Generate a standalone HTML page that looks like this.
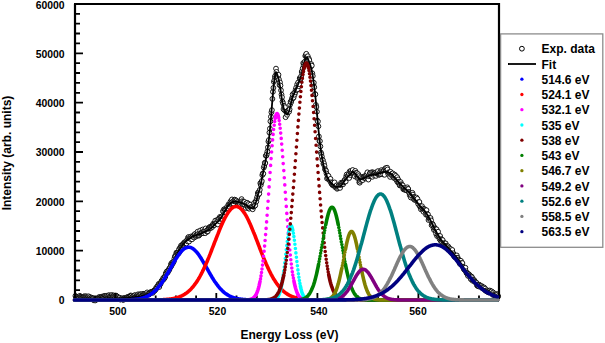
<!DOCTYPE html>
<html><head><meta charset="utf-8"><style>
html,body{margin:0;padding:0;background:#fff;}
svg{display:block;font-family:"Liberation Sans",sans-serif;font-weight:bold;}
</style></head><body>
<svg width="605" height="343" viewBox="0 0 605 343">
<rect width="605" height="343" fill="#fff"/>
<g fill="#fff" stroke="#000" stroke-width="0.9"><circle cx="75.4" cy="295.9" r="2.4"/><circle cx="75.9" cy="298.2" r="2.4"/><circle cx="76.4" cy="296.8" r="2.4"/><circle cx="76.9" cy="297.4" r="2.4"/><circle cx="77.4" cy="297.3" r="2.4"/><circle cx="77.9" cy="297.1" r="2.4"/><circle cx="78.4" cy="298.2" r="2.4"/><circle cx="78.9" cy="297.1" r="2.4"/><circle cx="79.4" cy="297.5" r="2.4"/><circle cx="79.9" cy="295.8" r="2.4"/><circle cx="80.4" cy="296.8" r="2.4"/><circle cx="80.9" cy="297.1" r="2.4"/><circle cx="81.5" cy="297.1" r="2.4"/><circle cx="82" cy="297.3" r="2.4"/><circle cx="82.5" cy="297.5" r="2.4"/><circle cx="83" cy="297.1" r="2.4"/><circle cx="83.5" cy="296.6" r="2.4"/><circle cx="84" cy="297" r="2.4"/><circle cx="84.5" cy="296.3" r="2.4"/><circle cx="85" cy="297.1" r="2.4"/><circle cx="85.5" cy="297" r="2.4"/><circle cx="86" cy="296.2" r="2.4"/><circle cx="86.5" cy="296.9" r="2.4"/><circle cx="87" cy="297.6" r="2.4"/><circle cx="87.5" cy="297.5" r="2.4"/><circle cx="88" cy="297.1" r="2.4"/><circle cx="88.5" cy="296.3" r="2.4"/><circle cx="89" cy="297.7" r="2.4"/><circle cx="89.5" cy="297.8" r="2.4"/><circle cx="90" cy="297.1" r="2.4"/><circle cx="90.5" cy="298.4" r="2.4"/><circle cx="91.1" cy="298.3" r="2.4"/><circle cx="91.6" cy="297.7" r="2.4"/><circle cx="92.1" cy="298.1" r="2.4"/><circle cx="92.6" cy="298.6" r="2.4"/><circle cx="93.1" cy="298.4" r="2.4"/><circle cx="93.6" cy="300.2" r="2.4"/><circle cx="94.1" cy="298.6" r="2.4"/><circle cx="94.6" cy="300" r="2.4"/><circle cx="95.1" cy="300.5" r="2.4"/><circle cx="95.6" cy="299.2" r="2.4"/><circle cx="96.1" cy="298.7" r="2.4"/><circle cx="96.6" cy="299.2" r="2.4"/><circle cx="97.1" cy="299.4" r="2.4"/><circle cx="97.6" cy="298.5" r="2.4"/><circle cx="98.1" cy="298.4" r="2.4"/><circle cx="98.6" cy="297.3" r="2.4"/><circle cx="99.1" cy="297.5" r="2.4"/><circle cx="99.6" cy="297.7" r="2.4"/><circle cx="100.1" cy="297" r="2.4"/><circle cx="100.6" cy="297.6" r="2.4"/><circle cx="101.2" cy="297.9" r="2.4"/><circle cx="101.7" cy="296.8" r="2.4"/><circle cx="102.2" cy="296.6" r="2.4"/><circle cx="102.7" cy="296.9" r="2.4"/><circle cx="103.2" cy="297.1" r="2.4"/><circle cx="103.7" cy="296.3" r="2.4"/><circle cx="104.2" cy="297.6" r="2.4"/><circle cx="104.7" cy="295.9" r="2.4"/><circle cx="105.2" cy="295.9" r="2.4"/><circle cx="105.7" cy="297.2" r="2.4"/><circle cx="106.2" cy="296.1" r="2.4"/><circle cx="106.7" cy="296.7" r="2.4"/><circle cx="107.2" cy="295.6" r="2.4"/><circle cx="107.7" cy="297.2" r="2.4"/><circle cx="108.2" cy="296.5" r="2.4"/><circle cx="108.7" cy="295.5" r="2.4"/><circle cx="109.2" cy="295.2" r="2.4"/><circle cx="109.7" cy="297" r="2.4"/><circle cx="110.2" cy="296.1" r="2.4"/><circle cx="110.8" cy="295.7" r="2.4"/><circle cx="111.3" cy="296.3" r="2.4"/><circle cx="111.8" cy="295" r="2.4"/><circle cx="112.3" cy="296.8" r="2.4"/><circle cx="112.8" cy="295.9" r="2.4"/><circle cx="113.3" cy="296.8" r="2.4"/><circle cx="113.8" cy="295.4" r="2.4"/><circle cx="114.3" cy="296.3" r="2.4"/><circle cx="114.8" cy="296.6" r="2.4"/><circle cx="115.3" cy="297.5" r="2.4"/><circle cx="115.8" cy="295.5" r="2.4"/><circle cx="116.3" cy="296.2" r="2.4"/><circle cx="116.8" cy="296.5" r="2.4"/><circle cx="117.3" cy="296.5" r="2.4"/><circle cx="117.8" cy="297.3" r="2.4"/><circle cx="118.3" cy="298.1" r="2.4"/><circle cx="118.8" cy="298.5" r="2.4"/><circle cx="119.3" cy="298.8" r="2.4"/><circle cx="119.8" cy="297.7" r="2.4"/><circle cx="120.4" cy="299.6" r="2.4"/><circle cx="120.9" cy="299" r="2.4"/><circle cx="121.4" cy="298.9" r="2.4"/><circle cx="121.9" cy="298.6" r="2.4"/><circle cx="122.4" cy="298.4" r="2.4"/><circle cx="122.9" cy="299.6" r="2.4"/><circle cx="123.4" cy="299.9" r="2.4"/><circle cx="123.9" cy="298.8" r="2.4"/><circle cx="124.4" cy="297.9" r="2.4"/><circle cx="124.9" cy="298" r="2.4"/><circle cx="125.4" cy="298.2" r="2.4"/><circle cx="125.9" cy="298.3" r="2.4"/><circle cx="126.4" cy="297.7" r="2.4"/><circle cx="126.9" cy="297.8" r="2.4"/><circle cx="127.4" cy="297" r="2.4"/><circle cx="127.9" cy="297.8" r="2.4"/><circle cx="128.4" cy="297.1" r="2.4"/><circle cx="128.9" cy="297.2" r="2.4"/><circle cx="129.4" cy="296.6" r="2.4"/><circle cx="130" cy="296.8" r="2.4"/><circle cx="130.5" cy="295.5" r="2.4"/><circle cx="131" cy="295.8" r="2.4"/><circle cx="131.5" cy="295.7" r="2.4"/><circle cx="132" cy="297.8" r="2.4"/><circle cx="132.5" cy="296.6" r="2.4"/><circle cx="133" cy="296.7" r="2.4"/><circle cx="133.5" cy="295.9" r="2.4"/><circle cx="134" cy="297.4" r="2.4"/><circle cx="134.5" cy="295.3" r="2.4"/><circle cx="135" cy="295.3" r="2.4"/><circle cx="135.5" cy="296.9" r="2.4"/><circle cx="136" cy="296.6" r="2.4"/><circle cx="136.5" cy="296.4" r="2.4"/><circle cx="137" cy="295.8" r="2.4"/><circle cx="137.5" cy="295.3" r="2.4"/><circle cx="138" cy="294.3" r="2.4"/><circle cx="138.5" cy="295.8" r="2.4"/><circle cx="139" cy="295" r="2.4"/><circle cx="139.5" cy="295.4" r="2.4"/><circle cx="140.1" cy="294.2" r="2.4"/><circle cx="140.6" cy="294.9" r="2.4"/><circle cx="141.1" cy="294.3" r="2.4"/><circle cx="141.6" cy="296.1" r="2.4"/><circle cx="142.1" cy="295.3" r="2.4"/><circle cx="142.6" cy="295.7" r="2.4"/><circle cx="143.1" cy="293.8" r="2.4"/><circle cx="143.6" cy="294.4" r="2.4"/><circle cx="144.1" cy="295" r="2.4"/><circle cx="144.6" cy="295" r="2.4"/><circle cx="145.1" cy="294.2" r="2.4"/><circle cx="145.6" cy="295" r="2.4"/><circle cx="146.1" cy="295" r="2.4"/><circle cx="146.6" cy="293.8" r="2.4"/><circle cx="147.1" cy="292.4" r="2.4"/><circle cx="147.6" cy="294.1" r="2.4"/><circle cx="148.1" cy="294.2" r="2.4"/><circle cx="148.6" cy="294.5" r="2.4"/><circle cx="149.1" cy="294.5" r="2.4"/><circle cx="149.7" cy="292.8" r="2.4"/><circle cx="150.2" cy="292.3" r="2.4"/><circle cx="150.7" cy="292.8" r="2.4"/><circle cx="151.2" cy="292.2" r="2.4"/><circle cx="151.7" cy="292.1" r="2.4"/><circle cx="152.2" cy="291.8" r="2.4"/><circle cx="152.7" cy="292.9" r="2.4"/><circle cx="153.2" cy="291.6" r="2.4"/><circle cx="153.7" cy="290.7" r="2.4"/><circle cx="154.2" cy="291" r="2.4"/><circle cx="154.7" cy="290.3" r="2.4"/><circle cx="155.2" cy="290.1" r="2.4"/><circle cx="155.7" cy="289.2" r="2.4"/><circle cx="156.2" cy="287.6" r="2.4"/><circle cx="156.7" cy="288.2" r="2.4"/><circle cx="157.2" cy="287.4" r="2.4"/><circle cx="157.7" cy="285.9" r="2.4"/><circle cx="158.2" cy="285.5" r="2.4"/><circle cx="158.7" cy="283.9" r="2.4"/><circle cx="159.3" cy="287" r="2.4"/><circle cx="159.8" cy="283.5" r="2.4"/><circle cx="160.3" cy="284.3" r="2.4"/><circle cx="160.8" cy="283" r="2.4"/><circle cx="161.3" cy="281.6" r="2.4"/><circle cx="161.8" cy="280.7" r="2.4"/><circle cx="162.3" cy="280" r="2.4"/><circle cx="162.8" cy="280.2" r="2.4"/><circle cx="163.3" cy="277.9" r="2.4"/><circle cx="163.8" cy="279.1" r="2.4"/><circle cx="164.3" cy="278.2" r="2.4"/><circle cx="164.8" cy="276.3" r="2.4"/><circle cx="165.3" cy="276.9" r="2.4"/><circle cx="165.8" cy="273.2" r="2.4"/><circle cx="166.3" cy="273.4" r="2.4"/><circle cx="166.8" cy="271.4" r="2.4"/><circle cx="167.3" cy="272.8" r="2.4"/><circle cx="167.8" cy="272.3" r="2.4"/><circle cx="168.3" cy="270.7" r="2.4"/><circle cx="168.9" cy="269.1" r="2.4"/><circle cx="169.4" cy="269.8" r="2.4"/><circle cx="169.9" cy="267.7" r="2.4"/><circle cx="170.4" cy="267.2" r="2.4"/><circle cx="170.9" cy="264.2" r="2.4"/><circle cx="171.4" cy="266" r="2.4"/><circle cx="171.9" cy="262.7" r="2.4"/><circle cx="172.4" cy="263.8" r="2.4"/><circle cx="172.9" cy="263.1" r="2.4"/><circle cx="173.4" cy="261.7" r="2.4"/><circle cx="173.9" cy="261.3" r="2.4"/><circle cx="174.4" cy="258.5" r="2.4"/><circle cx="174.9" cy="256.3" r="2.4"/><circle cx="175.4" cy="256.5" r="2.4"/><circle cx="175.9" cy="254.9" r="2.4"/><circle cx="176.4" cy="252.6" r="2.4"/><circle cx="176.9" cy="253.5" r="2.4"/><circle cx="177.4" cy="252.7" r="2.4"/><circle cx="177.9" cy="252.5" r="2.4"/><circle cx="178.5" cy="253.5" r="2.4"/><circle cx="179" cy="249.3" r="2.4"/><circle cx="179.5" cy="252" r="2.4"/><circle cx="180" cy="247.8" r="2.4"/><circle cx="180.5" cy="248" r="2.4"/><circle cx="181" cy="245.6" r="2.4"/><circle cx="181.5" cy="246.5" r="2.4"/><circle cx="182" cy="246.9" r="2.4"/><circle cx="182.5" cy="244.5" r="2.4"/><circle cx="183" cy="245.1" r="2.4"/><circle cx="183.5" cy="243.9" r="2.4"/><circle cx="184" cy="242.9" r="2.4"/><circle cx="184.5" cy="242.6" r="2.4"/><circle cx="185" cy="242.2" r="2.4"/><circle cx="185.5" cy="242.6" r="2.4"/><circle cx="186" cy="241.2" r="2.4"/><circle cx="186.5" cy="243.5" r="2.4"/><circle cx="187" cy="240.3" r="2.4"/><circle cx="187.5" cy="241.4" r="2.4"/><circle cx="188" cy="237.6" r="2.4"/><circle cx="188.6" cy="237" r="2.4"/><circle cx="189.1" cy="241.5" r="2.4"/><circle cx="189.6" cy="238" r="2.4"/><circle cx="190.1" cy="238" r="2.4"/><circle cx="190.6" cy="239.1" r="2.4"/><circle cx="191.1" cy="236.4" r="2.4"/><circle cx="191.6" cy="237.6" r="2.4"/><circle cx="192.1" cy="239.3" r="2.4"/><circle cx="192.6" cy="236.7" r="2.4"/><circle cx="193.1" cy="236.3" r="2.4"/><circle cx="193.6" cy="235.6" r="2.4"/><circle cx="194.1" cy="237.5" r="2.4"/><circle cx="194.6" cy="234.4" r="2.4"/><circle cx="195.1" cy="234" r="2.4"/><circle cx="195.6" cy="236.7" r="2.4"/><circle cx="196.1" cy="235.8" r="2.4"/><circle cx="196.6" cy="234.8" r="2.4"/><circle cx="197.1" cy="235.4" r="2.4"/><circle cx="197.6" cy="231.7" r="2.4"/><circle cx="198.2" cy="233.9" r="2.4"/><circle cx="198.7" cy="235.7" r="2.4"/><circle cx="199.2" cy="235.2" r="2.4"/><circle cx="199.7" cy="233.9" r="2.4"/><circle cx="200.2" cy="230.5" r="2.4"/><circle cx="200.7" cy="233.7" r="2.4"/><circle cx="201.2" cy="233" r="2.4"/><circle cx="201.7" cy="232.2" r="2.4"/><circle cx="202.2" cy="232.9" r="2.4"/><circle cx="202.7" cy="229.5" r="2.4"/><circle cx="203.2" cy="233.2" r="2.4"/><circle cx="203.7" cy="231" r="2.4"/><circle cx="204.2" cy="231.6" r="2.4"/><circle cx="204.7" cy="230.7" r="2.4"/><circle cx="205.2" cy="233.2" r="2.4"/><circle cx="205.7" cy="228.4" r="2.4"/><circle cx="206.2" cy="231.1" r="2.4"/><circle cx="206.7" cy="230.6" r="2.4"/><circle cx="207.2" cy="231.8" r="2.4"/><circle cx="207.8" cy="231.2" r="2.4"/><circle cx="208.3" cy="228.9" r="2.4"/><circle cx="208.8" cy="227.9" r="2.4"/><circle cx="209.3" cy="228" r="2.4"/><circle cx="209.8" cy="226.9" r="2.4"/><circle cx="210.3" cy="227.4" r="2.4"/><circle cx="210.8" cy="228.1" r="2.4"/><circle cx="211.3" cy="226.3" r="2.4"/><circle cx="211.8" cy="226.2" r="2.4"/><circle cx="212.3" cy="226.9" r="2.4"/><circle cx="212.8" cy="225" r="2.4"/><circle cx="213.3" cy="223.6" r="2.4"/><circle cx="213.8" cy="224.8" r="2.4"/><circle cx="214.3" cy="225.2" r="2.4"/><circle cx="214.8" cy="223" r="2.4"/><circle cx="215.3" cy="220.6" r="2.4"/><circle cx="215.8" cy="223.6" r="2.4"/><circle cx="216.3" cy="222.9" r="2.4"/><circle cx="216.8" cy="222.6" r="2.4"/><circle cx="217.4" cy="219.9" r="2.4"/><circle cx="217.9" cy="224.5" r="2.4"/><circle cx="218.4" cy="220.4" r="2.4"/><circle cx="218.9" cy="218.5" r="2.4"/><circle cx="219.4" cy="221.3" r="2.4"/><circle cx="219.9" cy="216.9" r="2.4"/><circle cx="220.4" cy="217.8" r="2.4"/><circle cx="220.9" cy="218.9" r="2.4"/><circle cx="221.4" cy="216.8" r="2.4"/><circle cx="221.9" cy="218.9" r="2.4"/><circle cx="222.4" cy="216.3" r="2.4"/><circle cx="222.9" cy="211.3" r="2.4"/><circle cx="223.4" cy="215" r="2.4"/><circle cx="223.9" cy="209.4" r="2.4"/><circle cx="224.4" cy="211.8" r="2.4"/><circle cx="224.9" cy="209.1" r="2.4"/><circle cx="225.4" cy="209.9" r="2.4"/><circle cx="225.9" cy="212.6" r="2.4"/><circle cx="226.4" cy="209.3" r="2.4"/><circle cx="226.9" cy="207.1" r="2.4"/><circle cx="227.5" cy="208.6" r="2.4"/><circle cx="228" cy="208.2" r="2.4"/><circle cx="228.5" cy="204.4" r="2.4"/><circle cx="229" cy="205.5" r="2.4"/><circle cx="229.5" cy="206.8" r="2.4"/><circle cx="230" cy="204.6" r="2.4"/><circle cx="230.5" cy="201.5" r="2.4"/><circle cx="231" cy="203.6" r="2.4"/><circle cx="231.5" cy="200.7" r="2.4"/><circle cx="232" cy="199.4" r="2.4"/><circle cx="232.5" cy="201.8" r="2.4"/><circle cx="233" cy="203.6" r="2.4"/><circle cx="233.5" cy="203.7" r="2.4"/><circle cx="234" cy="201.3" r="2.4"/><circle cx="234.5" cy="199.6" r="2.4"/><circle cx="235" cy="200.6" r="2.4"/><circle cx="235.5" cy="200.1" r="2.4"/><circle cx="236" cy="202" r="2.4"/><circle cx="236.5" cy="200.7" r="2.4"/><circle cx="237.1" cy="202.2" r="2.4"/><circle cx="237.6" cy="202.1" r="2.4"/><circle cx="238.1" cy="203.9" r="2.4"/><circle cx="238.6" cy="204.6" r="2.4"/><circle cx="239.1" cy="202.8" r="2.4"/><circle cx="239.6" cy="204.1" r="2.4"/><circle cx="240.1" cy="203.9" r="2.4"/><circle cx="240.6" cy="201.2" r="2.4"/><circle cx="241.1" cy="202.7" r="2.4"/><circle cx="241.6" cy="199.1" r="2.4"/><circle cx="242.1" cy="201.2" r="2.4"/><circle cx="242.6" cy="204.1" r="2.4"/><circle cx="243.1" cy="201.8" r="2.4"/><circle cx="243.6" cy="202.8" r="2.4"/><circle cx="244.1" cy="204.8" r="2.4"/><circle cx="244.6" cy="201.9" r="2.4"/><circle cx="245.1" cy="205.4" r="2.4"/><circle cx="245.6" cy="207.9" r="2.4"/><circle cx="246.1" cy="203.3" r="2.4"/><circle cx="246.7" cy="206.1" r="2.4"/><circle cx="247.2" cy="202.8" r="2.4"/><circle cx="247.7" cy="206.9" r="2.4"/><circle cx="248.2" cy="208.3" r="2.4"/><circle cx="248.7" cy="203.8" r="2.4"/><circle cx="249.2" cy="208.7" r="2.4"/><circle cx="249.7" cy="206.7" r="2.4"/><circle cx="250.2" cy="204.7" r="2.4"/><circle cx="250.7" cy="207.2" r="2.4"/><circle cx="251.2" cy="207.7" r="2.4"/><circle cx="251.7" cy="207.5" r="2.4"/><circle cx="252.2" cy="206.4" r="2.4"/><circle cx="252.7" cy="209.3" r="2.4"/><circle cx="253.2" cy="206.8" r="2.4"/><circle cx="253.7" cy="206.3" r="2.4"/><circle cx="254.2" cy="202.9" r="2.4"/><circle cx="254.7" cy="205.8" r="2.4"/><circle cx="255.2" cy="205.5" r="2.4"/><circle cx="255.7" cy="201.2" r="2.4"/><circle cx="256.3" cy="201.6" r="2.4"/><circle cx="256.8" cy="198.5" r="2.4"/><circle cx="257.3" cy="196.8" r="2.4"/><circle cx="257.8" cy="193" r="2.4"/><circle cx="258.3" cy="194.6" r="2.4"/><circle cx="258.8" cy="191.8" r="2.4"/><circle cx="259.3" cy="193.7" r="2.4"/><circle cx="259.8" cy="189.8" r="2.4"/><circle cx="260.3" cy="183.2" r="2.4"/><circle cx="260.8" cy="185" r="2.4"/><circle cx="261.3" cy="182.5" r="2.4"/><circle cx="261.8" cy="181" r="2.4"/><circle cx="262.3" cy="175.1" r="2.4"/><circle cx="262.8" cy="173.4" r="2.4"/><circle cx="263.3" cy="173.7" r="2.4"/><circle cx="263.8" cy="167.6" r="2.4"/><circle cx="264.3" cy="166" r="2.4"/><circle cx="264.8" cy="162.7" r="2.4"/><circle cx="265.3" cy="163.1" r="2.4"/><circle cx="265.8" cy="155.7" r="2.4"/><circle cx="266.4" cy="155.6" r="2.4"/><circle cx="266.9" cy="153.7" r="2.4"/><circle cx="267.4" cy="151.4" r="2.4"/><circle cx="267.9" cy="147.4" r="2.4"/><circle cx="268.4" cy="141.5" r="2.4"/><circle cx="268.9" cy="140" r="2.4"/><circle cx="269.4" cy="132.6" r="2.4"/><circle cx="269.9" cy="128.6" r="2.4"/><circle cx="270.4" cy="121.3" r="2.4"/><circle cx="270.9" cy="116.7" r="2.4"/><circle cx="271.4" cy="112.3" r="2.4"/><circle cx="271.9" cy="110.1" r="2.4"/><circle cx="272.4" cy="98.9" r="2.4"/><circle cx="272.9" cy="91.8" r="2.4"/><circle cx="273.4" cy="87.9" r="2.4"/><circle cx="273.9" cy="81.9" r="2.4"/><circle cx="274.4" cy="80.2" r="2.4"/><circle cx="274.9" cy="76.9" r="2.4"/><circle cx="275.4" cy="75.5" r="2.4"/><circle cx="276" cy="68.6" r="2.4"/><circle cx="276.5" cy="71.9" r="2.4"/><circle cx="277" cy="74.6" r="2.4"/><circle cx="277.5" cy="78.1" r="2.4"/><circle cx="278" cy="76.7" r="2.4"/><circle cx="278.5" cy="74.8" r="2.4"/><circle cx="279" cy="79.5" r="2.4"/><circle cx="279.5" cy="85" r="2.4"/><circle cx="280" cy="82.4" r="2.4"/><circle cx="280.5" cy="85.5" r="2.4"/><circle cx="281" cy="90.3" r="2.4"/><circle cx="281.5" cy="94.5" r="2.4"/><circle cx="282" cy="97.2" r="2.4"/><circle cx="282.5" cy="101.6" r="2.4"/><circle cx="283" cy="103.3" r="2.4"/><circle cx="283.5" cy="109.1" r="2.4"/><circle cx="284" cy="105.7" r="2.4"/><circle cx="284.5" cy="110.2" r="2.4"/><circle cx="285" cy="107.2" r="2.4"/><circle cx="285.6" cy="117.2" r="2.4"/><circle cx="286.1" cy="111.7" r="2.4"/><circle cx="286.6" cy="111.6" r="2.4"/><circle cx="287.1" cy="114.8" r="2.4"/><circle cx="287.6" cy="112.6" r="2.4"/><circle cx="288.1" cy="111.1" r="2.4"/><circle cx="288.6" cy="110.3" r="2.4"/><circle cx="289.1" cy="111.7" r="2.4"/><circle cx="289.6" cy="109.3" r="2.4"/><circle cx="290.1" cy="104.6" r="2.4"/><circle cx="290.6" cy="101.8" r="2.4"/><circle cx="291.1" cy="102.2" r="2.4"/><circle cx="291.6" cy="100.1" r="2.4"/><circle cx="292.1" cy="98" r="2.4"/><circle cx="292.6" cy="94.5" r="2.4"/><circle cx="293.1" cy="98.1" r="2.4"/><circle cx="293.6" cy="97.5" r="2.4"/><circle cx="294.1" cy="92.9" r="2.4"/><circle cx="294.6" cy="94.7" r="2.4"/><circle cx="295.2" cy="92.4" r="2.4"/><circle cx="295.7" cy="89.7" r="2.4"/><circle cx="296.2" cy="87.6" r="2.4"/><circle cx="296.7" cy="90.1" r="2.4"/><circle cx="297.2" cy="84.3" r="2.4"/><circle cx="297.7" cy="89.2" r="2.4"/><circle cx="298.2" cy="82.4" r="2.4"/><circle cx="298.7" cy="86.2" r="2.4"/><circle cx="299.2" cy="84.2" r="2.4"/><circle cx="299.7" cy="78.1" r="2.4"/><circle cx="300.2" cy="79.2" r="2.4"/><circle cx="300.7" cy="78.7" r="2.4"/><circle cx="301.2" cy="76.1" r="2.4"/><circle cx="301.7" cy="72" r="2.4"/><circle cx="302.2" cy="70.9" r="2.4"/><circle cx="302.7" cy="68.3" r="2.4"/><circle cx="303.2" cy="63.1" r="2.4"/><circle cx="303.7" cy="65.4" r="2.4"/><circle cx="304.2" cy="63.1" r="2.4"/><circle cx="304.8" cy="61.7" r="2.4"/><circle cx="305.3" cy="56" r="2.4"/><circle cx="305.8" cy="55.3" r="2.4"/><circle cx="306.3" cy="53.8" r="2.4"/><circle cx="306.8" cy="57" r="2.4"/><circle cx="307.3" cy="57.8" r="2.4"/><circle cx="307.8" cy="56.2" r="2.4"/><circle cx="308.3" cy="60.5" r="2.4"/><circle cx="308.8" cy="58.6" r="2.4"/><circle cx="309.3" cy="60.1" r="2.4"/><circle cx="309.8" cy="65" r="2.4"/><circle cx="310.3" cy="65" r="2.4"/><circle cx="310.8" cy="66.8" r="2.4"/><circle cx="311.3" cy="64.1" r="2.4"/><circle cx="311.8" cy="65.6" r="2.4"/><circle cx="312.3" cy="73.3" r="2.4"/><circle cx="312.8" cy="76" r="2.4"/><circle cx="313.3" cy="84.3" r="2.4"/><circle cx="313.8" cy="82.7" r="2.4"/><circle cx="314.3" cy="87.2" r="2.4"/><circle cx="314.9" cy="94" r="2.4"/><circle cx="315.4" cy="94.3" r="2.4"/><circle cx="315.9" cy="104.9" r="2.4"/><circle cx="316.4" cy="107" r="2.4"/><circle cx="316.9" cy="111.7" r="2.4"/><circle cx="317.4" cy="120.6" r="2.4"/><circle cx="317.9" cy="121.5" r="2.4"/><circle cx="318.4" cy="126.3" r="2.4"/><circle cx="318.9" cy="136.5" r="2.4"/><circle cx="319.4" cy="141.1" r="2.4"/><circle cx="319.9" cy="141.1" r="2.4"/><circle cx="320.4" cy="146.4" r="2.4"/><circle cx="320.9" cy="152.5" r="2.4"/><circle cx="321.4" cy="154" r="2.4"/><circle cx="321.9" cy="156.7" r="2.4"/><circle cx="322.4" cy="159.7" r="2.4"/><circle cx="322.9" cy="160.3" r="2.4"/><circle cx="323.4" cy="163.7" r="2.4"/><circle cx="323.9" cy="163.2" r="2.4"/><circle cx="324.5" cy="165.9" r="2.4"/><circle cx="325" cy="169.1" r="2.4"/><circle cx="325.5" cy="169.9" r="2.4"/><circle cx="326" cy="170.9" r="2.4"/><circle cx="326.5" cy="173.5" r="2.4"/><circle cx="327" cy="178.5" r="2.4"/><circle cx="327.5" cy="175.5" r="2.4"/><circle cx="328" cy="178" r="2.4"/><circle cx="328.5" cy="175.9" r="2.4"/><circle cx="329" cy="179.7" r="2.4"/><circle cx="329.5" cy="179.7" r="2.4"/><circle cx="330" cy="180.8" r="2.4"/><circle cx="330.5" cy="178.9" r="2.4"/><circle cx="331" cy="182.3" r="2.4"/><circle cx="331.5" cy="183.7" r="2.4"/><circle cx="332" cy="183.1" r="2.4"/><circle cx="332.5" cy="185.1" r="2.4"/><circle cx="333" cy="184.4" r="2.4"/><circle cx="333.5" cy="185.2" r="2.4"/><circle cx="334.1" cy="185.1" r="2.4"/><circle cx="334.6" cy="182.4" r="2.4"/><circle cx="335.1" cy="187.1" r="2.4"/><circle cx="335.6" cy="186.4" r="2.4"/><circle cx="336.1" cy="187" r="2.4"/><circle cx="336.6" cy="185.3" r="2.4"/><circle cx="337.1" cy="188.8" r="2.4"/><circle cx="337.6" cy="187.9" r="2.4"/><circle cx="338.1" cy="186.6" r="2.4"/><circle cx="338.6" cy="185.4" r="2.4"/><circle cx="339.1" cy="186.5" r="2.4"/><circle cx="339.6" cy="187.3" r="2.4"/><circle cx="340.1" cy="187.9" r="2.4"/><circle cx="340.6" cy="185" r="2.4"/><circle cx="341.1" cy="182.7" r="2.4"/><circle cx="341.6" cy="184.1" r="2.4"/><circle cx="342.1" cy="183.6" r="2.4"/><circle cx="342.6" cy="182.4" r="2.4"/><circle cx="343.1" cy="184.3" r="2.4"/><circle cx="343.7" cy="182.4" r="2.4"/><circle cx="344.2" cy="181.7" r="2.4"/><circle cx="344.7" cy="179.9" r="2.4"/><circle cx="345.2" cy="179.9" r="2.4"/><circle cx="345.7" cy="181.5" r="2.4"/><circle cx="346.2" cy="176.3" r="2.4"/><circle cx="346.7" cy="174.5" r="2.4"/><circle cx="347.2" cy="177.7" r="2.4"/><circle cx="347.7" cy="175.9" r="2.4"/><circle cx="348.2" cy="175.6" r="2.4"/><circle cx="348.7" cy="174" r="2.4"/><circle cx="349.2" cy="178" r="2.4"/><circle cx="349.7" cy="171.4" r="2.4"/><circle cx="350.2" cy="175" r="2.4"/><circle cx="350.7" cy="171" r="2.4"/><circle cx="351.2" cy="172.8" r="2.4"/><circle cx="351.7" cy="173.2" r="2.4"/><circle cx="352.2" cy="172.3" r="2.4"/><circle cx="352.7" cy="170" r="2.4"/><circle cx="353.2" cy="173.4" r="2.4"/><circle cx="353.8" cy="172.7" r="2.4"/><circle cx="354.3" cy="173.3" r="2.4"/><circle cx="354.8" cy="176.3" r="2.4"/><circle cx="355.3" cy="170.9" r="2.4"/><circle cx="355.8" cy="172.9" r="2.4"/><circle cx="356.3" cy="174.7" r="2.4"/><circle cx="356.8" cy="173.1" r="2.4"/><circle cx="357.3" cy="178" r="2.4"/><circle cx="357.8" cy="177" r="2.4"/><circle cx="358.3" cy="174.2" r="2.4"/><circle cx="358.8" cy="176.1" r="2.4"/><circle cx="359.3" cy="182.3" r="2.4"/><circle cx="359.8" cy="182.7" r="2.4"/><circle cx="360.3" cy="181.1" r="2.4"/><circle cx="360.8" cy="177" r="2.4"/><circle cx="361.3" cy="179.9" r="2.4"/><circle cx="361.8" cy="179.2" r="2.4"/><circle cx="362.3" cy="177.4" r="2.4"/><circle cx="362.8" cy="180.1" r="2.4"/><circle cx="363.4" cy="177.7" r="2.4"/><circle cx="363.9" cy="176.4" r="2.4"/><circle cx="364.4" cy="176.8" r="2.4"/><circle cx="364.9" cy="176.7" r="2.4"/><circle cx="365.4" cy="178.4" r="2.4"/><circle cx="365.9" cy="176" r="2.4"/><circle cx="366.4" cy="177.5" r="2.4"/><circle cx="366.9" cy="173.9" r="2.4"/><circle cx="367.4" cy="172.3" r="2.4"/><circle cx="367.9" cy="177.4" r="2.4"/><circle cx="368.4" cy="179.6" r="2.4"/><circle cx="368.9" cy="176.3" r="2.4"/><circle cx="369.4" cy="174.5" r="2.4"/><circle cx="369.9" cy="173.1" r="2.4"/><circle cx="370.4" cy="172.9" r="2.4"/><circle cx="370.9" cy="176.4" r="2.4"/><circle cx="371.4" cy="176.3" r="2.4"/><circle cx="371.9" cy="172.2" r="2.4"/><circle cx="372.4" cy="176.8" r="2.4"/><circle cx="373" cy="172.4" r="2.4"/><circle cx="373.5" cy="174.9" r="2.4"/><circle cx="374" cy="172.9" r="2.4"/><circle cx="374.5" cy="172.9" r="2.4"/><circle cx="375" cy="172.7" r="2.4"/><circle cx="375.5" cy="172.5" r="2.4"/><circle cx="376" cy="175.9" r="2.4"/><circle cx="376.5" cy="173.3" r="2.4"/><circle cx="377" cy="173.7" r="2.4"/><circle cx="377.5" cy="173" r="2.4"/><circle cx="378" cy="171.1" r="2.4"/><circle cx="378.5" cy="173.9" r="2.4"/><circle cx="379" cy="174.7" r="2.4"/><circle cx="379.5" cy="174.6" r="2.4"/><circle cx="380" cy="173.6" r="2.4"/><circle cx="380.5" cy="171.3" r="2.4"/><circle cx="381" cy="174.2" r="2.4"/><circle cx="381.5" cy="170.1" r="2.4"/><circle cx="382" cy="171.6" r="2.4"/><circle cx="382.6" cy="172.4" r="2.4"/><circle cx="383.1" cy="174.4" r="2.4"/><circle cx="383.6" cy="171.1" r="2.4"/><circle cx="384.1" cy="170.1" r="2.4"/><circle cx="384.6" cy="174.8" r="2.4"/><circle cx="385.1" cy="168.9" r="2.4"/><circle cx="385.6" cy="168.1" r="2.4"/><circle cx="386.1" cy="170.7" r="2.4"/><circle cx="386.6" cy="170.5" r="2.4"/><circle cx="387.1" cy="167.7" r="2.4"/><circle cx="387.6" cy="169.4" r="2.4"/><circle cx="388.1" cy="173.8" r="2.4"/><circle cx="388.6" cy="172.3" r="2.4"/><circle cx="389.1" cy="172.8" r="2.4"/><circle cx="389.6" cy="173" r="2.4"/><circle cx="390.1" cy="176.9" r="2.4"/><circle cx="390.6" cy="171.8" r="2.4"/><circle cx="391.1" cy="174.9" r="2.4"/><circle cx="391.6" cy="173.8" r="2.4"/><circle cx="392.1" cy="174.9" r="2.4"/><circle cx="392.7" cy="173.4" r="2.4"/><circle cx="393.2" cy="176.3" r="2.4"/><circle cx="393.7" cy="177.8" r="2.4"/><circle cx="394.2" cy="175.8" r="2.4"/><circle cx="394.7" cy="174.6" r="2.4"/><circle cx="395.2" cy="178.5" r="2.4"/><circle cx="395.7" cy="175.8" r="2.4"/><circle cx="396.2" cy="178.5" r="2.4"/><circle cx="396.7" cy="180.6" r="2.4"/><circle cx="397.2" cy="177.2" r="2.4"/><circle cx="397.7" cy="182.3" r="2.4"/><circle cx="398.2" cy="179.4" r="2.4"/><circle cx="398.7" cy="182.8" r="2.4"/><circle cx="399.2" cy="181.6" r="2.4"/><circle cx="399.7" cy="185.4" r="2.4"/><circle cx="400.2" cy="185.1" r="2.4"/><circle cx="400.7" cy="182.1" r="2.4"/><circle cx="401.2" cy="184.2" r="2.4"/><circle cx="401.7" cy="185" r="2.4"/><circle cx="402.3" cy="186.4" r="2.4"/><circle cx="402.8" cy="185.3" r="2.4"/><circle cx="403.3" cy="189.2" r="2.4"/><circle cx="403.8" cy="189.2" r="2.4"/><circle cx="404.3" cy="187.9" r="2.4"/><circle cx="404.8" cy="189.7" r="2.4"/><circle cx="405.3" cy="189.9" r="2.4"/><circle cx="405.8" cy="189.2" r="2.4"/><circle cx="406.3" cy="189.7" r="2.4"/><circle cx="406.8" cy="190.3" r="2.4"/><circle cx="407.3" cy="187.3" r="2.4"/><circle cx="407.8" cy="188.9" r="2.4"/><circle cx="408.3" cy="189" r="2.4"/><circle cx="408.8" cy="191.8" r="2.4"/><circle cx="409.3" cy="193.1" r="2.4"/><circle cx="409.8" cy="195.4" r="2.4"/><circle cx="410.3" cy="193.9" r="2.4"/><circle cx="410.8" cy="197.5" r="2.4"/><circle cx="411.3" cy="195.5" r="2.4"/><circle cx="411.9" cy="193.7" r="2.4"/><circle cx="412.4" cy="192.8" r="2.4"/><circle cx="412.9" cy="194.6" r="2.4"/><circle cx="413.4" cy="198.6" r="2.4"/><circle cx="413.9" cy="196.8" r="2.4"/><circle cx="414.4" cy="199.8" r="2.4"/><circle cx="414.9" cy="197.6" r="2.4"/><circle cx="415.4" cy="199.9" r="2.4"/><circle cx="415.9" cy="198.8" r="2.4"/><circle cx="416.4" cy="197.5" r="2.4"/><circle cx="416.9" cy="200.1" r="2.4"/><circle cx="417.4" cy="198.8" r="2.4"/><circle cx="417.9" cy="202.7" r="2.4"/><circle cx="418.4" cy="204.3" r="2.4"/><circle cx="418.9" cy="202" r="2.4"/><circle cx="419.4" cy="202" r="2.4"/><circle cx="419.9" cy="206.6" r="2.4"/><circle cx="420.4" cy="206.1" r="2.4"/><circle cx="420.9" cy="209.3" r="2.4"/><circle cx="421.5" cy="207.6" r="2.4"/><circle cx="422" cy="206.2" r="2.4"/><circle cx="422.5" cy="208.4" r="2.4"/><circle cx="423" cy="209.8" r="2.4"/><circle cx="423.5" cy="211.8" r="2.4"/><circle cx="424" cy="209.2" r="2.4"/><circle cx="424.5" cy="209.1" r="2.4"/><circle cx="425" cy="210.1" r="2.4"/><circle cx="425.5" cy="211.3" r="2.4"/><circle cx="426" cy="214.7" r="2.4"/><circle cx="426.5" cy="210.2" r="2.4"/><circle cx="427" cy="214.1" r="2.4"/><circle cx="427.5" cy="215.1" r="2.4"/><circle cx="428" cy="214.5" r="2.4"/><circle cx="428.5" cy="220" r="2.4"/><circle cx="429" cy="217.6" r="2.4"/><circle cx="429.5" cy="218.6" r="2.4"/><circle cx="430" cy="218.7" r="2.4"/><circle cx="430.5" cy="218" r="2.4"/><circle cx="431.1" cy="220.4" r="2.4"/><circle cx="431.6" cy="225.2" r="2.4"/><circle cx="432.1" cy="223.8" r="2.4"/><circle cx="432.6" cy="224" r="2.4"/><circle cx="433.1" cy="225.1" r="2.4"/><circle cx="433.6" cy="228.5" r="2.4"/><circle cx="434.1" cy="230.1" r="2.4"/><circle cx="434.6" cy="227.5" r="2.4"/><circle cx="435.1" cy="228.8" r="2.4"/><circle cx="435.6" cy="230.3" r="2.4"/><circle cx="436.1" cy="233.9" r="2.4"/><circle cx="436.6" cy="229.3" r="2.4"/><circle cx="437.1" cy="236.1" r="2.4"/><circle cx="437.6" cy="234.5" r="2.4"/><circle cx="438.1" cy="231.7" r="2.4"/><circle cx="438.6" cy="235.9" r="2.4"/><circle cx="439.1" cy="236.1" r="2.4"/><circle cx="439.6" cy="239.1" r="2.4"/><circle cx="440.1" cy="236" r="2.4"/><circle cx="440.6" cy="240.7" r="2.4"/><circle cx="441.2" cy="239.1" r="2.4"/><circle cx="441.7" cy="239.9" r="2.4"/><circle cx="442.2" cy="242.4" r="2.4"/><circle cx="442.7" cy="240.1" r="2.4"/><circle cx="443.2" cy="244.1" r="2.4"/><circle cx="443.7" cy="243.6" r="2.4"/><circle cx="444.2" cy="243.2" r="2.4"/><circle cx="444.7" cy="244.3" r="2.4"/><circle cx="445.2" cy="243.5" r="2.4"/><circle cx="445.7" cy="243.4" r="2.4"/><circle cx="446.2" cy="245.7" r="2.4"/><circle cx="446.7" cy="246.6" r="2.4"/><circle cx="447.2" cy="247.2" r="2.4"/><circle cx="447.7" cy="247.5" r="2.4"/><circle cx="448.2" cy="246.4" r="2.4"/><circle cx="448.7" cy="248.4" r="2.4"/><circle cx="449.2" cy="248.1" r="2.4"/><circle cx="449.7" cy="249.4" r="2.4"/><circle cx="450.2" cy="251" r="2.4"/><circle cx="450.8" cy="249.1" r="2.4"/><circle cx="451.3" cy="252.4" r="2.4"/><circle cx="451.8" cy="251.5" r="2.4"/><circle cx="452.3" cy="250" r="2.4"/><circle cx="452.8" cy="254.1" r="2.4"/><circle cx="453.3" cy="253.3" r="2.4"/><circle cx="453.8" cy="256" r="2.4"/><circle cx="454.3" cy="255.1" r="2.4"/><circle cx="454.8" cy="257.1" r="2.4"/><circle cx="455.3" cy="256.1" r="2.4"/><circle cx="455.8" cy="257" r="2.4"/><circle cx="456.3" cy="256.7" r="2.4"/><circle cx="456.8" cy="255.4" r="2.4"/><circle cx="457.3" cy="257.8" r="2.4"/><circle cx="457.8" cy="257.9" r="2.4"/><circle cx="458.3" cy="259.5" r="2.4"/><circle cx="458.8" cy="260.4" r="2.4"/><circle cx="459.3" cy="261.9" r="2.4"/><circle cx="459.8" cy="263.8" r="2.4"/><circle cx="460.4" cy="262.1" r="2.4"/><circle cx="460.9" cy="260.8" r="2.4"/><circle cx="461.4" cy="263" r="2.4"/><circle cx="461.9" cy="265.1" r="2.4"/><circle cx="462.4" cy="263.1" r="2.4"/><circle cx="462.9" cy="266.6" r="2.4"/><circle cx="463.4" cy="267.6" r="2.4"/><circle cx="463.9" cy="269.2" r="2.4"/><circle cx="464.4" cy="269.7" r="2.4"/><circle cx="464.9" cy="269.6" r="2.4"/><circle cx="465.4" cy="267.7" r="2.4"/><circle cx="465.9" cy="271.2" r="2.4"/><circle cx="466.4" cy="272.9" r="2.4"/><circle cx="466.9" cy="273.2" r="2.4"/><circle cx="467.4" cy="273.4" r="2.4"/><circle cx="467.9" cy="275.8" r="2.4"/><circle cx="468.4" cy="274.3" r="2.4"/><circle cx="468.9" cy="274.3" r="2.4"/><circle cx="469.4" cy="275.3" r="2.4"/><circle cx="470" cy="275.6" r="2.4"/><circle cx="470.5" cy="278.3" r="2.4"/><circle cx="471" cy="279.3" r="2.4"/><circle cx="471.5" cy="276.6" r="2.4"/><circle cx="472" cy="277.3" r="2.4"/><circle cx="472.5" cy="280.7" r="2.4"/><circle cx="473" cy="279.4" r="2.4"/><circle cx="473.5" cy="280.1" r="2.4"/><circle cx="474" cy="280" r="2.4"/><circle cx="474.5" cy="280.9" r="2.4"/><circle cx="475" cy="282.1" r="2.4"/><circle cx="475.5" cy="281.9" r="2.4"/><circle cx="476" cy="282.4" r="2.4"/><circle cx="476.5" cy="283" r="2.4"/><circle cx="477" cy="285.3" r="2.4"/><circle cx="477.5" cy="285.9" r="2.4"/><circle cx="478" cy="285.1" r="2.4"/><circle cx="478.5" cy="286.4" r="2.4"/><circle cx="479" cy="284.9" r="2.4"/><circle cx="479.5" cy="284.8" r="2.4"/><circle cx="480.1" cy="285.7" r="2.4"/><circle cx="480.6" cy="286.7" r="2.4"/><circle cx="481.1" cy="286.6" r="2.4"/><circle cx="481.6" cy="286" r="2.4"/><circle cx="482.1" cy="288.1" r="2.4"/><circle cx="482.6" cy="286.9" r="2.4"/><circle cx="483.1" cy="287.5" r="2.4"/><circle cx="483.6" cy="288.2" r="2.4"/><circle cx="484.1" cy="287.5" r="2.4"/><circle cx="484.6" cy="289.8" r="2.4"/><circle cx="485.1" cy="288.6" r="2.4"/><circle cx="485.6" cy="290.6" r="2.4"/><circle cx="486.1" cy="290.8" r="2.4"/><circle cx="486.6" cy="291.3" r="2.4"/><circle cx="487.1" cy="290.3" r="2.4"/><circle cx="487.6" cy="291.8" r="2.4"/><circle cx="488.1" cy="291.2" r="2.4"/><circle cx="488.6" cy="292.5" r="2.4"/><circle cx="489.1" cy="290.9" r="2.4"/><circle cx="489.7" cy="290.5" r="2.4"/><circle cx="490.2" cy="292.1" r="2.4"/><circle cx="490.7" cy="291.2" r="2.4"/><circle cx="491.2" cy="292.3" r="2.4"/><circle cx="491.7" cy="291.4" r="2.4"/><circle cx="492.2" cy="293.2" r="2.4"/><circle cx="492.7" cy="294.8" r="2.4"/><circle cx="493.2" cy="292.5" r="2.4"/><circle cx="493.7" cy="294.1" r="2.4"/><circle cx="494.2" cy="295" r="2.4"/><circle cx="494.7" cy="294.9" r="2.4"/><circle cx="495.2" cy="295.8" r="2.4"/><circle cx="495.7" cy="294.9" r="2.4"/><circle cx="496.2" cy="295.8" r="2.4"/><circle cx="496.7" cy="294" r="2.4"/><circle cx="497.2" cy="294.6" r="2.4"/><circle cx="497.7" cy="296.3" r="2.4"/><circle cx="498.2" cy="296.2" r="2.4"/></g>
<path d="M75 298.8 L75.5 298.8 L76 298.8 L76.5 298.8 L77 298.8 L77.5 298.8 L78 298.8 L78.5 298.8 L79 298.8 L79.5 298.8 L80 298.8 L80.5 298.8 L81 298.8 L81.5 298.8 L82 298.8 L82.5 298.8 L83 298.8 L83.5 298.8 L84 298.7 L84.5 298.7 L85 298.7 L85.5 298.7 L86 298.7 L86.5 298.7 L87 298.7 L87.5 298.7 L88 298.7 L88.5 298.7 L89 298.7 L89.5 298.7 L90 298.7 L90.5 298.7 L91 298.7 L91.5 298.7 L92 298.7 L92.5 298.7 L93 298.7 L93.5 298.7 L94 298.7 L94.5 298.7 L95 298.7 L95.5 298.6 L96 298.6 L96.5 298.6 L97 298.6 L97.5 298.6 L98 298.6 L98.5 298.6 L99 298.6 L99.5 298.6 L100 298.6 L100.5 298.6 L101 298.6 L101.5 298.6 L102 298.6 L102.5 298.6 L103 298.6 L103.5 298.6 L104 298.6 L104.5 298.6 L105 298.5 L105.5 298.5 L106 298.5 L106.5 298.5 L107 298.5 L107.5 298.5 L108 298.5 L108.5 298.5 L109 298.5 L109.5 298.5 L110 298.5 L110.5 298.5 L111 298.5 L111.5 298.5 L112 298.5 L112.5 298.5 L113 298.5 L113.5 298.4 L114 298.4 L114.5 298.4 L115 298.4 L115.5 298.4 L116 298.4 L116.5 298.4 L117 298.4 L117.5 298.4 L118 298.4 L118.5 298.4 L119 298.4 L119.5 298.3 L120 298.3 L120.5 298.3 L121 298.3 L121.5 298.3 L122 298.3 L122.5 298.3 L123 298.3 L123.5 298.2 L124 298.2 L124.5 298.2 L125 298.2 L125.5 298.2 L126 298.2 L126.5 298.1 L127 298.1 L127.5 298.1 L128 298 L128.5 298 L129 298 L129.5 297.9 L130 297.9 L130.5 297.8 L131 297.8 L131.5 297.7 L132 297.7 L132.5 297.6 L133 297.5 L133.5 297.5 L134 297.4 L134.5 297.4 L135 297.3 L135.5 297.2 L136 297.2 L136.5 297.1 L137 297 L137.5 296.9 L138 296.9 L138.5 296.8 L139 296.7 L139.5 296.6 L140 296.5 L140.5 296.4 L141 296.3 L141.5 296.2 L142 296.1 L142.5 296 L143 295.9 L143.5 295.8 L144 295.7 L144.5 295.6 L145 295.4 L145.5 295.3 L146 295.2 L146.5 295 L147 294.9 L147.5 294.7 L148 294.6 L148.5 294.4 L149 294.2 L149.5 294 L150 293.8 L150.5 293.6 L151 293.3 L151.5 293 L152 292.7 L152.5 292.3 L153 291.9 L153.5 291.5 L154 291.1 L154.5 290.6 L155 290.1 L155.5 289.6 L156 289.1 L156.5 288.5 L157 288 L157.5 287.4 L158 286.8 L158.5 286.3 L159 285.7 L159.5 285.1 L160 284.5 L160.5 283.9 L161 283.3 L161.5 282.6 L162 281.9 L162.5 281.2 L163 280.4 L163.5 279.6 L164 278.8 L164.5 278 L165 277.2 L165.5 276.3 L166 275.5 L166.5 274.6 L167 273.7 L167.5 272.8 L168 271.9 L168.5 271 L169 270.1 L169.5 269.1 L170 268.2 L170.5 267.2 L171 266.2 L171.5 265.2 L172 264.1 L172.5 263 L173 261.9 L173.5 260.9 L174 259.8 L174.5 258.8 L175 257.8 L175.5 256.9 L176 255.9 L176.5 255 L177 254.1 L177.5 253.2 L178 252.3 L178.5 251.4 L179 250.6 L179.5 249.8 L180 249 L180.5 248.2 L181 247.5 L181.5 246.7 L182 246 L182.5 245.3 L183 244.6 L183.5 243.9 L184 243.3 L184.5 242.7 L185 242.2 L185.5 241.7 L186 241.2 L186.5 240.8 L187 240.4 L187.5 240 L188 239.6 L188.5 239.2 L189 238.9 L189.5 238.5 L190 238.2 L190.5 237.9 L191 237.6 L191.5 237.3 L192 237 L192.5 236.7 L193 236.4 L193.5 236.2 L194 235.9 L194.5 235.7 L195 235.5 L195.5 235.3 L196 235.2 L196.5 235 L197 234.9 L197.5 234.7 L198 234.6 L198.5 234.5 L199 234.3 L199.5 234.2 L200 234 L200.5 233.8 L201 233.6 L201.5 233.4 L202 233.2 L202.5 233 L203 232.8 L203.5 232.5 L204 232.3 L204.5 232 L205 231.8 L205.5 231.6 L206 231.3 L206.5 231.1 L207 230.8 L207.5 230.5 L208 230.3 L208.5 230 L209 229.7 L209.5 229.3 L210 229 L210.5 228.6 L211 228.2 L211.5 227.8 L212 227.3 L212.5 226.8 L213 226.3 L213.5 225.8 L214 225.3 L214.5 224.8 L215 224.3 L215.5 223.8 L216 223.4 L216.5 223 L217 222.5 L217.5 222.1 L218 221.6 L218.5 221.1 L219 220.6 L219.5 220.1 L220 219.5 L220.5 218.8 L221 218.1 L221.5 217.3 L222 216.4 L222.5 215.5 L223 214.5 L223.5 213.6 L224 212.7 L224.5 211.8 L225 211 L225.5 210.2 L226 209.3 L226.5 208.5 L227 207.6 L227.5 206.8 L228 206 L228.5 205.3 L229 204.7 L229.5 204.1 L230 203.7 L230.5 203.4 L231 203 L231.5 202.7 L232 202.4 L232.5 202.1 L233 201.9 L233.5 201.7 L234 201.5 L234.5 201.4 L235 201.4 L235.5 201.4 L236 201.5 L236.5 201.6 L237 201.7 L237.5 201.8 L238 201.9 L238.5 202.1 L239 202.2 L239.5 202.4 L240 202.5 L240.5 202.6 L241 202.8 L241.5 202.9 L242 203.1 L242.5 203.3 L243 203.5 L243.5 203.7 L244 203.9 L244.5 204.1 L245 204.3 L245.5 204.6 L246 204.9 L246.5 205.2 L247 205.6 L247.5 206 L248 206.4 L248.5 206.7 L249 207 L249.5 207.3 L250 207.5 L250.5 207.7 L251 207.8 L251.5 208 L252 208.1 L252.5 208.2 L253 208.2 L253.5 207.9 L254 207.1 L254.5 206 L255 204.8 L255.5 203.5 L256 202.1 L256.5 200.3 L257 198.4 L257.5 196.5 L258 194.6 L258.5 192.9 L259 191.2 L259.5 189.5 L260 187.6 L260.5 185.4 L261 183 L261.5 180.5 L262 178 L262.5 175.6 L263 173.2 L263.5 170.8 L264 168.4 L264.5 166 L265 163.7 L265.5 161.3 L266 158.7 L266.5 155.9 L267 152.9 L267.5 149.7 L268 146.3 L268.5 142.7 L269 138.7 L269.5 134.2 L270 129 L270.5 123.5 L271 117.6 L271.5 111.3 L272 104.9 L272.5 98.9 L273 93.1 L273.5 87.9 L274 82.9 L274.5 79 L275 75.9 L275.5 73.3 L276 72.2 L276.5 72.7 L277 73.8 L277.5 75.2 L278 76.8 L278.5 78.7 L279 81 L279.5 83.6 L280 86.2 L280.5 89.3 L281 92.8 L281.5 96.6 L282 100.1 L282.5 103 L283 105.3 L283.5 107.4 L284 109.3 L284.5 110.9 L285 112 L285.5 112.8 L286 113.6 L286.5 114.1 L287 114.3 L287.5 114 L288 113.2 L288.5 112.1 L289 111 L289.5 109.6 L290 107.7 L290.5 105.5 L291 103.2 L291.5 101.1 L292 99.1 L292.5 97.6 L293 96.3 L293.5 95 L294 93.8 L294.5 92.7 L295 91.6 L295.5 90.5 L296 89.4 L296.5 88.2 L297 87 L297.5 85.7 L298 84.5 L298.5 83.2 L299 81.9 L299.5 80.6 L300 79.1 L300.5 77.7 L301 76.1 L301.5 74.3 L302 72.2 L302.5 69.7 L303 67.2 L303.5 64.8 L304 63 L304.5 61.5 L305 60 L305.5 58.6 L306 57.7 L306.5 57.2 L307 57.4 L307.5 58.1 L308 59.1 L308.5 60.3 L309 61.5 L309.5 62.7 L310 64.1 L310.5 65.7 L311 67.5 L311.5 69.5 L312 71.7 L312.5 74.3 L313 77.4 L313.5 81 L314 84.7 L314.5 88.7 L315 93 L315.5 97.9 L316 103 L316.5 108.2 L317 113.7 L317.5 119.4 L318 124.9 L318.5 130 L319 134.7 L319.5 139.3 L320 143.4 L320.5 147.3 L321 150.8 L321.5 154.2 L322 157.2 L322.5 160 L323 162.6 L323.5 165 L324 167.2 L324.5 169.1 L325 170.9 L325.5 172.4 L326 173.9 L326.5 175.2 L327 176.4 L327.5 177.5 L328 178.4 L328.5 179.3 L329 180.2 L329.5 181 L330 181.7 L330.5 182.4 L331 183 L331.5 183.5 L332 184 L332.5 184.5 L333 185 L333.5 185.4 L334 185.9 L334.5 186.3 L335 186.6 L335.5 186.8 L336 186.9 L336.5 186.9 L337 186.9 L337.5 186.9 L338 186.8 L338.5 186.8 L339 186.7 L339.5 186.7 L340 186.6 L340.5 186.3 L341 185.9 L341.5 185.2 L342 184.5 L342.5 183.7 L343 183 L343.5 182.3 L344 181.7 L344.5 181 L345 180.3 L345.5 179.7 L346 179 L346.5 178.3 L347 177.7 L347.5 177.2 L348 176.6 L348.5 176.1 L349 175.6 L349.5 175.1 L350 174.6 L350.5 174.1 L351 173.5 L351.5 172.9 L352 172.5 L352.5 172.1 L353 172 L353.5 172.1 L354 172.4 L354.5 172.9 L355 173.5 L355.5 174 L356 174.6 L356.5 175.2 L357 176 L357.5 176.7 L358 177.4 L358.5 178 L359 178.5 L359.5 178.9 L360 179.3 L360.5 179.4 L361 179.3 L361.5 179.2 L362 179 L362.5 178.8 L363 178.6 L363.5 178.4 L364 178.2 L364.5 177.9 L365 177.7 L365.5 177.4 L366 177.2 L366.5 177 L367 176.7 L367.5 176.5 L368 176.2 L368.5 176 L369 175.7 L369.5 175.6 L370 175.4 L370.5 175.3 L371 175.2 L371.5 175.1 L372 175 L372.5 174.9 L373 174.8 L373.5 174.8 L374 174.7 L374.5 174.6 L375 174.5 L375.5 174.4 L376 174.3 L376.5 174.2 L377 174.1 L377.5 173.9 L378 173.8 L378.5 173.7 L379 173.6 L379.5 173.4 L380 173.3 L380.5 173.1 L381 172.9 L381.5 172.7 L382 172.5 L382.5 172.3 L383 172.1 L383.5 171.9 L384 171.7 L384.5 171.6 L385 171.6 L385.5 171.6 L386 171.7 L386.5 171.8 L387 171.9 L387.5 172.1 L388 172.3 L388.5 172.5 L389 172.7 L389.5 173 L390 173.2 L390.5 173.5 L391 173.8 L391.5 174.3 L392 174.7 L392.5 175.3 L393 175.8 L393.5 176.4 L394 176.9 L394.5 177.5 L395 178 L395.5 178.5 L396 179.1 L396.5 179.6 L397 180.2 L397.5 180.8 L398 181.4 L398.5 181.9 L399 182.5 L399.5 183.1 L400 183.6 L400.5 184.1 L401 184.6 L401.5 185.2 L402 185.7 L402.5 186.2 L403 186.7 L403.5 187.1 L404 187.6 L404.5 188.1 L405 188.6 L405.5 189.1 L406 189.5 L406.5 190 L407 190.4 L407.5 190.8 L408 191.3 L408.5 191.7 L409 192.2 L409.5 192.7 L410 193.2 L410.5 193.7 L411 194.3 L411.5 194.9 L412 195.6 L412.5 196.2 L413 196.9 L413.5 197.5 L414 198.2 L414.5 198.9 L415 199.5 L415.5 200.1 L416 200.8 L416.5 201.5 L417 202.1 L417.5 202.8 L418 203.5 L418.5 204.1 L419 204.8 L419.5 205.4 L420 206 L420.5 206.6 L421 207.1 L421.5 207.6 L422 208.1 L422.5 208.6 L423 209.1 L423.5 209.7 L424 210.2 L424.5 210.8 L425 211.4 L425.5 212.1 L426 212.8 L426.5 213.5 L427 214.3 L427.5 215.1 L428 216 L428.5 216.8 L429 217.7 L429.5 218.6 L430 219.5 L430.5 220.4 L431 221.4 L431.5 222.4 L432 223.4 L432.5 224.5 L433 225.5 L433.5 226.6 L434 227.6 L434.5 228.6 L435 229.5 L435.5 230.4 L436 231.3 L436.5 232.2 L437 233.1 L437.5 234 L438 234.9 L438.5 235.7 L439 236.5 L439.5 237.3 L440 238.1 L440.5 238.9 L441 239.6 L441.5 240.2 L442 240.9 L442.5 241.5 L443 242.1 L443.5 242.6 L444 243.2 L444.5 243.8 L445 244.3 L445.5 244.8 L446 245.4 L446.5 245.9 L447 246.5 L447.5 247 L448 247.6 L448.5 248.2 L449 248.7 L449.5 249.3 L450 249.8 L450.5 250.4 L451 250.9 L451.5 251.5 L452 252 L452.5 252.6 L453 253.2 L453.5 253.8 L454 254.4 L454.5 255 L455 255.6 L455.5 256.2 L456 256.8 L456.5 257.4 L457 258 L457.5 258.7 L458 259.3 L458.5 260 L459 260.6 L459.5 261.3 L460 262 L460.5 262.7 L461 263.4 L461.5 264.2 L462 264.9 L462.5 265.7 L463 266.5 L463.5 267.4 L464 268.2 L464.5 269 L465 269.8 L465.5 270.6 L466 271.4 L466.5 272.2 L467 272.9 L467.5 273.6 L468 274.2 L468.5 274.9 L469 275.5 L469.5 276.1 L470 276.7 L470.5 277.2 L471 277.8 L471.5 278.4 L472 278.9 L472.5 279.4 L473 280 L473.5 280.5 L474 281 L474.5 281.5 L475 281.9 L475.5 282.4 L476 282.9 L476.5 283.3 L477 283.8 L477.5 284.2 L478 284.7 L478.5 285.1 L479 285.5 L479.5 285.9 L480 286.3 L480.5 286.7 L481 287.1 L481.5 287.5 L482 287.8 L482.5 288.2 L483 288.6 L483.5 288.9 L484 289.3 L484.5 289.6 L485 289.9 L485.5 290.3 L486 290.6 L486.5 290.9 L487 291.2 L487.5 291.5 L488 291.8 L488.5 292.1 L489 292.3 L489.5 292.6 L490 292.9 L490.5 293.2 L491 293.4 L491.5 293.7 L492 293.9 L492.5 294.2 L493 294.4 L493.5 294.7 L494 294.9 L494.5 295.1 L495 295.3 L495.5 295.6 L496 295.8 L496.5 296 L497 296 L497.5 296 L498 296 L498.5 296 L499 296" fill="none" stroke="#000" stroke-width="1.8"/>
<path d="M75 4V299H499" fill="none" stroke="#000" stroke-width="2.2"/>
<path d="M74 4H499V299" fill="none" stroke="#000" stroke-width="2.2"/>
<path d="M76 300.1h7 M76 290.2h4 M76 280.4h4 M76 270.5h4 M76 260.6h4 M76 250.7h7 M76 240.9h4 M76 231h4 M76 221.1h4 M76 211.2h4 M76 201.4h7 M76 191.5h4 M76 181.6h4 M76 171.7h4 M76 161.9h4 M76 152h7 M76 142.1h4 M76 132.3h4 M76 122.4h4 M76 112.5h4 M76 102.6h7 M76 92.8h4 M76 82.9h4 M76 73h4 M76 63.1h4 M76 53.3h7 M76 43.4h4 M76 33.5h4 M76 23.6h4 M76 13.8h4 M76 3.9h7 M95.1 299v-3.5 M115.3 299v-6 M135.5 299v-3.5 M155.7 299v-3.5 M175.9 299v-3.5 M196.1 299v-3.5 M216.3 299v-6 M236.5 299v-3.5 M256.8 299v-3.5 M277 299v-3.5 M297.2 299v-3.5 M317.4 299v-6 M337.6 299v-3.5 M357.8 299v-3.5 M378 299v-3.5 M398.2 299v-3.5 M418.4 299v-6 M438.6 299v-3.5 M458.8 299v-3.5 M479 299v-3.5" stroke="#000" stroke-width="1.8" fill="none"/>
<g fill="none" stroke-width="3.6" stroke-linecap="round" stroke-linejoin="round"><path d="M74.6 300h0L75.1 300L75.6 300L76.1 300L76.6 300L77.1 300L77.6 300L78.1 300L78.6 300L79.1 300L79.7 300L80.2 300L80.7 300L81.2 300L81.7 300L82.2 300L82.7 300L83.2 300L83.7 300L84.2 300L84.7 300L85.2 300L85.7 300L86.2 300L86.7 300L87.2 300L87.7 300L88.2 300L88.7 300L89.3 300L89.8 300L90.3 300L90.8 300L91.3 300L91.8 300L92.3 300L92.8 300L93.3 300L93.8 300L94.3 300L94.8 300L95.3 300L95.8 300L96.3 300L96.8 300L97.3 300L97.8 300L98.3 300L98.8 300L99.4 300L99.9 300L100.4 300L100.9 300L101.4 300L101.9 300L102.4 300L102.9 300L103.4 300L103.9 300L104.4 300L104.9 300L105.4 300L105.9 300L106.4 300L106.9 300L107.4 300L107.9 300L108.4 300L109 300L109.5 300L110 300L110.5 300L111 300L111.5 300L112 300L112.5 300L113 300L113.5 300L114 300L114.5 300L115 300L115.5 300L116 300L116.5 300L117 300L117.5 300L118 300L118.6 300L119.1 300L119.6 300L120.1 300L120.6 300L121.1 300L121.6 299.9L122.1 299.9L122.6 299.9L123.1 299.9L123.6 299.9L124.1 299.9L124.6 299.9L125.1 299.9L125.6 299.9L126.1 299.9L126.6 299.9L127.1 299.8L127.6 299.8L128.2 299.8L128.7 299.8L129.2 299.8L129.7 299.8L130.2 299.7L130.7 299.7L131.2 299.7L131.7 299.6L132.2 299.6L132.7 299.6L133.2 299.5L133.7 299.5L134.2 299.5L134.7 299.4L135.2 299.4L135.7 299.3L136.2 299.2L136.7 299.2L137.2 299.1L137.8 299L138.3 299L138.8 298.9L139.3 298.8L139.8 298.7L140.3 298.6L140.8 298.5L141.3 298.4L141.8 298.2L142.3 298.1L142.8 298L143.3 297.8L143.8 297.6L144.3 297.5L144.8 297.3L145.3 297.1L145.8 296.9L146.3 296.7L146.8 296.5L147.3 296.2L147.9 296L148.4 295.7L148.9 295.4L149.4 295.1L149.9 294.8L150.4 294.5L150.9 294.2L151.4 293.8L151.9 293.5L152.4 293.1L152.9 292.7L153.4 292.3L153.9 291.8L154.4 291.4L154.9 290.9L155.4 290.4L155.9 289.9L156.4 289.4L156.9 288.9L157.5 288.3L158 287.7L158.5 287.1L159 286.5L159.5 285.9L160 285.2L160.5 284.5L161 283.9L161.5 283.2L162 282.4L162.5 281.7L163 280.9L163.5 280.2L164 279.4L164.5 278.6L165 277.8L165.5 276.9L166 276.1L166.5 275.2L167.1 274.4L167.6 273.5L168.1 272.6L168.6 271.8L169.1 270.9L169.6 270L170.1 269.1L170.6 268.2L171.1 267.3L171.6 266.4L172.1 265.5L172.6 264.6L173.1 263.7L173.6 262.8L174.1 262L174.6 261.1L175.1 260.3L175.6 259.4L176.1 258.6L176.7 257.8L177.2 257L177.7 256.3L178.2 255.5L178.7 254.8L179.2 254.1L179.7 253.4L180.2 252.8L180.7 252.2L181.2 251.6L181.7 251L182.2 250.5L182.7 250L183.2 249.6L183.7 249.2L184.2 248.8L184.7 248.5L185.2 248.2L185.7 247.9L186.2 247.7L186.8 247.5L187.3 247.4L187.8 247.3L188.3 247.2L188.8 247.2L189.3 247.2L189.8 247.3L190.3 247.4L190.8 247.6L191.3 247.7L191.8 248L192.3 248.3L192.8 248.6L193.3 248.9L193.8 249.3L194.3 249.7L194.8 250.2L195.3 250.7L195.8 251.2L196.4 251.8L196.9 252.4L197.4 253L197.9 253.6L198.4 254.3L198.9 255L199.4 255.7L199.9 256.5L200.4 257.2L200.9 258L201.4 258.8L201.9 259.7L202.4 260.5L202.9 261.4L203.4 262.2L203.9 263.1L204.4 264L204.9 264.9L205.4 265.7L206 266.6L206.5 267.5L207 268.4L207.5 269.3L208 270.2L208.5 271.1L209 272L209.5 272.9L210 273.8L210.5 274.6L211 275.5L211.5 276.3L212 277.2L212.5 278L213 278.8L213.5 279.6L214 280.4L214.5 281.2L215 281.9L215.6 282.6L216.1 283.4L216.6 284.1L217.1 284.7L217.6 285.4L218.1 286.1L218.6 286.7L219.1 287.3L219.6 287.9L220.1 288.5L220.6 289L221.1 289.6L221.6 290.1L222.1 290.6L222.6 291.1L223.1 291.5L223.6 292L224.1 292.4L224.6 292.8L225.1 293.2L225.7 293.6L226.2 293.9L226.7 294.3L227.2 294.6L227.7 294.9L228.2 295.2L228.7 295.5L229.2 295.8L229.7 296.1L230.2 296.3L230.7 296.5L231.2 296.8L231.7 297L232.2 297.2L232.7 297.3L233.2 297.5L233.7 297.7L234.2 297.8L234.7 298L235.3 298.1L235.8 298.3L236.3 298.4L236.8 298.5L237.3 298.6L237.8 298.7L238.3 298.8L238.8 298.9L239.3 299L239.8 299.1L240.3 299.1L240.8 299.2L241.3 299.3L241.8 299.3L242.3 299.4L242.8 299.4L243.3 299.5L243.8 299.5L244.3 299.6L244.9 299.6L245.4 299.6L245.9 299.7L246.4 299.7L246.9 299.7L247.4 299.7L247.9 299.8L248.4 299.8L248.9 299.8L249.4 299.8L249.9 299.8L250.4 299.9L250.9 299.9L251.4 299.9L251.9 299.9L252.4 299.9L252.9 299.9L253.4 299.9L253.9 299.9L254.5 299.9L255 299.9L255.5 299.9L256 300L256.5 300L257 300L257.5 300L258 300L258.5 300L259 300L259.5 300L260 300L260.5 300L261 300L261.5 300L262 300L262.5 300L263 300L263.5 300L264.1 300L264.6 300L265.1 300L265.6 300L266.1 300L266.6 300L267.1 300L267.6 300L268.1 300L268.6 300L269.1 300L269.6 300L270.1 300L270.6 300L271.1 300L271.6 300L272.1 300L272.6 300L273.1 300L273.6 300L274.2 300L274.7 300L275.2 300L275.7 300L276.2 300L276.7 300L277.2 300L277.7 300L278.2 300L278.7 300L279.2 300L279.7 300L280.2 300L280.7 300L281.2 300L281.7 300L282.2 300L282.7 300L283.2 300L283.8 300L284.3 300L284.8 300L285.3 300L285.8 300L286.3 300L286.8 300L287.3 300L287.8 300L288.3 300L288.8 300L289.3 300L289.8 300L290.3 300L290.8 300L291.3 300L291.8 300L292.3 300L292.8 300L293.4 300L293.9 300L294.4 300L294.9 300L295.4 300L295.9 300L296.4 300L296.9 300L297.4 300L297.9 300L298.4 300L298.9 300L299.4 300L299.9 300L300.4 300L300.9 300L301.4 300L301.9 300L302.4 300L303 300L303.5 300L304 300L304.5 300L305 300L305.5 300L306 300L306.5 300L307 300L307.5 300L308 300L308.5 300L309 300L309.5 300L310 300L310.5 300L311 300L311.5 300L312 300L312.5 300L313.1 300L313.6 300L314.1 300L314.6 300L315.1 300L315.6 300L316.1 300L316.6 300L317.1 300L317.6 300L318.1 300L318.6 300L319.1 300L319.6 300L320.1 300L320.6 300L321.1 300L321.6 300L322.1 300L322.7 300L323.2 300L323.7 300L324.2 300L324.7 300L325.2 300L325.7 300L326.2 300L326.7 300L327.2 300L327.7 300L328.2 300L328.7 300L329.2 300L329.7 300L330.2 300L330.7 300L331.2 300L331.7 300L332.3 300L332.8 300L333.3 300L333.8 300L334.3 300L334.8 300L335.3 300L335.8 300L336.3 300L336.8 300L337.3 300L337.8 300L338.3 300L338.8 300L339.3 300L339.8 300L340.3 300L340.8 300L341.3 300L341.9 300L342.4 300L342.9 300L343.4 300L343.9 300L344.4 300L344.9 300L345.4 300L345.9 300L346.4 300L346.9 300L347.4 300L347.9 300L348.4 300L348.9 300L349.4 300L349.9 300L350.4 300L350.9 300L351.4 300L352 300L352.5 300L353 300L353.5 300L354 300L354.5 300L355 300L355.5 300L356 300L356.5 300L357 300L357.5 300L358 300L358.5 300L359 300L359.5 300L360 300L360.5 300L361 300L361.6 300L362.1 300L362.6 300L363.1 300L363.6 300L364.1 300L364.6 300L365.1 300L365.6 300L366.1 300L366.6 300L367.1 300L367.6 300L368.1 300L368.6 300L369.1 300L369.6 300L370.1 300L370.6 300L371.2 300L371.7 300L372.2 300L372.7 300L373.2 300L373.7 300L374.2 300L374.7 300L375.2 300L375.7 300L376.2 300L376.7 300L377.2 300L377.7 300L378.2 300L378.7 300L379.2 300L379.7 300L380.2 300L380.8 300L381.3 300L381.8 300L382.3 300L382.8 300L383.3 300L383.8 300L384.3 300L384.8 300L385.3 300L385.8 300L386.3 300L386.8 300L387.3 300L387.8 300L388.3 300L388.8 300L389.3 300L389.8 300L390.4 300L390.9 300L391.4 300L391.9 300L392.4 300L392.9 300L393.4 300L393.9 300L394.4 300L394.9 300L395.4 300L395.9 300L396.4 300L396.9 300L397.4 300L397.9 300L398.4 300L398.9 300L399.4 300L399.9 300L400.5 300L401 300L401.5 300L402 300L402.5 300L403 300L403.5 300L404 300L404.5 300L405 300L405.5 300L406 300L406.5 300L407 300L407.5 300L408 300L408.5 300L409 300L409.5 300L410.1 300L410.6 300L411.1 300L411.6 300L412.1 300L412.6 300L413.1 300L413.6 300L414.1 300L414.6 300L415.1 300L415.6 300L416.1 300L416.6 300L417.1 300L417.6 300L418.1 300L418.6 300L419.1 300L419.7 300L420.2 300L420.7 300L421.2 300L421.7 300L422.2 300L422.7 300L423.2 300L423.7 300L424.2 300L424.7 300L425.2 300L425.7 300L426.2 300L426.7 300L427.2 300L427.7 300L428.2 300L428.7 300L429.3 300L429.8 300L430.3 300L430.8 300L431.3 300L431.8 300L432.3 300L432.8 300L433.3 300L433.8 300L434.3 300L434.8 300L435.3 300L435.8 300L436.3 300L436.8 300L437.3 300L437.8 300L438.3 300L438.8 300L439.4 300L439.9 300L440.4 300L440.9 300L441.4 300L441.9 300L442.4 300L442.9 300L443.4 300L443.9 300L444.4 300L444.9 300L445.4 300L445.9 300L446.4 300L446.9 300L447.4 300L447.9 300L448.4 300L449 300L449.5 300L450 300L450.5 300L451 300L451.5 300L452 300L452.5 300L453 300L453.5 300L454 300L454.5 300L455 300L455.5 300L456 300L456.5 300L457 300L457.5 300L458 300L458.6 300L459.1 300L459.6 300L460.1 300L460.6 300L461.1 300L461.6 300L462.1 300L462.6 300L463.1 300L463.6 300L464.1 300L464.6 300L465.1 300L465.6 300L466.1 300L466.6 300L467.1 300L467.6 300L468.2 300L468.7 300L469.2 300L469.7 300L470.2 300L470.7 300L471.2 300L471.7 300L472.2 300L472.7 300L473.2 300L473.7 300L474.2 300L474.7 300L475.2 300L475.7 300L476.2 300L476.7 300L477.2 300L477.7 300L478.3 300L478.8 300L479.3 300L479.8 300L480.3 300L480.8 300L481.3 300L481.8 300L482.3 300L482.8 300L483.3 300L483.8 300L484.3 300L484.8 300L485.3 300L485.8 300L486.3 300L486.8 300L487.3 300L487.9 300L488.4 300L488.9 300L489.4 300L489.9 300L490.4 300L490.9 300L491.4 300L491.9 300L492.4 300L492.9 300L493.4 300L493.9 300L494.4 300L494.9 300L495.4 300L495.9 300L496.4 300L496.9 300L497.5 300" stroke="#0000ff"/><path d="M74.6 300h0L75.1 300L75.6 300L76.1 300L76.6 300L77.1 300L77.6 300L78.1 300L78.6 300L79.1 300L79.7 300L80.2 300L80.7 300L81.2 300L81.7 300L82.2 300L82.7 300L83.2 300L83.7 300L84.2 300L84.7 300L85.2 300L85.7 300L86.2 300L86.7 300L87.2 300L87.7 300L88.2 300L88.7 300L89.3 300L89.8 300L90.3 300L90.8 300L91.3 300L91.8 300L92.3 300L92.8 300L93.3 300L93.8 300L94.3 300L94.8 300L95.3 300L95.8 300L96.3 300L96.8 300L97.3 300L97.8 300L98.3 300L98.8 300L99.4 300L99.9 300L100.4 300L100.9 300L101.4 300L101.9 300L102.4 300L102.9 300L103.4 300L103.9 300L104.4 300L104.9 300L105.4 300L105.9 300L106.4 300L106.9 300L107.4 300L107.9 300L108.4 300L109 300L109.5 300L110 300L110.5 300L111 300L111.5 300L112 300L112.5 300L113 300L113.5 300L114 300L114.5 300L115 300L115.5 300L116 300L116.5 300L117 300L117.5 300L118 300L118.6 300L119.1 300L119.6 300L120.1 300L120.6 300L121.1 300L121.6 300L122.1 300L122.6 300L123.1 300L123.6 300L124.1 300L124.6 300L125.1 300L125.6 300L126.1 300L126.6 300L127.1 300L127.6 300L128.2 300L128.7 300L129.2 300L129.7 300L130.2 300L130.7 300L131.2 300L131.7 300L132.2 300L132.7 300L133.2 300L133.7 300L134.2 300L134.7 300L135.2 300L135.7 300L136.2 300L136.7 300L137.2 300L137.8 300L138.3 300L138.8 300L139.3 300L139.8 300L140.3 300L140.8 300L141.3 300L141.8 300L142.3 300L142.8 300L143.3 300L143.8 300L144.3 300L144.8 300L145.3 300L145.8 300L146.3 300L146.8 300L147.3 300L147.9 300L148.4 300L148.9 300L149.4 300L149.9 300L150.4 300L150.9 300L151.4 300L151.9 299.9L152.4 299.9L152.9 299.9L153.4 299.9L153.9 299.9L154.4 299.9L154.9 299.9L155.4 299.9L155.9 299.9L156.4 299.9L156.9 299.9L157.5 299.9L158 299.8L158.5 299.8L159 299.8L159.5 299.8L160 299.8L160.5 299.8L161 299.8L161.5 299.7L162 299.7L162.5 299.7L163 299.7L163.5 299.6L164 299.6L164.5 299.6L165 299.5L165.5 299.5L166 299.5L166.5 299.4L167.1 299.4L167.6 299.3L168.1 299.3L168.6 299.2L169.1 299.2L169.6 299.1L170.1 299L170.6 299L171.1 298.9L171.6 298.8L172.1 298.7L172.6 298.7L173.1 298.6L173.6 298.5L174.1 298.4L174.6 298.2L175.1 298.1L175.6 298L176.1 297.9L176.7 297.7L177.2 297.6L177.7 297.4L178.2 297.3L178.7 297.1L179.2 296.9L179.7 296.7L180.2 296.5L180.7 296.3L181.2 296.1L181.7 295.8L182.2 295.6L182.7 295.3L183.2 295.1L183.7 294.8L184.2 294.5L184.7 294.2L185.2 293.9L185.7 293.5L186.2 293.2L186.8 292.8L187.3 292.4L187.8 292L188.3 291.6L188.8 291.1L189.3 290.7L189.8 290.2L190.3 289.7L190.8 289.2L191.3 288.7L191.8 288.1L192.3 287.6L192.8 287L193.3 286.4L193.8 285.7L194.3 285.1L194.8 284.4L195.3 283.7L195.8 283L196.4 282.3L196.9 281.5L197.4 280.7L197.9 279.9L198.4 279.1L198.9 278.2L199.4 277.4L199.9 276.5L200.4 275.5L200.9 274.6L201.4 273.6L201.9 272.7L202.4 271.7L202.9 270.6L203.4 269.6L203.9 268.5L204.4 267.4L204.9 266.3L205.4 265.2L206 264.1L206.5 262.9L207 261.7L207.5 260.5L208 259.3L208.5 258.1L209 256.9L209.5 255.6L210 254.4L210.5 253.1L211 251.8L211.5 250.5L212 249.2L212.5 247.9L213 246.6L213.5 245.3L214 244L214.5 242.7L215 241.4L215.6 240L216.1 238.7L216.6 237.4L217.1 236.1L217.6 234.8L218.1 233.6L218.6 232.3L219.1 231L219.6 229.8L220.1 228.6L220.6 227.4L221.1 226.2L221.6 225L222.1 223.9L222.6 222.8L223.1 221.7L223.6 220.6L224.1 219.6L224.6 218.6L225.1 217.6L225.7 216.6L226.2 215.7L226.7 214.9L227.2 214L227.7 213.2L228.2 212.5L228.7 211.8L229.2 211.1L229.7 210.4L230.2 209.9L230.7 209.3L231.2 208.8L231.7 208.4L232.2 208L232.7 207.6L233.2 207.3L233.7 207L234.2 206.8L234.7 206.7L235.3 206.6L235.8 206.5L236.3 206.5L236.8 206.5L237.3 206.6L237.8 206.8L238.3 207L238.8 207.2L239.3 207.5L239.8 207.8L240.3 208.2L240.8 208.7L241.3 209.1L241.8 209.7L242.3 210.2L242.8 210.9L243.3 211.5L243.8 212.2L244.3 213L244.9 213.7L245.4 214.6L245.9 215.4L246.4 216.3L246.9 217.2L247.4 218.2L247.9 219.2L248.4 220.2L248.9 221.3L249.4 222.4L249.9 223.5L250.4 224.6L250.9 225.8L251.4 227L251.9 228.2L252.4 229.4L252.9 230.6L253.4 231.9L253.9 233.1L254.5 234.4L255 235.7L255.5 237L256 238.3L256.5 239.6L257 240.9L257.5 242.2L258 243.5L258.5 244.8L259 246.1L259.5 247.5L260 248.8L260.5 250.1L261 251.3L261.5 252.6L262 253.9L262.5 255.2L263 256.4L263.5 257.7L264.1 258.9L264.6 260.1L265.1 261.3L265.6 262.5L266.1 263.7L266.6 264.8L267.1 265.9L267.6 267.1L268.1 268.1L268.6 269.2L269.1 270.3L269.6 271.3L270.1 272.3L270.6 273.3L271.1 274.3L271.6 275.2L272.1 276.1L272.6 277L273.1 277.9L273.6 278.8L274.2 279.6L274.7 280.4L275.2 281.2L275.7 282L276.2 282.7L276.7 283.5L277.2 284.2L277.7 284.8L278.2 285.5L278.7 286.1L279.2 286.8L279.7 287.4L280.2 287.9L280.7 288.5L281.2 289L281.7 289.5L282.2 290L282.7 290.5L283.2 291L283.8 291.4L284.3 291.9L284.8 292.3L285.3 292.7L285.8 293L286.3 293.4L286.8 293.7L287.3 294.1L287.8 294.4L288.3 294.7L288.8 295L289.3 295.2L289.8 295.5L290.3 295.8L290.8 296L291.3 296.2L291.8 296.4L292.3 296.6L292.8 296.8L293.4 297L293.9 297.2L294.4 297.4L294.9 297.5L295.4 297.7L295.9 297.8L296.4 298L296.9 298.1L297.4 298.2L297.9 298.3L298.4 298.4L298.9 298.5L299.4 298.6L299.9 298.7L300.4 298.8L300.9 298.9L301.4 299L301.9 299L302.4 299.1L303 299.2L303.5 299.2L304 299.3L304.5 299.3L305 299.4L305.5 299.4L306 299.5L306.5 299.5L307 299.5L307.5 299.6L308 299.6L308.5 299.6L309 299.7L309.5 299.7L310 299.7L310.5 299.7L311 299.7L311.5 299.8L312 299.8L312.5 299.8L313.1 299.8L313.6 299.8L314.1 299.8L314.6 299.9L315.1 299.9L315.6 299.9L316.1 299.9L316.6 299.9L317.1 299.9L317.6 299.9L318.1 299.9L318.6 299.9L319.1 299.9L319.6 299.9L320.1 299.9L320.6 299.9L321.1 300L321.6 300L322.1 300L322.7 300L323.2 300L323.7 300L324.2 300L324.7 300L325.2 300L325.7 300L326.2 300L326.7 300L327.2 300L327.7 300L328.2 300L328.7 300L329.2 300L329.7 300L330.2 300L330.7 300L331.2 300L331.7 300L332.3 300L332.8 300L333.3 300L333.8 300L334.3 300L334.8 300L335.3 300L335.8 300L336.3 300L336.8 300L337.3 300L337.8 300L338.3 300L338.8 300L339.3 300L339.8 300L340.3 300L340.8 300L341.3 300L341.9 300L342.4 300L342.9 300L343.4 300L343.9 300L344.4 300L344.9 300L345.4 300L345.9 300L346.4 300L346.9 300L347.4 300L347.9 300L348.4 300L348.9 300L349.4 300L349.9 300L350.4 300L350.9 300L351.4 300L352 300L352.5 300L353 300L353.5 300L354 300L354.5 300L355 300L355.5 300L356 300L356.5 300L357 300L357.5 300L358 300L358.5 300L359 300L359.5 300L360 300L360.5 300L361 300L361.6 300L362.1 300L362.6 300L363.1 300L363.6 300L364.1 300L364.6 300L365.1 300L365.6 300L366.1 300L366.6 300L367.1 300L367.6 300L368.1 300L368.6 300L369.1 300L369.6 300L370.1 300L370.6 300L371.2 300L371.7 300L372.2 300L372.7 300L373.2 300L373.7 300L374.2 300L374.7 300L375.2 300L375.7 300L376.2 300L376.7 300L377.2 300L377.7 300L378.2 300L378.7 300L379.2 300L379.7 300L380.2 300L380.8 300L381.3 300L381.8 300L382.3 300L382.8 300L383.3 300L383.8 300L384.3 300L384.8 300L385.3 300L385.8 300L386.3 300L386.8 300L387.3 300L387.8 300L388.3 300L388.8 300L389.3 300L389.8 300L390.4 300L390.9 300L391.4 300L391.9 300L392.4 300L392.9 300L393.4 300L393.9 300L394.4 300L394.9 300L395.4 300L395.9 300L396.4 300L396.9 300L397.4 300L397.9 300L398.4 300L398.9 300L399.4 300L399.9 300L400.5 300L401 300L401.5 300L402 300L402.5 300L403 300L403.5 300L404 300L404.5 300L405 300L405.5 300L406 300L406.5 300L407 300L407.5 300L408 300L408.5 300L409 300L409.5 300L410.1 300L410.6 300L411.1 300L411.6 300L412.1 300L412.6 300L413.1 300L413.6 300L414.1 300L414.6 300L415.1 300L415.6 300L416.1 300L416.6 300L417.1 300L417.6 300L418.1 300L418.6 300L419.1 300L419.7 300L420.2 300L420.7 300L421.2 300L421.7 300L422.2 300L422.7 300L423.2 300L423.7 300L424.2 300L424.7 300L425.2 300L425.7 300L426.2 300L426.7 300L427.2 300L427.7 300L428.2 300L428.7 300L429.3 300L429.8 300L430.3 300L430.8 300L431.3 300L431.8 300L432.3 300L432.8 300L433.3 300L433.8 300L434.3 300L434.8 300L435.3 300L435.8 300L436.3 300L436.8 300L437.3 300L437.8 300L438.3 300L438.8 300L439.4 300L439.9 300L440.4 300L440.9 300L441.4 300L441.9 300L442.4 300L442.9 300L443.4 300L443.9 300L444.4 300L444.9 300L445.4 300L445.9 300L446.4 300L446.9 300L447.4 300L447.9 300L448.4 300L449 300L449.5 300L450 300L450.5 300L451 300L451.5 300L452 300L452.5 300L453 300L453.5 300L454 300L454.5 300L455 300L455.5 300L456 300L456.5 300L457 300L457.5 300L458 300L458.6 300L459.1 300L459.6 300L460.1 300L460.6 300L461.1 300L461.6 300L462.1 300L462.6 300L463.1 300L463.6 300L464.1 300L464.6 300L465.1 300L465.6 300L466.1 300L466.6 300L467.1 300L467.6 300L468.2 300L468.7 300L469.2 300L469.7 300L470.2 300L470.7 300L471.2 300L471.7 300L472.2 300L472.7 300L473.2 300L473.7 300L474.2 300L474.7 300L475.2 300L475.7 300L476.2 300L476.7 300L477.2 300L477.7 300L478.3 300L478.8 300L479.3 300L479.8 300L480.3 300L480.8 300L481.3 300L481.8 300L482.3 300L482.8 300L483.3 300L483.8 300L484.3 300L484.8 300L485.3 300L485.8 300L486.3 300L486.8 300L487.3 300L487.9 300L488.4 300L488.9 300L489.4 300L489.9 300L490.4 300L490.9 300L491.4 300L491.9 300L492.4 300L492.9 300L493.4 300L493.9 300L494.4 300L494.9 300L495.4 300L495.9 300L496.4 300L496.9 300L497.5 300" stroke="#ff0000"/><path d="M74.6 300h0L75.1 300L75.6 300L76.1 300L76.6 300L77.1 300L77.6 300L78.1 300L78.6 300L79.1 300L79.7 300L80.2 300L80.7 300L81.2 300L81.7 300L82.2 300L82.7 300L83.2 300L83.7 300L84.2 300L84.7 300L85.2 300L85.7 300L86.2 300L86.7 300L87.2 300L87.7 300L88.2 300L88.7 300L89.3 300L89.8 300L90.3 300L90.8 300L91.3 300L91.8 300L92.3 300L92.8 300L93.3 300L93.8 300L94.3 300L94.8 300L95.3 300L95.8 300L96.3 300L96.8 300L97.3 300L97.8 300L98.3 300L98.8 300L99.4 300L99.9 300L100.4 300L100.9 300L101.4 300L101.9 300L102.4 300L102.9 300L103.4 300L103.9 300L104.4 300L104.9 300L105.4 300L105.9 300L106.4 300L106.9 300L107.4 300L107.9 300L108.4 300L109 300L109.5 300L110 300L110.5 300L111 300L111.5 300L112 300L112.5 300L113 300L113.5 300L114 300L114.5 300L115 300L115.5 300L116 300L116.5 300L117 300L117.5 300L118 300L118.6 300L119.1 300L119.6 300L120.1 300L120.6 300L121.1 300L121.6 300L122.1 300L122.6 300L123.1 300L123.6 300L124.1 300L124.6 300L125.1 300L125.6 300L126.1 300L126.6 300L127.1 300L127.6 300L128.2 300L128.7 300L129.2 300L129.7 300L130.2 300L130.7 300L131.2 300L131.7 300L132.2 300L132.7 300L133.2 300L133.7 300L134.2 300L134.7 300L135.2 300L135.7 300L136.2 300L136.7 300L137.2 300L137.8 300L138.3 300L138.8 300L139.3 300L139.8 300L140.3 300L140.8 300L141.3 300L141.8 300L142.3 300L142.8 300L143.3 300L143.8 300L144.3 300L144.8 300L145.3 300L145.8 300L146.3 300L146.8 300L147.3 300L147.9 300L148.4 300L148.9 300L149.4 300L149.9 300L150.4 300L150.9 300L151.4 300L151.9 300L152.4 300L152.9 300L153.4 300L153.9 300L154.4 300L154.9 300L155.4 300L155.9 300L156.4 300L156.9 300L157.5 300L158 300L158.5 300L159 300L159.5 300L160 300L160.5 300L161 300L161.5 300L162 300L162.5 300L163 300L163.5 300L164 300L164.5 300L165 300L165.5 300L166 300L166.5 300L167.1 300L167.6 300L168.1 300L168.6 300L169.1 300L169.6 300L170.1 300L170.6 300L171.1 300L171.6 300L172.1 300L172.6 300L173.1 300L173.6 300L174.1 300L174.6 300L175.1 300L175.6 300L176.1 300L176.7 300L177.2 300L177.7 300L178.2 300L178.7 300L179.2 300L179.7 300L180.2 300L180.7 300L181.2 300L181.7 300L182.2 300L182.7 300L183.2 300L183.7 300L184.2 300L184.7 300L185.2 300L185.7 300L186.2 300L186.8 300L187.3 300L187.8 300L188.3 300L188.8 300L189.3 300L189.8 300L190.3 300L190.8 300L191.3 300L191.8 300L192.3 300L192.8 300L193.3 300L193.8 300L194.3 300L194.8 300L195.3 300L195.8 300L196.4 300L196.9 300L197.4 300L197.9 300L198.4 300L198.9 300L199.4 300L199.9 300L200.4 300L200.9 300L201.4 300L201.9 300L202.4 300L202.9 300L203.4 300L203.9 300L204.4 300L204.9 300L205.4 300L206 300L206.5 300L207 300L207.5 300L208 300L208.5 300L209 300L209.5 300L210 300L210.5 300L211 300L211.5 300L212 300L212.5 300L213 300L213.5 300L214 300L214.5 300L215 300L215.6 300L216.1 300L216.6 300L217.1 300L217.6 300L218.1 300L218.6 300L219.1 300L219.6 300L220.1 300L220.6 300L221.1 300L221.6 300L222.1 300L222.6 300L223.1 300L223.6 300L224.1 300L224.6 300L225.1 300L225.7 300L226.2 300L226.7 300L227.2 300L227.7 300L228.2 300L228.7 300L229.2 300L229.7 300L230.2 300L230.7 300L231.2 300L231.7 300L232.2 300L232.7 300L233.2 300L233.7 300L234.2 300L234.7 300L235.3 300L235.8 300L236.3 300L236.8 300L237.3 300L237.8 300L238.3 300L238.8 300L239.3 300L239.8 300L240.3 300L240.8 300L241.3 300L241.8 300L242.3 300L242.8 300L243.3 300L243.8 300L244.3 300L244.9 300L245.4 299.9L245.9 299.9L246.4 299.9L246.9 299.9L247.4 299.8L247.9 299.8L248.4 299.7L248.9 299.7L249.4 299.6L249.9 299.5L250.4 299.4L250.9 299.2L251.4 299L251.9 298.8L252.4 298.5L252.9 298.2L253.4 297.8L253.9 297.4L254.5 296.8L255 296.2L255.5 295.5L256 294.6L256.5 293.6L257 292.5L257.5 291.2L258 289.7L258.5 288L259 286.1L259.5 283.9L260 281.5M260.5 278.9h0M261 275.9h0M261.5 272.6h0M262 269h0M262.5 265.1h0M263 260.9h0M263.5 256.3h0M264.1 251.3h0M264.6 246.1h0M265.1 240.5h0M265.6 234.6h0M266.1 228.4h0M266.6 221.9h0M267.1 215.2h0M267.6 208.3h0M268.1 201.2h0M268.6 194.1h0M269.1 186.9h0M269.6 179.6h0M270.1 172.5h0M270.6 165.4h0M271.1 158.6h0M271.6 152h0M272.1 145.7h0M272.6 139.9h0M273.1 134.4h0M273.6 129.5h0M274.2 125.2h0M274.7 121.5h0M275.2 118.5h0L275.7 116.1L276.2 114.5L276.7 113.7L277.2 113.6L277.7 114.2L278.2 115.6L278.7 117.8M279.2 120.6h0M279.7 124.2h0M280.2 128.3h0M280.7 133.1h0M281.2 138.4h0M281.7 144.1h0M282.2 150.3h0M282.7 156.8h0M283.2 163.6h0M283.8 170.6h0M284.3 177.7h0M284.8 184.9h0M285.3 192.2h0M285.8 199.3h0M286.3 206.4h0M286.8 213.4h0M287.3 220.1h0M287.8 226.7h0M288.3 232.9h0M288.8 238.9h0M289.3 244.6h0M289.8 250h0M290.3 255h0M290.8 259.7h0M291.3 264h0M291.8 268h0M292.3 271.7h0M292.8 275.1h0M293.4 278.1h0M293.9 280.9h0L294.4 283.3L294.9 285.5L295.4 287.5L295.9 289.3L296.4 290.8L296.9 292.2L297.4 293.3L297.9 294.4L298.4 295.2L298.9 296L299.4 296.7L299.9 297.2L300.4 297.7L300.9 298.1L301.4 298.4L301.9 298.7L302.4 299L303 299.2L303.5 299.3L304 299.4L304.5 299.6L305 299.6L305.5 299.7L306 299.8L306.5 299.8L307 299.9L307.5 299.9L308 299.9L308.5 299.9L309 299.9L309.5 300L310 300L310.5 300L311 300L311.5 300L312 300L312.5 300L313.1 300L313.6 300L314.1 300L314.6 300L315.1 300L315.6 300L316.1 300L316.6 300L317.1 300L317.6 300L318.1 300L318.6 300L319.1 300L319.6 300L320.1 300L320.6 300L321.1 300L321.6 300L322.1 300L322.7 300L323.2 300L323.7 300L324.2 300L324.7 300L325.2 300L325.7 300L326.2 300L326.7 300L327.2 300L327.7 300L328.2 300L328.7 300L329.2 300L329.7 300L330.2 300L330.7 300L331.2 300L331.7 300L332.3 300L332.8 300L333.3 300L333.8 300L334.3 300L334.8 300L335.3 300L335.8 300L336.3 300L336.8 300L337.3 300L337.8 300L338.3 300L338.8 300L339.3 300L339.8 300L340.3 300L340.8 300L341.3 300L341.9 300L342.4 300L342.9 300L343.4 300L343.9 300L344.4 300L344.9 300L345.4 300L345.9 300L346.4 300L346.9 300L347.4 300L347.9 300L348.4 300L348.9 300L349.4 300L349.9 300L350.4 300L350.9 300L351.4 300L352 300L352.5 300L353 300L353.5 300L354 300L354.5 300L355 300L355.5 300L356 300L356.5 300L357 300L357.5 300L358 300L358.5 300L359 300L359.5 300L360 300L360.5 300L361 300L361.6 300L362.1 300L362.6 300L363.1 300L363.6 300L364.1 300L364.6 300L365.1 300L365.6 300L366.1 300L366.6 300L367.1 300L367.6 300L368.1 300L368.6 300L369.1 300L369.6 300L370.1 300L370.6 300L371.2 300L371.7 300L372.2 300L372.7 300L373.2 300L373.7 300L374.2 300L374.7 300L375.2 300L375.7 300L376.2 300L376.7 300L377.2 300L377.7 300L378.2 300L378.7 300L379.2 300L379.7 300L380.2 300L380.8 300L381.3 300L381.8 300L382.3 300L382.8 300L383.3 300L383.8 300L384.3 300L384.8 300L385.3 300L385.8 300L386.3 300L386.8 300L387.3 300L387.8 300L388.3 300L388.8 300L389.3 300L389.8 300L390.4 300L390.9 300L391.4 300L391.9 300L392.4 300L392.9 300L393.4 300L393.9 300L394.4 300L394.9 300L395.4 300L395.9 300L396.4 300L396.9 300L397.4 300L397.9 300L398.4 300L398.9 300L399.4 300L399.9 300L400.5 300L401 300L401.5 300L402 300L402.5 300L403 300L403.5 300L404 300L404.5 300L405 300L405.5 300L406 300L406.5 300L407 300L407.5 300L408 300L408.5 300L409 300L409.5 300L410.1 300L410.6 300L411.1 300L411.6 300L412.1 300L412.6 300L413.1 300L413.6 300L414.1 300L414.6 300L415.1 300L415.6 300L416.1 300L416.6 300L417.1 300L417.6 300L418.1 300L418.6 300L419.1 300L419.7 300L420.2 300L420.7 300L421.2 300L421.7 300L422.2 300L422.7 300L423.2 300L423.7 300L424.2 300L424.7 300L425.2 300L425.7 300L426.2 300L426.7 300L427.2 300L427.7 300L428.2 300L428.7 300L429.3 300L429.8 300L430.3 300L430.8 300L431.3 300L431.8 300L432.3 300L432.8 300L433.3 300L433.8 300L434.3 300L434.8 300L435.3 300L435.8 300L436.3 300L436.8 300L437.3 300L437.8 300L438.3 300L438.8 300L439.4 300L439.9 300L440.4 300L440.9 300L441.4 300L441.9 300L442.4 300L442.9 300L443.4 300L443.9 300L444.4 300L444.9 300L445.4 300L445.9 300L446.4 300L446.9 300L447.4 300L447.9 300L448.4 300L449 300L449.5 300L450 300L450.5 300L451 300L451.5 300L452 300L452.5 300L453 300L453.5 300L454 300L454.5 300L455 300L455.5 300L456 300L456.5 300L457 300L457.5 300L458 300L458.6 300L459.1 300L459.6 300L460.1 300L460.6 300L461.1 300L461.6 300L462.1 300L462.6 300L463.1 300L463.6 300L464.1 300L464.6 300L465.1 300L465.6 300L466.1 300L466.6 300L467.1 300L467.6 300L468.2 300L468.7 300L469.2 300L469.7 300L470.2 300L470.7 300L471.2 300L471.7 300L472.2 300L472.7 300L473.2 300L473.7 300L474.2 300L474.7 300L475.2 300L475.7 300L476.2 300L476.7 300L477.2 300L477.7 300L478.3 300L478.8 300L479.3 300L479.8 300L480.3 300L480.8 300L481.3 300L481.8 300L482.3 300L482.8 300L483.3 300L483.8 300L484.3 300L484.8 300L485.3 300L485.8 300L486.3 300L486.8 300L487.3 300L487.9 300L488.4 300L488.9 300L489.4 300L489.9 300L490.4 300L490.9 300L491.4 300L491.9 300L492.4 300L492.9 300L493.4 300L493.9 300L494.4 300L494.9 300L495.4 300L495.9 300L496.4 300L496.9 300L497.5 300" stroke="#ff00ff"/><path d="M74.6 300h0L75.1 300L75.6 300L76.1 300L76.6 300L77.1 300L77.6 300L78.1 300L78.6 300L79.1 300L79.7 300L80.2 300L80.7 300L81.2 300L81.7 300L82.2 300L82.7 300L83.2 300L83.7 300L84.2 300L84.7 300L85.2 300L85.7 300L86.2 300L86.7 300L87.2 300L87.7 300L88.2 300L88.7 300L89.3 300L89.8 300L90.3 300L90.8 300L91.3 300L91.8 300L92.3 300L92.8 300L93.3 300L93.8 300L94.3 300L94.8 300L95.3 300L95.8 300L96.3 300L96.8 300L97.3 300L97.8 300L98.3 300L98.8 300L99.4 300L99.9 300L100.4 300L100.9 300L101.4 300L101.9 300L102.4 300L102.9 300L103.4 300L103.9 300L104.4 300L104.9 300L105.4 300L105.9 300L106.4 300L106.9 300L107.4 300L107.9 300L108.4 300L109 300L109.5 300L110 300L110.5 300L111 300L111.5 300L112 300L112.5 300L113 300L113.5 300L114 300L114.5 300L115 300L115.5 300L116 300L116.5 300L117 300L117.5 300L118 300L118.6 300L119.1 300L119.6 300L120.1 300L120.6 300L121.1 300L121.6 300L122.1 300L122.6 300L123.1 300L123.6 300L124.1 300L124.6 300L125.1 300L125.6 300L126.1 300L126.6 300L127.1 300L127.6 300L128.2 300L128.7 300L129.2 300L129.7 300L130.2 300L130.7 300L131.2 300L131.7 300L132.2 300L132.7 300L133.2 300L133.7 300L134.2 300L134.7 300L135.2 300L135.7 300L136.2 300L136.7 300L137.2 300L137.8 300L138.3 300L138.8 300L139.3 300L139.8 300L140.3 300L140.8 300L141.3 300L141.8 300L142.3 300L142.8 300L143.3 300L143.8 300L144.3 300L144.8 300L145.3 300L145.8 300L146.3 300L146.8 300L147.3 300L147.9 300L148.4 300L148.9 300L149.4 300L149.9 300L150.4 300L150.9 300L151.4 300L151.9 300L152.4 300L152.9 300L153.4 300L153.9 300L154.4 300L154.9 300L155.4 300L155.9 300L156.4 300L156.9 300L157.5 300L158 300L158.5 300L159 300L159.5 300L160 300L160.5 300L161 300L161.5 300L162 300L162.5 300L163 300L163.5 300L164 300L164.5 300L165 300L165.5 300L166 300L166.5 300L167.1 300L167.6 300L168.1 300L168.6 300L169.1 300L169.6 300L170.1 300L170.6 300L171.1 300L171.6 300L172.1 300L172.6 300L173.1 300L173.6 300L174.1 300L174.6 300L175.1 300L175.6 300L176.1 300L176.7 300L177.2 300L177.7 300L178.2 300L178.7 300L179.2 300L179.7 300L180.2 300L180.7 300L181.2 300L181.7 300L182.2 300L182.7 300L183.2 300L183.7 300L184.2 300L184.7 300L185.2 300L185.7 300L186.2 300L186.8 300L187.3 300L187.8 300L188.3 300L188.8 300L189.3 300L189.8 300L190.3 300L190.8 300L191.3 300L191.8 300L192.3 300L192.8 300L193.3 300L193.8 300L194.3 300L194.8 300L195.3 300L195.8 300L196.4 300L196.9 300L197.4 300L197.9 300L198.4 300L198.9 300L199.4 300L199.9 300L200.4 300L200.9 300L201.4 300L201.9 300L202.4 300L202.9 300L203.4 300L203.9 300L204.4 300L204.9 300L205.4 300L206 300L206.5 300L207 300L207.5 300L208 300L208.5 300L209 300L209.5 300L210 300L210.5 300L211 300L211.5 300L212 300L212.5 300L213 300L213.5 300L214 300L214.5 300L215 300L215.6 300L216.1 300L216.6 300L217.1 300L217.6 300L218.1 300L218.6 300L219.1 300L219.6 300L220.1 300L220.6 300L221.1 300L221.6 300L222.1 300L222.6 300L223.1 300L223.6 300L224.1 300L224.6 300L225.1 300L225.7 300L226.2 300L226.7 300L227.2 300L227.7 300L228.2 300L228.7 300L229.2 300L229.7 300L230.2 300L230.7 300L231.2 300L231.7 300L232.2 300L232.7 300L233.2 300L233.7 300L234.2 300L234.7 300L235.3 300L235.8 300L236.3 300L236.8 300L237.3 300L237.8 300L238.3 300L238.8 300L239.3 300L239.8 300L240.3 300L240.8 300L241.3 300L241.8 300L242.3 300L242.8 300L243.3 300L243.8 300L244.3 300L244.9 300L245.4 300L245.9 300L246.4 300L246.9 300L247.4 300L247.9 300L248.4 300L248.9 300L249.4 300L249.9 300L250.4 300L250.9 300L251.4 300L251.9 300L252.4 300L252.9 300L253.4 300L253.9 300L254.5 300L255 300L255.5 300L256 300L256.5 300L257 300L257.5 300L258 300L258.5 300L259 300L259.5 300L260 300L260.5 300L261 300L261.5 300L262 300L262.5 300L263 300L263.5 300L264.1 300L264.6 300L265.1 300L265.6 300L266.1 300L266.6 300L267.1 300L267.6 300L268.1 300L268.6 300L269.1 300L269.6 300L270.1 300L270.6 300L271.1 299.9L271.6 299.9L272.1 299.9L272.6 299.8L273.1 299.8L273.6 299.7L274.2 299.6L274.7 299.4L275.2 299.2L275.7 299L276.2 298.6L276.7 298.2L277.2 297.7L277.7 297L278.2 296.2L278.7 295.2L279.2 294.1L279.7 292.6L280.2 291L280.7 289L281.2 286.8L281.7 284.3M282.2 281.4h0M282.7 278.2h0M283.2 274.8h0M283.8 271h0M284.3 267h0M284.8 262.9h0M285.3 258.6h0M285.8 254.2h0M286.3 249.8h0M286.8 245.5h0M287.3 241.5h0M287.8 237.7h0M288.3 234.3h0M288.8 231.3h0L289.3 228.9L289.8 227.1L290.3 226L290.8 225.5L291.3 225.8L291.8 226.7L292.3 228.3L292.8 230.5M293.4 233.3h0M293.9 236.6h0M294.4 240.3h0M294.9 244.3h0M295.4 248.5h0M295.9 252.9h0M296.4 257.3h0M296.9 261.6h0M297.4 265.8h0M297.9 269.9h0M298.4 273.7h0M298.9 277.2h0M299.4 280.5h0M299.9 283.4h0M300.4 286.1h0L300.9 288.4L301.4 290.4L301.9 292.2L302.4 293.7L303 294.9L303.5 296L304 296.8L304.5 297.5L305 298.1L305.5 298.5L306 298.9L306.5 299.2L307 299.4L307.5 299.5L308 299.7L308.5 299.8L309 299.8L309.5 299.9L310 299.9L310.5 299.9L311 300L311.5 300L312 300L312.5 300L313.1 300L313.6 300L314.1 300L314.6 300L315.1 300L315.6 300L316.1 300L316.6 300L317.1 300L317.6 300L318.1 300L318.6 300L319.1 300L319.6 300L320.1 300L320.6 300L321.1 300L321.6 300L322.1 300L322.7 300L323.2 300L323.7 300L324.2 300L324.7 300L325.2 300L325.7 300L326.2 300L326.7 300L327.2 300L327.7 300L328.2 300L328.7 300L329.2 300L329.7 300L330.2 300L330.7 300L331.2 300L331.7 300L332.3 300L332.8 300L333.3 300L333.8 300L334.3 300L334.8 300L335.3 300L335.8 300L336.3 300L336.8 300L337.3 300L337.8 300L338.3 300L338.8 300L339.3 300L339.8 300L340.3 300L340.8 300L341.3 300L341.9 300L342.4 300L342.9 300L343.4 300L343.9 300L344.4 300L344.9 300L345.4 300L345.9 300L346.4 300L346.9 300L347.4 300L347.9 300L348.4 300L348.9 300L349.4 300L349.9 300L350.4 300L350.9 300L351.4 300L352 300L352.5 300L353 300L353.5 300L354 300L354.5 300L355 300L355.5 300L356 300L356.5 300L357 300L357.5 300L358 300L358.5 300L359 300L359.5 300L360 300L360.5 300L361 300L361.6 300L362.1 300L362.6 300L363.1 300L363.6 300L364.1 300L364.6 300L365.1 300L365.6 300L366.1 300L366.6 300L367.1 300L367.6 300L368.1 300L368.6 300L369.1 300L369.6 300L370.1 300L370.6 300L371.2 300L371.7 300L372.2 300L372.7 300L373.2 300L373.7 300L374.2 300L374.7 300L375.2 300L375.7 300L376.2 300L376.7 300L377.2 300L377.7 300L378.2 300L378.7 300L379.2 300L379.7 300L380.2 300L380.8 300L381.3 300L381.8 300L382.3 300L382.8 300L383.3 300L383.8 300L384.3 300L384.8 300L385.3 300L385.8 300L386.3 300L386.8 300L387.3 300L387.8 300L388.3 300L388.8 300L389.3 300L389.8 300L390.4 300L390.9 300L391.4 300L391.9 300L392.4 300L392.9 300L393.4 300L393.9 300L394.4 300L394.9 300L395.4 300L395.9 300L396.4 300L396.9 300L397.4 300L397.9 300L398.4 300L398.9 300L399.4 300L399.9 300L400.5 300L401 300L401.5 300L402 300L402.5 300L403 300L403.5 300L404 300L404.5 300L405 300L405.5 300L406 300L406.5 300L407 300L407.5 300L408 300L408.5 300L409 300L409.5 300L410.1 300L410.6 300L411.1 300L411.6 300L412.1 300L412.6 300L413.1 300L413.6 300L414.1 300L414.6 300L415.1 300L415.6 300L416.1 300L416.6 300L417.1 300L417.6 300L418.1 300L418.6 300L419.1 300L419.7 300L420.2 300L420.7 300L421.2 300L421.7 300L422.2 300L422.7 300L423.2 300L423.7 300L424.2 300L424.7 300L425.2 300L425.7 300L426.2 300L426.7 300L427.2 300L427.7 300L428.2 300L428.7 300L429.3 300L429.8 300L430.3 300L430.8 300L431.3 300L431.8 300L432.3 300L432.8 300L433.3 300L433.8 300L434.3 300L434.8 300L435.3 300L435.8 300L436.3 300L436.8 300L437.3 300L437.8 300L438.3 300L438.8 300L439.4 300L439.9 300L440.4 300L440.9 300L441.4 300L441.9 300L442.4 300L442.9 300L443.4 300L443.9 300L444.4 300L444.9 300L445.4 300L445.9 300L446.4 300L446.9 300L447.4 300L447.9 300L448.4 300L449 300L449.5 300L450 300L450.5 300L451 300L451.5 300L452 300L452.5 300L453 300L453.5 300L454 300L454.5 300L455 300L455.5 300L456 300L456.5 300L457 300L457.5 300L458 300L458.6 300L459.1 300L459.6 300L460.1 300L460.6 300L461.1 300L461.6 300L462.1 300L462.6 300L463.1 300L463.6 300L464.1 300L464.6 300L465.1 300L465.6 300L466.1 300L466.6 300L467.1 300L467.6 300L468.2 300L468.7 300L469.2 300L469.7 300L470.2 300L470.7 300L471.2 300L471.7 300L472.2 300L472.7 300L473.2 300L473.7 300L474.2 300L474.7 300L475.2 300L475.7 300L476.2 300L476.7 300L477.2 300L477.7 300L478.3 300L478.8 300L479.3 300L479.8 300L480.3 300L480.8 300L481.3 300L481.8 300L482.3 300L482.8 300L483.3 300L483.8 300L484.3 300L484.8 300L485.3 300L485.8 300L486.3 300L486.8 300L487.3 300L487.9 300L488.4 300L488.9 300L489.4 300L489.9 300L490.4 300L490.9 300L491.4 300L491.9 300L492.4 300L492.9 300L493.4 300L493.9 300L494.4 300L494.9 300L495.4 300L495.9 300L496.4 300L496.9 300L497.5 300" stroke="#00ffff"/><path d="M74.6 300h0L75.1 300L75.6 300L76.1 300L76.6 300L77.1 300L77.6 300L78.1 300L78.6 300L79.1 300L79.7 300L80.2 300L80.7 300L81.2 300L81.7 300L82.2 300L82.7 300L83.2 300L83.7 300L84.2 300L84.7 300L85.2 300L85.7 300L86.2 300L86.7 300L87.2 300L87.7 300L88.2 300L88.7 300L89.3 300L89.8 300L90.3 300L90.8 300L91.3 300L91.8 300L92.3 300L92.8 300L93.3 300L93.8 300L94.3 300L94.8 300L95.3 300L95.8 300L96.3 300L96.8 300L97.3 300L97.8 300L98.3 300L98.8 300L99.4 300L99.9 300L100.4 300L100.9 300L101.4 300L101.9 300L102.4 300L102.9 300L103.4 300L103.9 300L104.4 300L104.9 300L105.4 300L105.9 300L106.4 300L106.9 300L107.4 300L107.9 300L108.4 300L109 300L109.5 300L110 300L110.5 300L111 300L111.5 300L112 300L112.5 300L113 300L113.5 300L114 300L114.5 300L115 300L115.5 300L116 300L116.5 300L117 300L117.5 300L118 300L118.6 300L119.1 300L119.6 300L120.1 300L120.6 300L121.1 300L121.6 300L122.1 300L122.6 300L123.1 300L123.6 300L124.1 300L124.6 300L125.1 300L125.6 300L126.1 300L126.6 300L127.1 300L127.6 300L128.2 300L128.7 300L129.2 300L129.7 300L130.2 300L130.7 300L131.2 300L131.7 300L132.2 300L132.7 300L133.2 300L133.7 300L134.2 300L134.7 300L135.2 300L135.7 300L136.2 300L136.7 300L137.2 300L137.8 300L138.3 300L138.8 300L139.3 300L139.8 300L140.3 300L140.8 300L141.3 300L141.8 300L142.3 300L142.8 300L143.3 300L143.8 300L144.3 300L144.8 300L145.3 300L145.8 300L146.3 300L146.8 300L147.3 300L147.9 300L148.4 300L148.9 300L149.4 300L149.9 300L150.4 300L150.9 300L151.4 300L151.9 300L152.4 300L152.9 300L153.4 300L153.9 300L154.4 300L154.9 300L155.4 300L155.9 300L156.4 300L156.9 300L157.5 300L158 300L158.5 300L159 300L159.5 300L160 300L160.5 300L161 300L161.5 300L162 300L162.5 300L163 300L163.5 300L164 300L164.5 300L165 300L165.5 300L166 300L166.5 300L167.1 300L167.6 300L168.1 300L168.6 300L169.1 300L169.6 300L170.1 300L170.6 300L171.1 300L171.6 300L172.1 300L172.6 300L173.1 300L173.6 300L174.1 300L174.6 300L175.1 300L175.6 300L176.1 300L176.7 300L177.2 300L177.7 300L178.2 300L178.7 300L179.2 300L179.7 300L180.2 300L180.7 300L181.2 300L181.7 300L182.2 300L182.7 300L183.2 300L183.7 300L184.2 300L184.7 300L185.2 300L185.7 300L186.2 300L186.8 300L187.3 300L187.8 300L188.3 300L188.8 300L189.3 300L189.8 300L190.3 300L190.8 300L191.3 300L191.8 300L192.3 300L192.8 300L193.3 300L193.8 300L194.3 300L194.8 300L195.3 300L195.8 300L196.4 300L196.9 300L197.4 300L197.9 300L198.4 300L198.9 300L199.4 300L199.9 300L200.4 300L200.9 300L201.4 300L201.9 300L202.4 300L202.9 300L203.4 300L203.9 300L204.4 300L204.9 300L205.4 300L206 300L206.5 300L207 300L207.5 300L208 300L208.5 300L209 300L209.5 300L210 300L210.5 300L211 300L211.5 300L212 300L212.5 300L213 300L213.5 300L214 300L214.5 300L215 300L215.6 300L216.1 300L216.6 300L217.1 300L217.6 300L218.1 300L218.6 300L219.1 300L219.6 300L220.1 300L220.6 300L221.1 300L221.6 300L222.1 300L222.6 300L223.1 300L223.6 300L224.1 300L224.6 300L225.1 300L225.7 300L226.2 300L226.7 300L227.2 300L227.7 300L228.2 300L228.7 300L229.2 300L229.7 300L230.2 300L230.7 300L231.2 300L231.7 300L232.2 300L232.7 300L233.2 300L233.7 300L234.2 300L234.7 300L235.3 300L235.8 300L236.3 300L236.8 300L237.3 300L237.8 300L238.3 300L238.8 300L239.3 300L239.8 300L240.3 300L240.8 300L241.3 300L241.8 300L242.3 300L242.8 300L243.3 300L243.8 300L244.3 300L244.9 300L245.4 300L245.9 300L246.4 300L246.9 300L247.4 300L247.9 300L248.4 300L248.9 300L249.4 300L249.9 300L250.4 300L250.9 300L251.4 300L251.9 300L252.4 300L252.9 300L253.4 300L253.9 300L254.5 300L255 300L255.5 300L256 300L256.5 300L257 300L257.5 300L258 300L258.5 300L259 300L259.5 300L260 300L260.5 300L261 300L261.5 300L262 300L262.5 300L263 299.9L263.5 299.9L264.1 299.9L264.6 299.9L265.1 299.9L265.6 299.9L266.1 299.8L266.6 299.8L267.1 299.7L267.6 299.7L268.1 299.6L268.6 299.6L269.1 299.5L269.6 299.4L270.1 299.3L270.6 299.2L271.1 299L271.6 298.9L272.1 298.7L272.6 298.5L273.1 298.2L273.6 297.9L274.2 297.6L274.7 297.2L275.2 296.8L275.7 296.4L276.2 295.8L276.7 295.2L277.2 294.5L277.7 293.8L278.2 292.9L278.7 292L279.2 291L279.7 289.8L280.2 288.5L280.7 287.1L281.2 285.6L281.7 283.8L282.2 282L282.7 279.9L283.2 277.7L283.8 275.3M284.3 272.7h0M284.8 269.9h0M285.3 266.9h0M285.8 263.7h0M286.3 260.2h0M286.8 256.5h0M287.3 252.5h0M287.8 248.4h0M288.3 244h0M288.8 239.3h0M289.3 234.4h0M289.8 229.3h0M290.3 223.9h0M290.8 218.3h0M291.3 212.6h0M291.8 206.6h0M292.3 200.4h0M292.8 194.1h0M293.4 187.6h0M293.9 181h0M294.4 174.3h0M294.9 167.5h0M295.4 160.7h0M295.9 153.8h0M296.4 147h0M296.9 140.2h0M297.4 133.5h0M297.9 126.9h0M298.4 120.4h0M298.9 114.1h0M299.4 108.1h0M299.9 102.3h0M300.4 96.8h0M300.9 91.5h0M301.4 86.7h0M301.9 82.2h0M302.4 78.2h0M303 74.5h0M303.5 71.4h0M304 68.7h0L304.5 66.5L305 64.9L305.5 63.7L306 63.1L306.5 63L307 63.5L307.5 64.5L308 66L308.5 68.1M309 70.6h0M309.5 73.7h0M310 77.2h0M310.5 81.1h0M311 85.5h0M311.5 90.2h0M312 95.4h0M312.5 100.8h0M313.1 106.5h0M313.6 112.5h0M314.1 118.8h0M314.6 125.2h0M315.1 131.8h0M315.6 138.5h0M316.1 145.2h0M316.6 152.1h0M317.1 158.9h0M317.6 165.7h0M318.1 172.5h0M318.6 179.3h0M319.1 185.9h0M319.6 192.4h0M320.1 198.8h0M320.6 205h0M321.1 211h0M321.6 216.9h0M322.1 222.5h0M322.7 227.9h0M323.2 233.1h0M323.7 238h0M324.2 242.8h0M324.7 247.2h0M325.2 251.5h0M325.7 255.5h0M326.2 259.2h0M326.7 262.8h0M327.2 266.1h0M327.7 269.1h0M328.2 272h0M328.7 274.7h0L329.2 277.1L329.7 279.4L330.2 281.5L330.7 283.4L331.2 285.1L331.7 286.7L332.3 288.2L332.8 289.5L333.3 290.7L333.8 291.7L334.3 292.7L334.8 293.6L335.3 294.4L335.8 295.1L336.3 295.7L336.8 296.2L337.3 296.7L337.8 297.1L338.3 297.5L338.8 297.9L339.3 298.2L339.8 298.4L340.3 298.6L340.8 298.8L341.3 299L341.9 299.1L342.4 299.3L342.9 299.4L343.4 299.5L343.9 299.6L344.4 299.6L344.9 299.7L345.4 299.7L345.9 299.8L346.4 299.8L346.9 299.8L347.4 299.9L347.9 299.9L348.4 299.9L348.9 299.9L349.4 299.9L349.9 300L350.4 300L350.9 300L351.4 300L352 300L352.5 300L353 300L353.5 300L354 300L354.5 300L355 300L355.5 300L356 300L356.5 300L357 300L357.5 300L358 300L358.5 300L359 300L359.5 300L360 300L360.5 300L361 300L361.6 300L362.1 300L362.6 300L363.1 300L363.6 300L364.1 300L364.6 300L365.1 300L365.6 300L366.1 300L366.6 300L367.1 300L367.6 300L368.1 300L368.6 300L369.1 300L369.6 300L370.1 300L370.6 300L371.2 300L371.7 300L372.2 300L372.7 300L373.2 300L373.7 300L374.2 300L374.7 300L375.2 300L375.7 300L376.2 300L376.7 300L377.2 300L377.7 300L378.2 300L378.7 300L379.2 300L379.7 300L380.2 300L380.8 300L381.3 300L381.8 300L382.3 300L382.8 300L383.3 300L383.8 300L384.3 300L384.8 300L385.3 300L385.8 300L386.3 300L386.8 300L387.3 300L387.8 300L388.3 300L388.8 300L389.3 300L389.8 300L390.4 300L390.9 300L391.4 300L391.9 300L392.4 300L392.9 300L393.4 300L393.9 300L394.4 300L394.9 300L395.4 300L395.9 300L396.4 300L396.9 300L397.4 300L397.9 300L398.4 300L398.9 300L399.4 300L399.9 300L400.5 300L401 300L401.5 300L402 300L402.5 300L403 300L403.5 300L404 300L404.5 300L405 300L405.5 300L406 300L406.5 300L407 300L407.5 300L408 300L408.5 300L409 300L409.5 300L410.1 300L410.6 300L411.1 300L411.6 300L412.1 300L412.6 300L413.1 300L413.6 300L414.1 300L414.6 300L415.1 300L415.6 300L416.1 300L416.6 300L417.1 300L417.6 300L418.1 300L418.6 300L419.1 300L419.7 300L420.2 300L420.7 300L421.2 300L421.7 300L422.2 300L422.7 300L423.2 300L423.7 300L424.2 300L424.7 300L425.2 300L425.7 300L426.2 300L426.7 300L427.2 300L427.7 300L428.2 300L428.7 300L429.3 300L429.8 300L430.3 300L430.8 300L431.3 300L431.8 300L432.3 300L432.8 300L433.3 300L433.8 300L434.3 300L434.8 300L435.3 300L435.8 300L436.3 300L436.8 300L437.3 300L437.8 300L438.3 300L438.8 300L439.4 300L439.9 300L440.4 300L440.9 300L441.4 300L441.9 300L442.4 300L442.9 300L443.4 300L443.9 300L444.4 300L444.9 300L445.4 300L445.9 300L446.4 300L446.9 300L447.4 300L447.9 300L448.4 300L449 300L449.5 300L450 300L450.5 300L451 300L451.5 300L452 300L452.5 300L453 300L453.5 300L454 300L454.5 300L455 300L455.5 300L456 300L456.5 300L457 300L457.5 300L458 300L458.6 300L459.1 300L459.6 300L460.1 300L460.6 300L461.1 300L461.6 300L462.1 300L462.6 300L463.1 300L463.6 300L464.1 300L464.6 300L465.1 300L465.6 300L466.1 300L466.6 300L467.1 300L467.6 300L468.2 300L468.7 300L469.2 300L469.7 300L470.2 300L470.7 300L471.2 300L471.7 300L472.2 300L472.7 300L473.2 300L473.7 300L474.2 300L474.7 300L475.2 300L475.7 300L476.2 300L476.7 300L477.2 300L477.7 300L478.3 300L478.8 300L479.3 300L479.8 300L480.3 300L480.8 300L481.3 300L481.8 300L482.3 300L482.8 300L483.3 300L483.8 300L484.3 300L484.8 300L485.3 300L485.8 300L486.3 300L486.8 300L487.3 300L487.9 300L488.4 300L488.9 300L489.4 300L489.9 300L490.4 300L490.9 300L491.4 300L491.9 300L492.4 300L492.9 300L493.4 300L493.9 300L494.4 300L494.9 300L495.4 300L495.9 300L496.4 300L496.9 300L497.5 300" stroke="#800000"/><path d="M74.6 300h0L75.1 300L75.6 300L76.1 300L76.6 300L77.1 300L77.6 300L78.1 300L78.6 300L79.1 300L79.7 300L80.2 300L80.7 300L81.2 300L81.7 300L82.2 300L82.7 300L83.2 300L83.7 300L84.2 300L84.7 300L85.2 300L85.7 300L86.2 300L86.7 300L87.2 300L87.7 300L88.2 300L88.7 300L89.3 300L89.8 300L90.3 300L90.8 300L91.3 300L91.8 300L92.3 300L92.8 300L93.3 300L93.8 300L94.3 300L94.8 300L95.3 300L95.8 300L96.3 300L96.8 300L97.3 300L97.8 300L98.3 300L98.8 300L99.4 300L99.9 300L100.4 300L100.9 300L101.4 300L101.9 300L102.4 300L102.9 300L103.4 300L103.9 300L104.4 300L104.9 300L105.4 300L105.9 300L106.4 300L106.9 300L107.4 300L107.9 300L108.4 300L109 300L109.5 300L110 300L110.5 300L111 300L111.5 300L112 300L112.5 300L113 300L113.5 300L114 300L114.5 300L115 300L115.5 300L116 300L116.5 300L117 300L117.5 300L118 300L118.6 300L119.1 300L119.6 300L120.1 300L120.6 300L121.1 300L121.6 300L122.1 300L122.6 300L123.1 300L123.6 300L124.1 300L124.6 300L125.1 300L125.6 300L126.1 300L126.6 300L127.1 300L127.6 300L128.2 300L128.7 300L129.2 300L129.7 300L130.2 300L130.7 300L131.2 300L131.7 300L132.2 300L132.7 300L133.2 300L133.7 300L134.2 300L134.7 300L135.2 300L135.7 300L136.2 300L136.7 300L137.2 300L137.8 300L138.3 300L138.8 300L139.3 300L139.8 300L140.3 300L140.8 300L141.3 300L141.8 300L142.3 300L142.8 300L143.3 300L143.8 300L144.3 300L144.8 300L145.3 300L145.8 300L146.3 300L146.8 300L147.3 300L147.9 300L148.4 300L148.9 300L149.4 300L149.9 300L150.4 300L150.9 300L151.4 300L151.9 300L152.4 300L152.9 300L153.4 300L153.9 300L154.4 300L154.9 300L155.4 300L155.9 300L156.4 300L156.9 300L157.5 300L158 300L158.5 300L159 300L159.5 300L160 300L160.5 300L161 300L161.5 300L162 300L162.5 300L163 300L163.5 300L164 300L164.5 300L165 300L165.5 300L166 300L166.5 300L167.1 300L167.6 300L168.1 300L168.6 300L169.1 300L169.6 300L170.1 300L170.6 300L171.1 300L171.6 300L172.1 300L172.6 300L173.1 300L173.6 300L174.1 300L174.6 300L175.1 300L175.6 300L176.1 300L176.7 300L177.2 300L177.7 300L178.2 300L178.7 300L179.2 300L179.7 300L180.2 300L180.7 300L181.2 300L181.7 300L182.2 300L182.7 300L183.2 300L183.7 300L184.2 300L184.7 300L185.2 300L185.7 300L186.2 300L186.8 300L187.3 300L187.8 300L188.3 300L188.8 300L189.3 300L189.8 300L190.3 300L190.8 300L191.3 300L191.8 300L192.3 300L192.8 300L193.3 300L193.8 300L194.3 300L194.8 300L195.3 300L195.8 300L196.4 300L196.9 300L197.4 300L197.9 300L198.4 300L198.9 300L199.4 300L199.9 300L200.4 300L200.9 300L201.4 300L201.9 300L202.4 300L202.9 300L203.4 300L203.9 300L204.4 300L204.9 300L205.4 300L206 300L206.5 300L207 300L207.5 300L208 300L208.5 300L209 300L209.5 300L210 300L210.5 300L211 300L211.5 300L212 300L212.5 300L213 300L213.5 300L214 300L214.5 300L215 300L215.6 300L216.1 300L216.6 300L217.1 300L217.6 300L218.1 300L218.6 300L219.1 300L219.6 300L220.1 300L220.6 300L221.1 300L221.6 300L222.1 300L222.6 300L223.1 300L223.6 300L224.1 300L224.6 300L225.1 300L225.7 300L226.2 300L226.7 300L227.2 300L227.7 300L228.2 300L228.7 300L229.2 300L229.7 300L230.2 300L230.7 300L231.2 300L231.7 300L232.2 300L232.7 300L233.2 300L233.7 300L234.2 300L234.7 300L235.3 300L235.8 300L236.3 300L236.8 300L237.3 300L237.8 300L238.3 300L238.8 300L239.3 300L239.8 300L240.3 300L240.8 300L241.3 300L241.8 300L242.3 300L242.8 300L243.3 300L243.8 300L244.3 300L244.9 300L245.4 300L245.9 300L246.4 300L246.9 300L247.4 300L247.9 300L248.4 300L248.9 300L249.4 300L249.9 300L250.4 300L250.9 300L251.4 300L251.9 300L252.4 300L252.9 300L253.4 300L253.9 300L254.5 300L255 300L255.5 300L256 300L256.5 300L257 300L257.5 300L258 300L258.5 300L259 300L259.5 300L260 300L260.5 300L261 300L261.5 300L262 300L262.5 300L263 300L263.5 300L264.1 300L264.6 300L265.1 300L265.6 300L266.1 300L266.6 300L267.1 300L267.6 300L268.1 300L268.6 300L269.1 300L269.6 300L270.1 300L270.6 300L271.1 300L271.6 300L272.1 300L272.6 300L273.1 300L273.6 300L274.2 300L274.7 300L275.2 300L275.7 300L276.2 300L276.7 300L277.2 300L277.7 300L278.2 300L278.7 300L279.2 300L279.7 300L280.2 300L280.7 300L281.2 300L281.7 300L282.2 300L282.7 300L283.2 300L283.8 300L284.3 300L284.8 300L285.3 300L285.8 300L286.3 300L286.8 300L287.3 300L287.8 300L288.3 300L288.8 300L289.3 300L289.8 300L290.3 300L290.8 300L291.3 300L291.8 300L292.3 300L292.8 300L293.4 300L293.9 300L294.4 300L294.9 299.9L295.4 299.9L295.9 299.9L296.4 299.9L296.9 299.9L297.4 299.8L297.9 299.8L298.4 299.8L298.9 299.7L299.4 299.7L299.9 299.6L300.4 299.5L300.9 299.5L301.4 299.4L301.9 299.2L302.4 299.1L303 299L303.5 298.8L304 298.6L304.5 298.4L305 298.1L305.5 297.8L306 297.5L306.5 297.1L307 296.7L307.5 296.2L308 295.7L308.5 295.1L309 294.4L309.5 293.7L310 292.9L310.5 292L311 291L311.5 290L312 288.8L312.5 287.6L313.1 286.2L313.6 284.8L314.1 283.2L314.6 281.6L315.1 279.8L315.6 277.9L316.1 275.9L316.6 273.8L317.1 271.5L317.6 269.2L318.1 266.8L318.6 264.2M319.1 261.6h0M319.6 258.9h0M320.1 256.2h0M320.6 253.3h0M321.1 250.5h0M321.6 247.6h0M322.1 244.7h0M322.7 241.7h0M323.2 238.8h0M323.7 235.9h0M324.2 233.1h0M324.7 230.3h0M325.2 227.6h0M325.7 225h0L326.2 222.5L326.7 220.2L327.2 218L327.7 216L328.2 214.1L328.7 212.5L329.2 211L329.7 209.8L330.2 208.8L330.7 208.1L331.2 207.6L331.7 207.3L332.3 207.3L332.8 207.6L333.3 208.1L333.8 208.8L334.3 209.8L334.8 211L335.3 212.5L335.8 214.1L336.3 216L336.8 218L337.3 220.2L337.8 222.5L338.3 225M338.8 227.6h0M339.3 230.3h0M339.8 233.1h0M340.3 235.9h0M340.8 238.8h0M341.3 241.7h0M341.9 244.6h0M342.4 247.6h0M342.9 250.5h0M343.4 253.3h0M343.9 256.2h0M344.4 258.9h0M344.9 261.6h0M345.4 264.2h0L345.9 266.8L346.4 269.2L346.9 271.5L347.4 273.7L347.9 275.9L348.4 277.9L348.9 279.8L349.4 281.5L349.9 283.2L350.4 284.8L350.9 286.2L351.4 287.6L352 288.8L352.5 290L353 291L353.5 292L354 292.9L354.5 293.7L355 294.4L355.5 295.1L356 295.7L356.5 296.2L357 296.7L357.5 297.1L358 297.5L358.5 297.8L359 298.1L359.5 298.3L360 298.6L360.5 298.8L361 299L361.6 299.1L362.1 299.2L362.6 299.4L363.1 299.5L363.6 299.5L364.1 299.6L364.6 299.7L365.1 299.7L365.6 299.8L366.1 299.8L366.6 299.8L367.1 299.9L367.6 299.9L368.1 299.9L368.6 299.9L369.1 299.9L369.6 300L370.1 300L370.6 300L371.2 300L371.7 300L372.2 300L372.7 300L373.2 300L373.7 300L374.2 300L374.7 300L375.2 300L375.7 300L376.2 300L376.7 300L377.2 300L377.7 300L378.2 300L378.7 300L379.2 300L379.7 300L380.2 300L380.8 300L381.3 300L381.8 300L382.3 300L382.8 300L383.3 300L383.8 300L384.3 300L384.8 300L385.3 300L385.8 300L386.3 300L386.8 300L387.3 300L387.8 300L388.3 300L388.8 300L389.3 300L389.8 300L390.4 300L390.9 300L391.4 300L391.9 300L392.4 300L392.9 300L393.4 300L393.9 300L394.4 300L394.9 300L395.4 300L395.9 300L396.4 300L396.9 300L397.4 300L397.9 300L398.4 300L398.9 300L399.4 300L399.9 300L400.5 300L401 300L401.5 300L402 300L402.5 300L403 300L403.5 300L404 300L404.5 300L405 300L405.5 300L406 300L406.5 300L407 300L407.5 300L408 300L408.5 300L409 300L409.5 300L410.1 300L410.6 300L411.1 300L411.6 300L412.1 300L412.6 300L413.1 300L413.6 300L414.1 300L414.6 300L415.1 300L415.6 300L416.1 300L416.6 300L417.1 300L417.6 300L418.1 300L418.6 300L419.1 300L419.7 300L420.2 300L420.7 300L421.2 300L421.7 300L422.2 300L422.7 300L423.2 300L423.7 300L424.2 300L424.7 300L425.2 300L425.7 300L426.2 300L426.7 300L427.2 300L427.7 300L428.2 300L428.7 300L429.3 300L429.8 300L430.3 300L430.8 300L431.3 300L431.8 300L432.3 300L432.8 300L433.3 300L433.8 300L434.3 300L434.8 300L435.3 300L435.8 300L436.3 300L436.8 300L437.3 300L437.8 300L438.3 300L438.8 300L439.4 300L439.9 300L440.4 300L440.9 300L441.4 300L441.9 300L442.4 300L442.9 300L443.4 300L443.9 300L444.4 300L444.9 300L445.4 300L445.9 300L446.4 300L446.9 300L447.4 300L447.9 300L448.4 300L449 300L449.5 300L450 300L450.5 300L451 300L451.5 300L452 300L452.5 300L453 300L453.5 300L454 300L454.5 300L455 300L455.5 300L456 300L456.5 300L457 300L457.5 300L458 300L458.6 300L459.1 300L459.6 300L460.1 300L460.6 300L461.1 300L461.6 300L462.1 300L462.6 300L463.1 300L463.6 300L464.1 300L464.6 300L465.1 300L465.6 300L466.1 300L466.6 300L467.1 300L467.6 300L468.2 300L468.7 300L469.2 300L469.7 300L470.2 300L470.7 300L471.2 300L471.7 300L472.2 300L472.7 300L473.2 300L473.7 300L474.2 300L474.7 300L475.2 300L475.7 300L476.2 300L476.7 300L477.2 300L477.7 300L478.3 300L478.8 300L479.3 300L479.8 300L480.3 300L480.8 300L481.3 300L481.8 300L482.3 300L482.8 300L483.3 300L483.8 300L484.3 300L484.8 300L485.3 300L485.8 300L486.3 300L486.8 300L487.3 300L487.9 300L488.4 300L488.9 300L489.4 300L489.9 300L490.4 300L490.9 300L491.4 300L491.9 300L492.4 300L492.9 300L493.4 300L493.9 300L494.4 300L494.9 300L495.4 300L495.9 300L496.4 300L496.9 300L497.5 300" stroke="#008000"/><path d="M74.6 300h0L75.1 300L75.6 300L76.1 300L76.6 300L77.1 300L77.6 300L78.1 300L78.6 300L79.1 300L79.7 300L80.2 300L80.7 300L81.2 300L81.7 300L82.2 300L82.7 300L83.2 300L83.7 300L84.2 300L84.7 300L85.2 300L85.7 300L86.2 300L86.7 300L87.2 300L87.7 300L88.2 300L88.7 300L89.3 300L89.8 300L90.3 300L90.8 300L91.3 300L91.8 300L92.3 300L92.8 300L93.3 300L93.8 300L94.3 300L94.8 300L95.3 300L95.8 300L96.3 300L96.8 300L97.3 300L97.8 300L98.3 300L98.8 300L99.4 300L99.9 300L100.4 300L100.9 300L101.4 300L101.9 300L102.4 300L102.9 300L103.4 300L103.9 300L104.4 300L104.9 300L105.4 300L105.9 300L106.4 300L106.9 300L107.4 300L107.9 300L108.4 300L109 300L109.5 300L110 300L110.5 300L111 300L111.5 300L112 300L112.5 300L113 300L113.5 300L114 300L114.5 300L115 300L115.5 300L116 300L116.5 300L117 300L117.5 300L118 300L118.6 300L119.1 300L119.6 300L120.1 300L120.6 300L121.1 300L121.6 300L122.1 300L122.6 300L123.1 300L123.6 300L124.1 300L124.6 300L125.1 300L125.6 300L126.1 300L126.6 300L127.1 300L127.6 300L128.2 300L128.7 300L129.2 300L129.7 300L130.2 300L130.7 300L131.2 300L131.7 300L132.2 300L132.7 300L133.2 300L133.7 300L134.2 300L134.7 300L135.2 300L135.7 300L136.2 300L136.7 300L137.2 300L137.8 300L138.3 300L138.8 300L139.3 300L139.8 300L140.3 300L140.8 300L141.3 300L141.8 300L142.3 300L142.8 300L143.3 300L143.8 300L144.3 300L144.8 300L145.3 300L145.8 300L146.3 300L146.8 300L147.3 300L147.9 300L148.4 300L148.9 300L149.4 300L149.9 300L150.4 300L150.9 300L151.4 300L151.9 300L152.4 300L152.9 300L153.4 300L153.9 300L154.4 300L154.9 300L155.4 300L155.9 300L156.4 300L156.9 300L157.5 300L158 300L158.5 300L159 300L159.5 300L160 300L160.5 300L161 300L161.5 300L162 300L162.5 300L163 300L163.5 300L164 300L164.5 300L165 300L165.5 300L166 300L166.5 300L167.1 300L167.6 300L168.1 300L168.6 300L169.1 300L169.6 300L170.1 300L170.6 300L171.1 300L171.6 300L172.1 300L172.6 300L173.1 300L173.6 300L174.1 300L174.6 300L175.1 300L175.6 300L176.1 300L176.7 300L177.2 300L177.7 300L178.2 300L178.7 300L179.2 300L179.7 300L180.2 300L180.7 300L181.2 300L181.7 300L182.2 300L182.7 300L183.2 300L183.7 300L184.2 300L184.7 300L185.2 300L185.7 300L186.2 300L186.8 300L187.3 300L187.8 300L188.3 300L188.8 300L189.3 300L189.8 300L190.3 300L190.8 300L191.3 300L191.8 300L192.3 300L192.8 300L193.3 300L193.8 300L194.3 300L194.8 300L195.3 300L195.8 300L196.4 300L196.9 300L197.4 300L197.9 300L198.4 300L198.9 300L199.4 300L199.9 300L200.4 300L200.9 300L201.4 300L201.9 300L202.4 300L202.9 300L203.4 300L203.9 300L204.4 300L204.9 300L205.4 300L206 300L206.5 300L207 300L207.5 300L208 300L208.5 300L209 300L209.5 300L210 300L210.5 300L211 300L211.5 300L212 300L212.5 300L213 300L213.5 300L214 300L214.5 300L215 300L215.6 300L216.1 300L216.6 300L217.1 300L217.6 300L218.1 300L218.6 300L219.1 300L219.6 300L220.1 300L220.6 300L221.1 300L221.6 300L222.1 300L222.6 300L223.1 300L223.6 300L224.1 300L224.6 300L225.1 300L225.7 300L226.2 300L226.7 300L227.2 300L227.7 300L228.2 300L228.7 300L229.2 300L229.7 300L230.2 300L230.7 300L231.2 300L231.7 300L232.2 300L232.7 300L233.2 300L233.7 300L234.2 300L234.7 300L235.3 300L235.8 300L236.3 300L236.8 300L237.3 300L237.8 300L238.3 300L238.8 300L239.3 300L239.8 300L240.3 300L240.8 300L241.3 300L241.8 300L242.3 300L242.8 300L243.3 300L243.8 300L244.3 300L244.9 300L245.4 300L245.9 300L246.4 300L246.9 300L247.4 300L247.9 300L248.4 300L248.9 300L249.4 300L249.9 300L250.4 300L250.9 300L251.4 300L251.9 300L252.4 300L252.9 300L253.4 300L253.9 300L254.5 300L255 300L255.5 300L256 300L256.5 300L257 300L257.5 300L258 300L258.5 300L259 300L259.5 300L260 300L260.5 300L261 300L261.5 300L262 300L262.5 300L263 300L263.5 300L264.1 300L264.6 300L265.1 300L265.6 300L266.1 300L266.6 300L267.1 300L267.6 300L268.1 300L268.6 300L269.1 300L269.6 300L270.1 300L270.6 300L271.1 300L271.6 300L272.1 300L272.6 300L273.1 300L273.6 300L274.2 300L274.7 300L275.2 300L275.7 300L276.2 300L276.7 300L277.2 300L277.7 300L278.2 300L278.7 300L279.2 300L279.7 300L280.2 300L280.7 300L281.2 300L281.7 300L282.2 300L282.7 300L283.2 300L283.8 300L284.3 300L284.8 300L285.3 300L285.8 300L286.3 300L286.8 300L287.3 300L287.8 300L288.3 300L288.8 300L289.3 300L289.8 300L290.3 300L290.8 300L291.3 300L291.8 300L292.3 300L292.8 300L293.4 300L293.9 300L294.4 300L294.9 300L295.4 300L295.9 300L296.4 300L296.9 300L297.4 300L297.9 300L298.4 300L298.9 300L299.4 300L299.9 300L300.4 300L300.9 300L301.4 300L301.9 300L302.4 300L303 300L303.5 300L304 300L304.5 300L305 300L305.5 300L306 300L306.5 300L307 300L307.5 300L308 300L308.5 300L309 300L309.5 300L310 300L310.5 300L311 300L311.5 300L312 300L312.5 300L313.1 300L313.6 300L314.1 300L314.6 300L315.1 300L315.6 300L316.1 300L316.6 300L317.1 300L317.6 300L318.1 300L318.6 300L319.1 300L319.6 300L320.1 300L320.6 300L321.1 300L321.6 300L322.1 299.9L322.7 299.9L323.2 299.9L323.7 299.9L324.2 299.9L324.7 299.8L325.2 299.8L325.7 299.7L326.2 299.6L326.7 299.6L327.2 299.5L327.7 299.3L328.2 299.2L328.7 299L329.2 298.8L329.7 298.6L330.2 298.3L330.7 298L331.2 297.7L331.7 297.2L332.3 296.7L332.8 296.2L333.3 295.5L333.8 294.8L334.3 294L334.8 293.1L335.3 292.1L335.8 291L336.3 289.8L336.8 288.4L337.3 286.9L337.8 285.3L338.3 283.6L338.8 281.7L339.3 279.7L339.8 277.6L340.3 275.4L340.8 273.1L341.3 270.6L341.9 268.1M342.4 265.5h0M342.9 262.9h0M343.4 260.2h0M343.9 257.5h0M344.4 254.9h0M344.9 252.2h0M345.4 249.6h0L345.9 247.1L346.4 244.7L346.9 242.4L347.4 240.3L347.9 238.4L348.4 236.6L348.9 235.1L349.4 233.9L349.9 232.9L350.4 232.1L350.9 231.7L351.4 231.5L352 231.6L352.5 232L353 232.7L353.5 233.7L354 234.9L354.5 236.3L355 238L355.5 239.9L356 242L356.5 244.2L357 246.6L357.5 249.1M358 251.7h0M358.5 254.3h0M359 257h0M359.5 259.7h0M360 262.4h0M360.5 265h0M361 267.6h0L361.6 270.2L362.1 272.6L362.6 275L363.1 277.2L363.6 279.3L364.1 281.3L364.6 283.2L365.1 285L365.6 286.6L366.1 288.1L366.6 289.5L367.1 290.8L367.6 291.9L368.1 292.9L368.6 293.9L369.1 294.7L369.6 295.4L370.1 296.1L370.6 296.6L371.2 297.1L371.7 297.6L372.2 297.9L372.7 298.3L373.2 298.6L373.7 298.8L374.2 299L374.7 299.2L375.2 299.3L375.7 299.4L376.2 299.5L376.7 299.6L377.2 299.7L377.7 299.8L378.2 299.8L378.7 299.8L379.2 299.9L379.7 299.9L380.2 299.9L380.8 299.9L381.3 300L381.8 300L382.3 300L382.8 300L383.3 300L383.8 300L384.3 300L384.8 300L385.3 300L385.8 300L386.3 300L386.8 300L387.3 300L387.8 300L388.3 300L388.8 300L389.3 300L389.8 300L390.4 300L390.9 300L391.4 300L391.9 300L392.4 300L392.9 300L393.4 300L393.9 300L394.4 300L394.9 300L395.4 300L395.9 300L396.4 300L396.9 300L397.4 300L397.9 300L398.4 300L398.9 300L399.4 300L399.9 300L400.5 300L401 300L401.5 300L402 300L402.5 300L403 300L403.5 300L404 300L404.5 300L405 300L405.5 300L406 300L406.5 300L407 300L407.5 300L408 300L408.5 300L409 300L409.5 300L410.1 300L410.6 300L411.1 300L411.6 300L412.1 300L412.6 300L413.1 300L413.6 300L414.1 300L414.6 300L415.1 300L415.6 300L416.1 300L416.6 300L417.1 300L417.6 300L418.1 300L418.6 300L419.1 300L419.7 300L420.2 300L420.7 300L421.2 300L421.7 300L422.2 300L422.7 300L423.2 300L423.7 300L424.2 300L424.7 300L425.2 300L425.7 300L426.2 300L426.7 300L427.2 300L427.7 300L428.2 300L428.7 300L429.3 300L429.8 300L430.3 300L430.8 300L431.3 300L431.8 300L432.3 300L432.8 300L433.3 300L433.8 300L434.3 300L434.8 300L435.3 300L435.8 300L436.3 300L436.8 300L437.3 300L437.8 300L438.3 300L438.8 300L439.4 300L439.9 300L440.4 300L440.9 300L441.4 300L441.9 300L442.4 300L442.9 300L443.4 300L443.9 300L444.4 300L444.9 300L445.4 300L445.9 300L446.4 300L446.9 300L447.4 300L447.9 300L448.4 300L449 300L449.5 300L450 300L450.5 300L451 300L451.5 300L452 300L452.5 300L453 300L453.5 300L454 300L454.5 300L455 300L455.5 300L456 300L456.5 300L457 300L457.5 300L458 300L458.6 300L459.1 300L459.6 300L460.1 300L460.6 300L461.1 300L461.6 300L462.1 300L462.6 300L463.1 300L463.6 300L464.1 300L464.6 300L465.1 300L465.6 300L466.1 300L466.6 300L467.1 300L467.6 300L468.2 300L468.7 300L469.2 300L469.7 300L470.2 300L470.7 300L471.2 300L471.7 300L472.2 300L472.7 300L473.2 300L473.7 300L474.2 300L474.7 300L475.2 300L475.7 300L476.2 300L476.7 300L477.2 300L477.7 300L478.3 300L478.8 300L479.3 300L479.8 300L480.3 300L480.8 300L481.3 300L481.8 300L482.3 300L482.8 300L483.3 300L483.8 300L484.3 300L484.8 300L485.3 300L485.8 300L486.3 300L486.8 300L487.3 300L487.9 300L488.4 300L488.9 300L489.4 300L489.9 300L490.4 300L490.9 300L491.4 300L491.9 300L492.4 300L492.9 300L493.4 300L493.9 300L494.4 300L494.9 300L495.4 300L495.9 300L496.4 300L496.9 300L497.5 300" stroke="#808000"/><path d="M74.6 300h0L75.1 300L75.6 300L76.1 300L76.6 300L77.1 300L77.6 300L78.1 300L78.6 300L79.1 300L79.7 300L80.2 300L80.7 300L81.2 300L81.7 300L82.2 300L82.7 300L83.2 300L83.7 300L84.2 300L84.7 300L85.2 300L85.7 300L86.2 300L86.7 300L87.2 300L87.7 300L88.2 300L88.7 300L89.3 300L89.8 300L90.3 300L90.8 300L91.3 300L91.8 300L92.3 300L92.8 300L93.3 300L93.8 300L94.3 300L94.8 300L95.3 300L95.8 300L96.3 300L96.8 300L97.3 300L97.8 300L98.3 300L98.8 300L99.4 300L99.9 300L100.4 300L100.9 300L101.4 300L101.9 300L102.4 300L102.9 300L103.4 300L103.9 300L104.4 300L104.9 300L105.4 300L105.9 300L106.4 300L106.9 300L107.4 300L107.9 300L108.4 300L109 300L109.5 300L110 300L110.5 300L111 300L111.5 300L112 300L112.5 300L113 300L113.5 300L114 300L114.5 300L115 300L115.5 300L116 300L116.5 300L117 300L117.5 300L118 300L118.6 300L119.1 300L119.6 300L120.1 300L120.6 300L121.1 300L121.6 300L122.1 300L122.6 300L123.1 300L123.6 300L124.1 300L124.6 300L125.1 300L125.6 300L126.1 300L126.6 300L127.1 300L127.6 300L128.2 300L128.7 300L129.2 300L129.7 300L130.2 300L130.7 300L131.2 300L131.7 300L132.2 300L132.7 300L133.2 300L133.7 300L134.2 300L134.7 300L135.2 300L135.7 300L136.2 300L136.7 300L137.2 300L137.8 300L138.3 300L138.8 300L139.3 300L139.8 300L140.3 300L140.8 300L141.3 300L141.8 300L142.3 300L142.8 300L143.3 300L143.8 300L144.3 300L144.8 300L145.3 300L145.8 300L146.3 300L146.8 300L147.3 300L147.9 300L148.4 300L148.9 300L149.4 300L149.9 300L150.4 300L150.9 300L151.4 300L151.9 300L152.4 300L152.9 300L153.4 300L153.9 300L154.4 300L154.9 300L155.4 300L155.9 300L156.4 300L156.9 300L157.5 300L158 300L158.5 300L159 300L159.5 300L160 300L160.5 300L161 300L161.5 300L162 300L162.5 300L163 300L163.5 300L164 300L164.5 300L165 300L165.5 300L166 300L166.5 300L167.1 300L167.6 300L168.1 300L168.6 300L169.1 300L169.6 300L170.1 300L170.6 300L171.1 300L171.6 300L172.1 300L172.6 300L173.1 300L173.6 300L174.1 300L174.6 300L175.1 300L175.6 300L176.1 300L176.7 300L177.2 300L177.7 300L178.2 300L178.7 300L179.2 300L179.7 300L180.2 300L180.7 300L181.2 300L181.7 300L182.2 300L182.7 300L183.2 300L183.7 300L184.2 300L184.7 300L185.2 300L185.7 300L186.2 300L186.8 300L187.3 300L187.8 300L188.3 300L188.8 300L189.3 300L189.8 300L190.3 300L190.8 300L191.3 300L191.8 300L192.3 300L192.8 300L193.3 300L193.8 300L194.3 300L194.8 300L195.3 300L195.8 300L196.4 300L196.9 300L197.4 300L197.9 300L198.4 300L198.9 300L199.4 300L199.9 300L200.4 300L200.9 300L201.4 300L201.9 300L202.4 300L202.9 300L203.4 300L203.9 300L204.4 300L204.9 300L205.4 300L206 300L206.5 300L207 300L207.5 300L208 300L208.5 300L209 300L209.5 300L210 300L210.5 300L211 300L211.5 300L212 300L212.5 300L213 300L213.5 300L214 300L214.5 300L215 300L215.6 300L216.1 300L216.6 300L217.1 300L217.6 300L218.1 300L218.6 300L219.1 300L219.6 300L220.1 300L220.6 300L221.1 300L221.6 300L222.1 300L222.6 300L223.1 300L223.6 300L224.1 300L224.6 300L225.1 300L225.7 300L226.2 300L226.7 300L227.2 300L227.7 300L228.2 300L228.7 300L229.2 300L229.7 300L230.2 300L230.7 300L231.2 300L231.7 300L232.2 300L232.7 300L233.2 300L233.7 300L234.2 300L234.7 300L235.3 300L235.8 300L236.3 300L236.8 300L237.3 300L237.8 300L238.3 300L238.8 300L239.3 300L239.8 300L240.3 300L240.8 300L241.3 300L241.8 300L242.3 300L242.8 300L243.3 300L243.8 300L244.3 300L244.9 300L245.4 300L245.9 300L246.4 300L246.9 300L247.4 300L247.9 300L248.4 300L248.9 300L249.4 300L249.9 300L250.4 300L250.9 300L251.4 300L251.9 300L252.4 300L252.9 300L253.4 300L253.9 300L254.5 300L255 300L255.5 300L256 300L256.5 300L257 300L257.5 300L258 300L258.5 300L259 300L259.5 300L260 300L260.5 300L261 300L261.5 300L262 300L262.5 300L263 300L263.5 300L264.1 300L264.6 300L265.1 300L265.6 300L266.1 300L266.6 300L267.1 300L267.6 300L268.1 300L268.6 300L269.1 300L269.6 300L270.1 300L270.6 300L271.1 300L271.6 300L272.1 300L272.6 300L273.1 300L273.6 300L274.2 300L274.7 300L275.2 300L275.7 300L276.2 300L276.7 300L277.2 300L277.7 300L278.2 300L278.7 300L279.2 300L279.7 300L280.2 300L280.7 300L281.2 300L281.7 300L282.2 300L282.7 300L283.2 300L283.8 300L284.3 300L284.8 300L285.3 300L285.8 300L286.3 300L286.8 300L287.3 300L287.8 300L288.3 300L288.8 300L289.3 300L289.8 300L290.3 300L290.8 300L291.3 300L291.8 300L292.3 300L292.8 300L293.4 300L293.9 300L294.4 300L294.9 300L295.4 300L295.9 300L296.4 300L296.9 300L297.4 300L297.9 300L298.4 300L298.9 300L299.4 300L299.9 300L300.4 300L300.9 300L301.4 300L301.9 300L302.4 300L303 300L303.5 300L304 300L304.5 300L305 300L305.5 300L306 300L306.5 300L307 300L307.5 300L308 300L308.5 300L309 300L309.5 300L310 300L310.5 300L311 300L311.5 300L312 300L312.5 300L313.1 300L313.6 300L314.1 300L314.6 300L315.1 300L315.6 300L316.1 300L316.6 300L317.1 300L317.6 300L318.1 300L318.6 300L319.1 300L319.6 300L320.1 300L320.6 300L321.1 300L321.6 300L322.1 300L322.7 300L323.2 300L323.7 300L324.2 300L324.7 300L325.2 300L325.7 300L326.2 300L326.7 300L327.2 299.9L327.7 299.9L328.2 299.9L328.7 299.9L329.2 299.9L329.7 299.9L330.2 299.8L330.7 299.8L331.2 299.8L331.7 299.7L332.3 299.7L332.8 299.7L333.3 299.6L333.8 299.5L334.3 299.5L334.8 299.4L335.3 299.3L335.8 299.2L336.3 299.1L336.8 298.9L337.3 298.8L337.8 298.6L338.3 298.5L338.8 298.3L339.3 298.1L339.8 297.8L340.3 297.6L340.8 297.3L341.3 297L341.9 296.6L342.4 296.3L342.9 295.9L343.4 295.5L343.9 295L344.4 294.5L344.9 294L345.4 293.4L345.9 292.8L346.4 292.2L346.9 291.6L347.4 290.9L347.9 290.2L348.4 289.4L348.9 288.6L349.4 287.8L349.9 287L350.4 286.1L350.9 285.3L351.4 284.4L352 283.5L352.5 282.5L353 281.6L353.5 280.7L354 279.8L354.5 278.9L355 278L355.5 277.1L356 276.2L356.5 275.4L357 274.6L357.5 273.9L358 273.2L358.5 272.5L359 271.9L359.5 271.3L360 270.8L360.5 270.4L361 270L361.6 269.7L362.1 269.5L362.6 269.4L363.1 269.3L363.6 269.3L364.1 269.4L364.6 269.5L365.1 269.8L365.6 270.1L366.1 270.4L366.6 270.9L367.1 271.4L367.6 271.9L368.1 272.5L368.6 273.2L369.1 273.9L369.6 274.7L370.1 275.5L370.6 276.3L371.2 277.2L371.7 278.1L372.2 279L372.7 279.9L373.2 280.8L373.7 281.7L374.2 282.6L374.7 283.5L375.2 284.4L375.7 285.3L376.2 286.2L376.7 287.1L377.2 287.9L377.7 288.7L378.2 289.5L378.7 290.2L379.2 290.9L379.7 291.6L380.2 292.3L380.8 292.9L381.3 293.5L381.8 294L382.3 294.6L382.8 295L383.3 295.5L383.8 295.9L384.3 296.3L384.8 296.7L385.3 297L385.8 297.3L386.3 297.6L386.8 297.8L387.3 298.1L387.8 298.3L388.3 298.5L388.8 298.7L389.3 298.8L389.8 299L390.4 299.1L390.9 299.2L391.4 299.3L391.9 299.4L392.4 299.5L392.9 299.5L393.4 299.6L393.9 299.7L394.4 299.7L394.9 299.7L395.4 299.8L395.9 299.8L396.4 299.8L396.9 299.9L397.4 299.9L397.9 299.9L398.4 299.9L398.9 299.9L399.4 299.9L399.9 300L400.5 300L401 300L401.5 300L402 300L402.5 300L403 300L403.5 300L404 300L404.5 300L405 300L405.5 300L406 300L406.5 300L407 300L407.5 300L408 300L408.5 300L409 300L409.5 300L410.1 300L410.6 300L411.1 300L411.6 300L412.1 300L412.6 300L413.1 300L413.6 300L414.1 300L414.6 300L415.1 300L415.6 300L416.1 300L416.6 300L417.1 300L417.6 300L418.1 300L418.6 300L419.1 300L419.7 300L420.2 300L420.7 300L421.2 300L421.7 300L422.2 300L422.7 300L423.2 300L423.7 300L424.2 300L424.7 300L425.2 300L425.7 300L426.2 300L426.7 300L427.2 300L427.7 300L428.2 300L428.7 300L429.3 300L429.8 300L430.3 300L430.8 300L431.3 300L431.8 300L432.3 300L432.8 300L433.3 300L433.8 300L434.3 300L434.8 300L435.3 300L435.8 300L436.3 300L436.8 300L437.3 300L437.8 300L438.3 300L438.8 300L439.4 300L439.9 300L440.4 300L440.9 300L441.4 300L441.9 300L442.4 300L442.9 300L443.4 300L443.9 300L444.4 300L444.9 300L445.4 300L445.9 300L446.4 300L446.9 300L447.4 300L447.9 300L448.4 300L449 300L449.5 300L450 300L450.5 300L451 300L451.5 300L452 300L452.5 300L453 300L453.5 300L454 300L454.5 300L455 300L455.5 300L456 300L456.5 300L457 300L457.5 300L458 300L458.6 300L459.1 300L459.6 300L460.1 300L460.6 300L461.1 300L461.6 300L462.1 300L462.6 300L463.1 300L463.6 300L464.1 300L464.6 300L465.1 300L465.6 300L466.1 300L466.6 300L467.1 300L467.6 300L468.2 300L468.7 300L469.2 300L469.7 300L470.2 300L470.7 300L471.2 300L471.7 300L472.2 300L472.7 300L473.2 300L473.7 300L474.2 300L474.7 300L475.2 300L475.7 300L476.2 300L476.7 300L477.2 300L477.7 300L478.3 300L478.8 300L479.3 300L479.8 300L480.3 300L480.8 300L481.3 300L481.8 300L482.3 300L482.8 300L483.3 300L483.8 300L484.3 300L484.8 300L485.3 300L485.8 300L486.3 300L486.8 300L487.3 300L487.9 300L488.4 300L488.9 300L489.4 300L489.9 300L490.4 300L490.9 300L491.4 300L491.9 300L492.4 300L492.9 300L493.4 300L493.9 300L494.4 300L494.9 300L495.4 300L495.9 300L496.4 300L496.9 300L497.5 300" stroke="#800080"/><path d="M74.6 300h0L75.1 300L75.6 300L76.1 300L76.6 300L77.1 300L77.6 300L78.1 300L78.6 300L79.1 300L79.7 300L80.2 300L80.7 300L81.2 300L81.7 300L82.2 300L82.7 300L83.2 300L83.7 300L84.2 300L84.7 300L85.2 300L85.7 300L86.2 300L86.7 300L87.2 300L87.7 300L88.2 300L88.7 300L89.3 300L89.8 300L90.3 300L90.8 300L91.3 300L91.8 300L92.3 300L92.8 300L93.3 300L93.8 300L94.3 300L94.8 300L95.3 300L95.8 300L96.3 300L96.8 300L97.3 300L97.8 300L98.3 300L98.8 300L99.4 300L99.9 300L100.4 300L100.9 300L101.4 300L101.9 300L102.4 300L102.9 300L103.4 300L103.9 300L104.4 300L104.9 300L105.4 300L105.9 300L106.4 300L106.9 300L107.4 300L107.9 300L108.4 300L109 300L109.5 300L110 300L110.5 300L111 300L111.5 300L112 300L112.5 300L113 300L113.5 300L114 300L114.5 300L115 300L115.5 300L116 300L116.5 300L117 300L117.5 300L118 300L118.6 300L119.1 300L119.6 300L120.1 300L120.6 300L121.1 300L121.6 300L122.1 300L122.6 300L123.1 300L123.6 300L124.1 300L124.6 300L125.1 300L125.6 300L126.1 300L126.6 300L127.1 300L127.6 300L128.2 300L128.7 300L129.2 300L129.7 300L130.2 300L130.7 300L131.2 300L131.7 300L132.2 300L132.7 300L133.2 300L133.7 300L134.2 300L134.7 300L135.2 300L135.7 300L136.2 300L136.7 300L137.2 300L137.8 300L138.3 300L138.8 300L139.3 300L139.8 300L140.3 300L140.8 300L141.3 300L141.8 300L142.3 300L142.8 300L143.3 300L143.8 300L144.3 300L144.8 300L145.3 300L145.8 300L146.3 300L146.8 300L147.3 300L147.9 300L148.4 300L148.9 300L149.4 300L149.9 300L150.4 300L150.9 300L151.4 300L151.9 300L152.4 300L152.9 300L153.4 300L153.9 300L154.4 300L154.9 300L155.4 300L155.9 300L156.4 300L156.9 300L157.5 300L158 300L158.5 300L159 300L159.5 300L160 300L160.5 300L161 300L161.5 300L162 300L162.5 300L163 300L163.5 300L164 300L164.5 300L165 300L165.5 300L166 300L166.5 300L167.1 300L167.6 300L168.1 300L168.6 300L169.1 300L169.6 300L170.1 300L170.6 300L171.1 300L171.6 300L172.1 300L172.6 300L173.1 300L173.6 300L174.1 300L174.6 300L175.1 300L175.6 300L176.1 300L176.7 300L177.2 300L177.7 300L178.2 300L178.7 300L179.2 300L179.7 300L180.2 300L180.7 300L181.2 300L181.7 300L182.2 300L182.7 300L183.2 300L183.7 300L184.2 300L184.7 300L185.2 300L185.7 300L186.2 300L186.8 300L187.3 300L187.8 300L188.3 300L188.8 300L189.3 300L189.8 300L190.3 300L190.8 300L191.3 300L191.8 300L192.3 300L192.8 300L193.3 300L193.8 300L194.3 300L194.8 300L195.3 300L195.8 300L196.4 300L196.9 300L197.4 300L197.9 300L198.4 300L198.9 300L199.4 300L199.9 300L200.4 300L200.9 300L201.4 300L201.9 300L202.4 300L202.9 300L203.4 300L203.9 300L204.4 300L204.9 300L205.4 300L206 300L206.5 300L207 300L207.5 300L208 300L208.5 300L209 300L209.5 300L210 300L210.5 300L211 300L211.5 300L212 300L212.5 300L213 300L213.5 300L214 300L214.5 300L215 300L215.6 300L216.1 300L216.6 300L217.1 300L217.6 300L218.1 300L218.6 300L219.1 300L219.6 300L220.1 300L220.6 300L221.1 300L221.6 300L222.1 300L222.6 300L223.1 300L223.6 300L224.1 300L224.6 300L225.1 300L225.7 300L226.2 300L226.7 300L227.2 300L227.7 300L228.2 300L228.7 300L229.2 300L229.7 300L230.2 300L230.7 300L231.2 300L231.7 300L232.2 300L232.7 300L233.2 300L233.7 300L234.2 300L234.7 300L235.3 300L235.8 300L236.3 300L236.8 300L237.3 300L237.8 300L238.3 300L238.8 300L239.3 300L239.8 300L240.3 300L240.8 300L241.3 300L241.8 300L242.3 300L242.8 300L243.3 300L243.8 300L244.3 300L244.9 300L245.4 300L245.9 300L246.4 300L246.9 300L247.4 300L247.9 300L248.4 300L248.9 300L249.4 300L249.9 300L250.4 300L250.9 300L251.4 300L251.9 300L252.4 300L252.9 300L253.4 300L253.9 300L254.5 300L255 300L255.5 300L256 300L256.5 300L257 300L257.5 300L258 300L258.5 300L259 300L259.5 300L260 300L260.5 300L261 300L261.5 300L262 300L262.5 300L263 300L263.5 300L264.1 300L264.6 300L265.1 300L265.6 300L266.1 300L266.6 300L267.1 300L267.6 300L268.1 300L268.6 300L269.1 300L269.6 300L270.1 300L270.6 300L271.1 300L271.6 300L272.1 300L272.6 300L273.1 300L273.6 300L274.2 300L274.7 300L275.2 300L275.7 300L276.2 300L276.7 300L277.2 300L277.7 300L278.2 300L278.7 300L279.2 300L279.7 300L280.2 300L280.7 300L281.2 300L281.7 300L282.2 300L282.7 300L283.2 300L283.8 300L284.3 300L284.8 300L285.3 300L285.8 300L286.3 300L286.8 300L287.3 300L287.8 300L288.3 300L288.8 300L289.3 300L289.8 300L290.3 300L290.8 300L291.3 300L291.8 300L292.3 300L292.8 300L293.4 300L293.9 300L294.4 300L294.9 300L295.4 300L295.9 300L296.4 300L296.9 300L297.4 300L297.9 300L298.4 300L298.9 300L299.4 300L299.9 300L300.4 300L300.9 300L301.4 300L301.9 300L302.4 300L303 300L303.5 300L304 300L304.5 300L305 300L305.5 300L306 300L306.5 300L307 300L307.5 300L308 300L308.5 300L309 300L309.5 300L310 300L310.5 300L311 300L311.5 300L312 300L312.5 300L313.1 300L313.6 300L314.1 299.9L314.6 299.9L315.1 299.9L315.6 299.9L316.1 299.9L316.6 299.9L317.1 299.9L317.6 299.9L318.1 299.9L318.6 299.9L319.1 299.8L319.6 299.8L320.1 299.8L320.6 299.8L321.1 299.8L321.6 299.7L322.1 299.7L322.7 299.7L323.2 299.6L323.7 299.6L324.2 299.6L324.7 299.5L325.2 299.5L325.7 299.4L326.2 299.4L326.7 299.3L327.2 299.2L327.7 299.1L328.2 299.1L328.7 299L329.2 298.9L329.7 298.8L330.2 298.7L330.7 298.5L331.2 298.4L331.7 298.3L332.3 298.1L332.8 297.9L333.3 297.8L333.8 297.6L334.3 297.4L334.8 297.2L335.3 296.9L335.8 296.7L336.3 296.4L336.8 296.1L337.3 295.8L337.8 295.5L338.3 295.1L338.8 294.8L339.3 294.4L339.8 293.9L340.3 293.5L340.8 293L341.3 292.5L341.9 292L342.4 291.4L342.9 290.9L343.4 290.2L343.9 289.6L344.4 288.9L344.9 288.2L345.4 287.4L345.9 286.7L346.4 285.8L346.9 285L347.4 284.1L347.9 283.1L348.4 282.1L348.9 281.1L349.4 280.1L349.9 278.9L350.4 277.8L350.9 276.6L351.4 275.4L352 274.1L352.5 272.8L353 271.4L353.5 270.1L354 268.6L354.5 267.1L355 265.6L355.5 264.1L356 262.5L356.5 260.9L357 259.2L357.5 257.5L358 255.8L358.5 254L359 252.3L359.5 250.5L360 248.6L360.5 246.8L361 244.9L361.6 243L362.1 241.1L362.6 239.2L363.1 237.3L363.6 235.4L364.1 233.5L364.6 231.6L365.1 229.7L365.6 227.8L366.1 226L366.6 224.1L367.1 222.3L367.6 220.5L368.1 218.7L368.6 216.9L369.1 215.2L369.6 213.6L370.1 212L370.6 210.4L371.2 208.9L371.7 207.4L372.2 206L372.7 204.7L373.2 203.4L373.7 202.2L374.2 201.1L374.7 200L375.2 199L375.7 198.1L376.2 197.3L376.7 196.6L377.2 196L377.7 195.4L378.2 194.9L378.7 194.6L379.2 194.3L379.7 194.1L380.2 194L380.8 194L381.3 194.1L381.8 194.3L382.3 194.6L382.8 194.9L383.3 195.4L383.8 196L384.3 196.6L384.8 197.3L385.3 198.1L385.8 199L386.3 200L386.8 201.1L387.3 202.2L387.8 203.4L388.3 204.7L388.8 206L389.3 207.4L389.8 208.9L390.4 210.4L390.9 211.9L391.4 213.6L391.9 215.2L392.4 216.9L392.9 218.7L393.4 220.5L393.9 222.3L394.4 224.1L394.9 225.9L395.4 227.8L395.9 229.7L396.4 231.6L396.9 233.5L397.4 235.4L397.9 237.3L398.4 239.2L398.9 241.1L399.4 243L399.9 244.9L400.5 246.8L401 248.6L401.5 250.4L402 252.3L402.5 254L403 255.8L403.5 257.5L404 259.2L404.5 260.9L405 262.5L405.5 264.1L406 265.6L406.5 267.1L407 268.6L407.5 270L408 271.4L408.5 272.8L409 274.1L409.5 275.4L410.1 276.6L410.6 277.8L411.1 278.9L411.6 280L412.1 281.1L412.6 282.1L413.1 283.1L413.6 284.1L414.1 285L414.6 285.8L415.1 286.6L415.6 287.4L416.1 288.2L416.6 288.9L417.1 289.6L417.6 290.2L418.1 290.9L418.6 291.4L419.1 292L419.7 292.5L420.2 293L420.7 293.5L421.2 293.9L421.7 294.4L422.2 294.8L422.7 295.1L423.2 295.5L423.7 295.8L424.2 296.1L424.7 296.4L425.2 296.7L425.7 296.9L426.2 297.2L426.7 297.4L427.2 297.6L427.7 297.8L428.2 297.9L428.7 298.1L429.3 298.3L429.8 298.4L430.3 298.5L430.8 298.7L431.3 298.8L431.8 298.9L432.3 299L432.8 299.1L433.3 299.1L433.8 299.2L434.3 299.3L434.8 299.4L435.3 299.4L435.8 299.5L436.3 299.5L436.8 299.6L437.3 299.6L437.8 299.6L438.3 299.7L438.8 299.7L439.4 299.7L439.9 299.8L440.4 299.8L440.9 299.8L441.4 299.8L441.9 299.8L442.4 299.9L442.9 299.9L443.4 299.9L443.9 299.9L444.4 299.9L444.9 299.9L445.4 299.9L445.9 299.9L446.4 299.9L446.9 299.9L447.4 300L447.9 300L448.4 300L449 300L449.5 300L450 300L450.5 300L451 300L451.5 300L452 300L452.5 300L453 300L453.5 300L454 300L454.5 300L455 300L455.5 300L456 300L456.5 300L457 300L457.5 300L458 300L458.6 300L459.1 300L459.6 300L460.1 300L460.6 300L461.1 300L461.6 300L462.1 300L462.6 300L463.1 300L463.6 300L464.1 300L464.6 300L465.1 300L465.6 300L466.1 300L466.6 300L467.1 300L467.6 300L468.2 300L468.7 300L469.2 300L469.7 300L470.2 300L470.7 300L471.2 300L471.7 300L472.2 300L472.7 300L473.2 300L473.7 300L474.2 300L474.7 300L475.2 300L475.7 300L476.2 300L476.7 300L477.2 300L477.7 300L478.3 300L478.8 300L479.3 300L479.8 300L480.3 300L480.8 300L481.3 300L481.8 300L482.3 300L482.8 300L483.3 300L483.8 300L484.3 300L484.8 300L485.3 300L485.8 300L486.3 300L486.8 300L487.3 300L487.9 300L488.4 300L488.9 300L489.4 300L489.9 300L490.4 300L490.9 300L491.4 300L491.9 300L492.4 300L492.9 300L493.4 300L493.9 300L494.4 300L494.9 300L495.4 300L495.9 300L496.4 300L496.9 300L497.5 300" stroke="#008080"/><path d="M74.6 300h0L75.1 300L75.6 300L76.1 300L76.6 300L77.1 300L77.6 300L78.1 300L78.6 300L79.1 300L79.7 300L80.2 300L80.7 300L81.2 300L81.7 300L82.2 300L82.7 300L83.2 300L83.7 300L84.2 300L84.7 300L85.2 300L85.7 300L86.2 300L86.7 300L87.2 300L87.7 300L88.2 300L88.7 300L89.3 300L89.8 300L90.3 300L90.8 300L91.3 300L91.8 300L92.3 300L92.8 300L93.3 300L93.8 300L94.3 300L94.8 300L95.3 300L95.8 300L96.3 300L96.8 300L97.3 300L97.8 300L98.3 300L98.8 300L99.4 300L99.9 300L100.4 300L100.9 300L101.4 300L101.9 300L102.4 300L102.9 300L103.4 300L103.9 300L104.4 300L104.9 300L105.4 300L105.9 300L106.4 300L106.9 300L107.4 300L107.9 300L108.4 300L109 300L109.5 300L110 300L110.5 300L111 300L111.5 300L112 300L112.5 300L113 300L113.5 300L114 300L114.5 300L115 300L115.5 300L116 300L116.5 300L117 300L117.5 300L118 300L118.6 300L119.1 300L119.6 300L120.1 300L120.6 300L121.1 300L121.6 300L122.1 300L122.6 300L123.1 300L123.6 300L124.1 300L124.6 300L125.1 300L125.6 300L126.1 300L126.6 300L127.1 300L127.6 300L128.2 300L128.7 300L129.2 300L129.7 300L130.2 300L130.7 300L131.2 300L131.7 300L132.2 300L132.7 300L133.2 300L133.7 300L134.2 300L134.7 300L135.2 300L135.7 300L136.2 300L136.7 300L137.2 300L137.8 300L138.3 300L138.8 300L139.3 300L139.8 300L140.3 300L140.8 300L141.3 300L141.8 300L142.3 300L142.8 300L143.3 300L143.8 300L144.3 300L144.8 300L145.3 300L145.8 300L146.3 300L146.8 300L147.3 300L147.9 300L148.4 300L148.9 300L149.4 300L149.9 300L150.4 300L150.9 300L151.4 300L151.9 300L152.4 300L152.9 300L153.4 300L153.9 300L154.4 300L154.9 300L155.4 300L155.9 300L156.4 300L156.9 300L157.5 300L158 300L158.5 300L159 300L159.5 300L160 300L160.5 300L161 300L161.5 300L162 300L162.5 300L163 300L163.5 300L164 300L164.5 300L165 300L165.5 300L166 300L166.5 300L167.1 300L167.6 300L168.1 300L168.6 300L169.1 300L169.6 300L170.1 300L170.6 300L171.1 300L171.6 300L172.1 300L172.6 300L173.1 300L173.6 300L174.1 300L174.6 300L175.1 300L175.6 300L176.1 300L176.7 300L177.2 300L177.7 300L178.2 300L178.7 300L179.2 300L179.7 300L180.2 300L180.7 300L181.2 300L181.7 300L182.2 300L182.7 300L183.2 300L183.7 300L184.2 300L184.7 300L185.2 300L185.7 300L186.2 300L186.8 300L187.3 300L187.8 300L188.3 300L188.8 300L189.3 300L189.8 300L190.3 300L190.8 300L191.3 300L191.8 300L192.3 300L192.8 300L193.3 300L193.8 300L194.3 300L194.8 300L195.3 300L195.8 300L196.4 300L196.9 300L197.4 300L197.9 300L198.4 300L198.9 300L199.4 300L199.9 300L200.4 300L200.9 300L201.4 300L201.9 300L202.4 300L202.9 300L203.4 300L203.9 300L204.4 300L204.9 300L205.4 300L206 300L206.5 300L207 300L207.5 300L208 300L208.5 300L209 300L209.5 300L210 300L210.5 300L211 300L211.5 300L212 300L212.5 300L213 300L213.5 300L214 300L214.5 300L215 300L215.6 300L216.1 300L216.6 300L217.1 300L217.6 300L218.1 300L218.6 300L219.1 300L219.6 300L220.1 300L220.6 300L221.1 300L221.6 300L222.1 300L222.6 300L223.1 300L223.6 300L224.1 300L224.6 300L225.1 300L225.7 300L226.2 300L226.7 300L227.2 300L227.7 300L228.2 300L228.7 300L229.2 300L229.7 300L230.2 300L230.7 300L231.2 300L231.7 300L232.2 300L232.7 300L233.2 300L233.7 300L234.2 300L234.7 300L235.3 300L235.8 300L236.3 300L236.8 300L237.3 300L237.8 300L238.3 300L238.8 300L239.3 300L239.8 300L240.3 300L240.8 300L241.3 300L241.8 300L242.3 300L242.8 300L243.3 300L243.8 300L244.3 300L244.9 300L245.4 300L245.9 300L246.4 300L246.9 300L247.4 300L247.9 300L248.4 300L248.9 300L249.4 300L249.9 300L250.4 300L250.9 300L251.4 300L251.9 300L252.4 300L252.9 300L253.4 300L253.9 300L254.5 300L255 300L255.5 300L256 300L256.5 300L257 300L257.5 300L258 300L258.5 300L259 300L259.5 300L260 300L260.5 300L261 300L261.5 300L262 300L262.5 300L263 300L263.5 300L264.1 300L264.6 300L265.1 300L265.6 300L266.1 300L266.6 300L267.1 300L267.6 300L268.1 300L268.6 300L269.1 300L269.6 300L270.1 300L270.6 300L271.1 300L271.6 300L272.1 300L272.6 300L273.1 300L273.6 300L274.2 300L274.7 300L275.2 300L275.7 300L276.2 300L276.7 300L277.2 300L277.7 300L278.2 300L278.7 300L279.2 300L279.7 300L280.2 300L280.7 300L281.2 300L281.7 300L282.2 300L282.7 300L283.2 300L283.8 300L284.3 300L284.8 300L285.3 300L285.8 300L286.3 300L286.8 300L287.3 300L287.8 300L288.3 300L288.8 300L289.3 300L289.8 300L290.3 300L290.8 300L291.3 300L291.8 300L292.3 300L292.8 300L293.4 300L293.9 300L294.4 300L294.9 300L295.4 300L295.9 300L296.4 300L296.9 300L297.4 300L297.9 300L298.4 300L298.9 300L299.4 300L299.9 300L300.4 300L300.9 300L301.4 300L301.9 300L302.4 300L303 300L303.5 300L304 300L304.5 300L305 300L305.5 300L306 300L306.5 300L307 300L307.5 300L308 300L308.5 300L309 300L309.5 300L310 300L310.5 300L311 300L311.5 300L312 300L312.5 300L313.1 300L313.6 300L314.1 300L314.6 300L315.1 300L315.6 300L316.1 300L316.6 300L317.1 300L317.6 300L318.1 300L318.6 300L319.1 300L319.6 300L320.1 300L320.6 300L321.1 300L321.6 300L322.1 300L322.7 300L323.2 300L323.7 300L324.2 300L324.7 300L325.2 300L325.7 300L326.2 300L326.7 300L327.2 300L327.7 300L328.2 300L328.7 300L329.2 300L329.7 300L330.2 300L330.7 300L331.2 300L331.7 300L332.3 300L332.8 300L333.3 300L333.8 300L334.3 300L334.8 300L335.3 300L335.8 300L336.3 300L336.8 300L337.3 300L337.8 300L338.3 300L338.8 300L339.3 300L339.8 300L340.3 300L340.8 300L341.3 300L341.9 300L342.4 300L342.9 300L343.4 300L343.9 300L344.4 300L344.9 300L345.4 300L345.9 300L346.4 300L346.9 300L347.4 300L347.9 300L348.4 300L348.9 300L349.4 300L349.9 300L350.4 300L350.9 300L351.4 300L352 300L352.5 300L353 300L353.5 300L354 300L354.5 300L355 300L355.5 300L356 299.9L356.5 299.9L357 299.9L357.5 299.9L358 299.9L358.5 299.9L359 299.9L359.5 299.9L360 299.8L360.5 299.8L361 299.8L361.6 299.8L362.1 299.8L362.6 299.7L363.1 299.7L363.6 299.7L364.1 299.6L364.6 299.6L365.1 299.5L365.6 299.5L366.1 299.4L366.6 299.4L367.1 299.3L367.6 299.2L368.1 299.1L368.6 299L369.1 298.9L369.6 298.8L370.1 298.7L370.6 298.6L371.2 298.4L371.7 298.3L372.2 298.1L372.7 297.9L373.2 297.8L373.7 297.6L374.2 297.3L374.7 297.1L375.2 296.8L375.7 296.6L376.2 296.3L376.7 296L377.2 295.7L377.7 295.3L378.2 294.9L378.7 294.5L379.2 294.1L379.7 293.7L380.2 293.2L380.8 292.7L381.3 292.2L381.8 291.6L382.3 291.1L382.8 290.5L383.3 289.8L383.8 289.2L384.3 288.5L384.8 287.8L385.3 287L385.8 286.2L386.3 285.4L386.8 284.6L387.3 283.7L387.8 282.9L388.3 281.9L388.8 281L389.3 280L389.8 279L390.4 278L390.9 277L391.4 276L391.9 274.9L392.4 273.8L392.9 272.7L393.4 271.6L393.9 270.5L394.4 269.4L394.9 268.2L395.4 267.1L395.9 266L396.4 264.8L396.9 263.7L397.4 262.6L397.9 261.5L398.4 260.4L398.9 259.4L399.4 258.3L399.9 257.3L400.5 256.3L401 255.4L401.5 254.5L402 253.6L402.5 252.7L403 251.9L403.5 251.2L404 250.5L404.5 249.8L405 249.2L405.5 248.7L406 248.2L406.5 247.8L407 247.4L407.5 247.1L408 246.9L408.5 246.7L409 246.6L409.5 246.5L410.1 246.5L410.6 246.6L411.1 246.7L411.6 246.9L412.1 247.2L412.6 247.5L413.1 247.9L413.6 248.4L414.1 248.9L414.6 249.5L415.1 250.1L415.6 250.8L416.1 251.5L416.6 252.3L417.1 253.1L417.6 253.9L418.1 254.8L418.6 255.8L419.1 256.7L419.7 257.7L420.2 258.8L420.7 259.8L421.2 260.9L421.7 262L422.2 263.1L422.7 264.2L423.2 265.3L423.7 266.4L424.2 267.5L424.7 268.7L425.2 269.8L425.7 270.9L426.2 272L426.7 273.1L427.2 274.2L427.7 275.3L428.2 276.4L428.7 277.4L429.3 278.4L429.8 279.4L430.3 280.4L430.8 281.4L431.3 282.3L431.8 283.2L432.3 284.1L432.8 284.9L433.3 285.8L433.8 286.6L434.3 287.3L434.8 288.1L435.3 288.8L435.8 289.4L436.3 290.1L436.8 290.7L437.3 291.3L437.8 291.9L438.3 292.4L438.8 292.9L439.4 293.4L439.9 293.8L440.4 294.3L440.9 294.7L441.4 295.1L441.9 295.4L442.4 295.8L442.9 296.1L443.4 296.4L443.9 296.7L444.4 296.9L444.9 297.2L445.4 297.4L445.9 297.6L446.4 297.8L446.9 298L447.4 298.2L447.9 298.3L448.4 298.5L449 298.6L449.5 298.8L450 298.9L450.5 299L451 299.1L451.5 299.2L452 299.2L452.5 299.3L453 299.4L453.5 299.4L454 299.5L454.5 299.5L455 299.6L455.5 299.6L456 299.7L456.5 299.7L457 299.7L457.5 299.8L458 299.8L458.6 299.8L459.1 299.8L459.6 299.9L460.1 299.9L460.6 299.9L461.1 299.9L461.6 299.9L462.1 299.9L462.6 299.9L463.1 299.9L463.6 299.9L464.1 300L464.6 300L465.1 300L465.6 300L466.1 300L466.6 300L467.1 300L467.6 300L468.2 300L468.7 300L469.2 300L469.7 300L470.2 300L470.7 300L471.2 300L471.7 300L472.2 300L472.7 300L473.2 300L473.7 300L474.2 300L474.7 300L475.2 300L475.7 300L476.2 300L476.7 300L477.2 300L477.7 300L478.3 300L478.8 300L479.3 300L479.8 300L480.3 300L480.8 300L481.3 300L481.8 300L482.3 300L482.8 300L483.3 300L483.8 300L484.3 300L484.8 300L485.3 300L485.8 300L486.3 300L486.8 300L487.3 300L487.9 300L488.4 300L488.9 300L489.4 300L489.9 300L490.4 300L490.9 300L491.4 300L491.9 300L492.4 300L492.9 300L493.4 300L493.9 300L494.4 300L494.9 300L495.4 300L495.9 300L496.4 300L496.9 300L497.5 300" stroke="#808080"/><path d="M74.6 300h0L75.1 300L75.6 300L76.1 300L76.6 300L77.1 300L77.6 300L78.1 300L78.6 300L79.1 300L79.7 300L80.2 300L80.7 300L81.2 300L81.7 300L82.2 300L82.7 300L83.2 300L83.7 300L84.2 300L84.7 300L85.2 300L85.7 300L86.2 300L86.7 300L87.2 300L87.7 300L88.2 300L88.7 300L89.3 300L89.8 300L90.3 300L90.8 300L91.3 300L91.8 300L92.3 300L92.8 300L93.3 300L93.8 300L94.3 300L94.8 300L95.3 300L95.8 300L96.3 300L96.8 300L97.3 300L97.8 300L98.3 300L98.8 300L99.4 300L99.9 300L100.4 300L100.9 300L101.4 300L101.9 300L102.4 300L102.9 300L103.4 300L103.9 300L104.4 300L104.9 300L105.4 300L105.9 300L106.4 300L106.9 300L107.4 300L107.9 300L108.4 300L109 300L109.5 300L110 300L110.5 300L111 300L111.5 300L112 300L112.5 300L113 300L113.5 300L114 300L114.5 300L115 300L115.5 300L116 300L116.5 300L117 300L117.5 300L118 300L118.6 300L119.1 300L119.6 300L120.1 300L120.6 300L121.1 300L121.6 300L122.1 300L122.6 300L123.1 300L123.6 300L124.1 300L124.6 300L125.1 300L125.6 300L126.1 300L126.6 300L127.1 300L127.6 300L128.2 300L128.7 300L129.2 300L129.7 300L130.2 300L130.7 300L131.2 300L131.7 300L132.2 300L132.7 300L133.2 300L133.7 300L134.2 300L134.7 300L135.2 300L135.7 300L136.2 300L136.7 300L137.2 300L137.8 300L138.3 300L138.8 300L139.3 300L139.8 300L140.3 300L140.8 300L141.3 300L141.8 300L142.3 300L142.8 300L143.3 300L143.8 300L144.3 300L144.8 300L145.3 300L145.8 300L146.3 300L146.8 300L147.3 300L147.9 300L148.4 300L148.9 300L149.4 300L149.9 300L150.4 300L150.9 300L151.4 300L151.9 300L152.4 300L152.9 300L153.4 300L153.9 300L154.4 300L154.9 300L155.4 300L155.9 300L156.4 300L156.9 300L157.5 300L158 300L158.5 300L159 300L159.5 300L160 300L160.5 300L161 300L161.5 300L162 300L162.5 300L163 300L163.5 300L164 300L164.5 300L165 300L165.5 300L166 300L166.5 300L167.1 300L167.6 300L168.1 300L168.6 300L169.1 300L169.6 300L170.1 300L170.6 300L171.1 300L171.6 300L172.1 300L172.6 300L173.1 300L173.6 300L174.1 300L174.6 300L175.1 300L175.6 300L176.1 300L176.7 300L177.2 300L177.7 300L178.2 300L178.7 300L179.2 300L179.7 300L180.2 300L180.7 300L181.2 300L181.7 300L182.2 300L182.7 300L183.2 300L183.7 300L184.2 300L184.7 300L185.2 300L185.7 300L186.2 300L186.8 300L187.3 300L187.8 300L188.3 300L188.8 300L189.3 300L189.8 300L190.3 300L190.8 300L191.3 300L191.8 300L192.3 300L192.8 300L193.3 300L193.8 300L194.3 300L194.8 300L195.3 300L195.8 300L196.4 300L196.9 300L197.4 300L197.9 300L198.4 300L198.9 300L199.4 300L199.9 300L200.4 300L200.9 300L201.4 300L201.9 300L202.4 300L202.9 300L203.4 300L203.9 300L204.4 300L204.9 300L205.4 300L206 300L206.5 300L207 300L207.5 300L208 300L208.5 300L209 300L209.5 300L210 300L210.5 300L211 300L211.5 300L212 300L212.5 300L213 300L213.5 300L214 300L214.5 300L215 300L215.6 300L216.1 300L216.6 300L217.1 300L217.6 300L218.1 300L218.6 300L219.1 300L219.6 300L220.1 300L220.6 300L221.1 300L221.6 300L222.1 300L222.6 300L223.1 300L223.6 300L224.1 300L224.6 300L225.1 300L225.7 300L226.2 300L226.7 300L227.2 300L227.7 300L228.2 300L228.7 300L229.2 300L229.7 300L230.2 300L230.7 300L231.2 300L231.7 300L232.2 300L232.7 300L233.2 300L233.7 300L234.2 300L234.7 300L235.3 300L235.8 300L236.3 300L236.8 300L237.3 300L237.8 300L238.3 300L238.8 300L239.3 300L239.8 300L240.3 300L240.8 300L241.3 300L241.8 300L242.3 300L242.8 300L243.3 300L243.8 300L244.3 300L244.9 300L245.4 300L245.9 300L246.4 300L246.9 300L247.4 300L247.9 300L248.4 300L248.9 300L249.4 300L249.9 300L250.4 300L250.9 300L251.4 300L251.9 300L252.4 300L252.9 300L253.4 300L253.9 300L254.5 300L255 300L255.5 300L256 300L256.5 300L257 300L257.5 300L258 300L258.5 300L259 300L259.5 300L260 300L260.5 300L261 300L261.5 300L262 300L262.5 300L263 300L263.5 300L264.1 300L264.6 300L265.1 300L265.6 300L266.1 300L266.6 300L267.1 300L267.6 300L268.1 300L268.6 300L269.1 300L269.6 300L270.1 300L270.6 300L271.1 300L271.6 300L272.1 300L272.6 300L273.1 300L273.6 300L274.2 300L274.7 300L275.2 300L275.7 300L276.2 300L276.7 300L277.2 300L277.7 300L278.2 300L278.7 300L279.2 300L279.7 300L280.2 300L280.7 300L281.2 300L281.7 300L282.2 300L282.7 300L283.2 300L283.8 300L284.3 300L284.8 300L285.3 300L285.8 300L286.3 300L286.8 300L287.3 300L287.8 300L288.3 300L288.8 300L289.3 300L289.8 300L290.3 300L290.8 300L291.3 300L291.8 300L292.3 300L292.8 300L293.4 300L293.9 300L294.4 300L294.9 300L295.4 300L295.9 300L296.4 300L296.9 300L297.4 300L297.9 300L298.4 300L298.9 300L299.4 300L299.9 300L300.4 300L300.9 300L301.4 300L301.9 300L302.4 300L303 300L303.5 300L304 300L304.5 300L305 300L305.5 300L306 300L306.5 300L307 300L307.5 300L308 300L308.5 300L309 300L309.5 300L310 300L310.5 300L311 300L311.5 300L312 300L312.5 300L313.1 300L313.6 300L314.1 300L314.6 300L315.1 300L315.6 300L316.1 300L316.6 300L317.1 300L317.6 300L318.1 300L318.6 300L319.1 300L319.6 300L320.1 300L320.6 300L321.1 300L321.6 300L322.1 300L322.7 300L323.2 300L323.7 300L324.2 300L324.7 300L325.2 300L325.7 300L326.2 300L326.7 300L327.2 300L327.7 300L328.2 300L328.7 300L329.2 300L329.7 300L330.2 300L330.7 300L331.2 300L331.7 300L332.3 300L332.8 300L333.3 300L333.8 300L334.3 300L334.8 300L335.3 300L335.8 300L336.3 300L336.8 300L337.3 300L337.8 300L338.3 299.9L338.8 299.9L339.3 299.9L339.8 299.9L340.3 299.9L340.8 299.9L341.3 299.9L341.9 299.9L342.4 299.9L342.9 299.9L343.4 299.9L343.9 299.9L344.4 299.9L344.9 299.9L345.4 299.9L345.9 299.9L346.4 299.8L346.9 299.8L347.4 299.8L347.9 299.8L348.4 299.8L348.9 299.8L349.4 299.8L349.9 299.7L350.4 299.7L350.9 299.7L351.4 299.7L352 299.7L352.5 299.7L353 299.6L353.5 299.6L354 299.6L354.5 299.6L355 299.5L355.5 299.5L356 299.5L356.5 299.4L357 299.4L357.5 299.4L358 299.3L358.5 299.3L359 299.3L359.5 299.2L360 299.2L360.5 299.1L361 299.1L361.6 299L362.1 299L362.6 298.9L363.1 298.8L363.6 298.8L364.1 298.7L364.6 298.6L365.1 298.6L365.6 298.5L366.1 298.4L366.6 298.3L367.1 298.2L367.6 298.1L368.1 298L368.6 297.9L369.1 297.8L369.6 297.7L370.1 297.6L370.6 297.5L371.2 297.4L371.7 297.2L372.2 297.1L372.7 297L373.2 296.8L373.7 296.7L374.2 296.5L374.7 296.4L375.2 296.2L375.7 296L376.2 295.8L376.7 295.6L377.2 295.4L377.7 295.2L378.2 295L378.7 294.8L379.2 294.6L379.7 294.4L380.2 294.1L380.8 293.9L381.3 293.6L381.8 293.4L382.3 293.1L382.8 292.8L383.3 292.5L383.8 292.2L384.3 291.9L384.8 291.6L385.3 291.3L385.8 291L386.3 290.6L386.8 290.3L387.3 289.9L387.8 289.6L388.3 289.2L388.8 288.8L389.3 288.4L389.8 288L390.4 287.6L390.9 287.2L391.4 286.8L391.9 286.3L392.4 285.9L392.9 285.4L393.4 285L393.9 284.5L394.4 284L394.9 283.5L395.4 283L395.9 282.5L396.4 282L396.9 281.4L397.4 280.9L397.9 280.4L398.4 279.8L398.9 279.2L399.4 278.7L399.9 278.1L400.5 277.5L401 276.9L401.5 276.3L402 275.7L402.5 275.1L403 274.5L403.5 273.9L404 273.3L404.5 272.6L405 272L405.5 271.4L406 270.7L406.5 270.1L407 269.4L407.5 268.8L408 268.2L408.5 267.5L409 266.9L409.5 266.2L410.1 265.6L410.6 264.9L411.1 264.3L411.6 263.6L412.1 263L412.6 262.3L413.1 261.7L413.6 261L414.1 260.4L414.6 259.8L415.1 259.2L415.6 258.6L416.1 258L416.6 257.4L417.1 256.8L417.6 256.2L418.1 255.6L418.6 255L419.1 254.5L419.7 253.9L420.2 253.4L420.7 252.9L421.2 252.4L421.7 251.9L422.2 251.4L422.7 250.9L423.2 250.5L423.7 250L424.2 249.6L424.7 249.2L425.2 248.8L425.7 248.4L426.2 248.1L426.7 247.7L427.2 247.4L427.7 247.1L428.2 246.8L428.7 246.5L429.3 246.3L429.8 246L430.3 245.8L430.8 245.6L431.3 245.5L431.8 245.3L432.3 245.2L432.8 245.1L433.3 245L433.8 244.9L434.3 244.8L434.8 244.8L435.3 244.8L435.8 244.8L436.3 244.8L436.8 244.9L437.3 245L437.8 245.1L438.3 245.2L438.8 245.3L439.4 245.5L439.9 245.6L440.4 245.8L440.9 246.1L441.4 246.3L441.9 246.5L442.4 246.8L442.9 247.1L443.4 247.4L443.9 247.7L444.4 248.1L444.9 248.4L445.4 248.8L445.9 249.2L446.4 249.6L446.9 250.1L447.4 250.5L447.9 251L448.4 251.4L449 251.9L449.5 252.4L450 252.9L450.5 253.4L451 254L451.5 254.5L452 255.1L452.5 255.6L453 256.2L453.5 256.8L454 257.4L454.5 258L455 258.6L455.5 259.2L456 259.8L456.5 260.5L457 261.1L457.5 261.7L458 262.4L458.6 263L459.1 263.6L459.6 264.3L460.1 264.9L460.6 265.6L461.1 266.2L461.6 266.9L462.1 267.5L462.6 268.2L463.1 268.8L463.6 269.5L464.1 270.1L464.6 270.8L465.1 271.4L465.6 272L466.1 272.7L466.6 273.3L467.1 273.9L467.6 274.5L468.2 275.2L468.7 275.8L469.2 276.4L469.7 277L470.2 277.5L470.7 278.1L471.2 278.7L471.7 279.3L472.2 279.8L472.7 280.4L473.2 280.9L473.7 281.5L474.2 282L474.7 282.5L475.2 283L475.7 283.5L476.2 284L476.7 284.5L477.2 285L477.7 285.4L478.3 285.9L478.8 286.3L479.3 286.8L479.8 287.2L480.3 287.6L480.8 288L481.3 288.4L481.8 288.8L482.3 289.2L482.8 289.6L483.3 290L483.8 290.3L484.3 290.7L484.8 291L485.3 291.3L485.8 291.7L486.3 292L486.8 292.3L487.3 292.6L487.9 292.8L488.4 293.1L488.9 293.4L489.4 293.6L489.9 293.9L490.4 294.1L490.9 294.4L491.4 294.6L491.9 294.8L492.4 295.1L492.9 295.3L493.4 295.5L493.9 295.7L494.4 295.8L494.9 296L495.4 296.2L495.9 296.4L496.4 296.5L496.9 296.7L497.5 296.8" stroke="#000080"/></g>
<g font-size="10.4" fill="#000"><text x="64.6" y="303.5" text-anchor="end">0</text><text x="64.6" y="255.3" text-anchor="end">10000</text><text x="64.6" y="205.8" text-anchor="end">20000</text><text x="64.6" y="156.3" text-anchor="end">30000</text><text x="64.6" y="107.1" text-anchor="end">40000</text><text x="64.6" y="57.5" text-anchor="end">50000</text><text x="64.6" y="8.7" text-anchor="end">60000</text><text x="117.8" y="314.8" text-anchor="middle">500</text><text x="217.5" y="314.8" text-anchor="middle">520</text><text x="318.9" y="314.8" text-anchor="middle">540</text><text x="418" y="314.8" text-anchor="middle">560</text></g>
<text x="289.5" y="339.3" font-size="12" text-anchor="middle">Energy Loss (eV)</text>
<text transform="translate(10.9 153) rotate(-90)" font-size="12" text-anchor="middle">Intensity (arb. units)</text>
<rect x="500.6" y="33.9" width="102.2" height="213.4" fill="#fff" stroke="#8c8c8c" stroke-width="1.3"/>
<g font-size="12" fill="#000"><circle cx="521.9" cy="48.7" r="2.4" fill="none" stroke="#000" stroke-width="1"/><text x="541.5" y="53.4">Exp. data</text><path d="M508 64H536" stroke="#000" stroke-width="1.8"/><text x="541.5" y="68.7">Fit</text><circle cx="521.9" cy="79.2" r="1.65" fill="#0000ff"/><text x="541.5" y="83.9">514.6 eV</text><circle cx="521.9" cy="94.5" r="1.65" fill="#ff0000"/><text x="541.5" y="99.2">524.1 eV</text><circle cx="521.9" cy="109.7" r="1.65" fill="#ff00ff"/><text x="541.5" y="114.4">532.1 eV</text><circle cx="521.9" cy="125" r="1.65" fill="#00ffff"/><text x="541.5" y="129.7">535 eV</text><circle cx="521.9" cy="140.2" r="1.65" fill="#800000"/><text x="541.5" y="144.9">538 eV</text><circle cx="521.9" cy="155.4" r="1.65" fill="#008000"/><text x="541.5" y="160.1">543 eV</text><circle cx="521.9" cy="170.7" r="1.65" fill="#808000"/><text x="541.5" y="175.4">546.7 eV</text><circle cx="521.9" cy="185.9" r="1.65" fill="#800080"/><text x="541.5" y="190.6">549.2 eV</text><circle cx="521.9" cy="201.2" r="1.65" fill="#008080"/><text x="541.5" y="205.9">552.6 eV</text><circle cx="521.9" cy="216.4" r="1.65" fill="#808080"/><text x="541.5" y="221.1">558.5 eV</text><circle cx="521.9" cy="231.7" r="1.65" fill="#000080"/><text x="541.5" y="236.4">563.5 eV</text></g>
</svg>
</body></html>
